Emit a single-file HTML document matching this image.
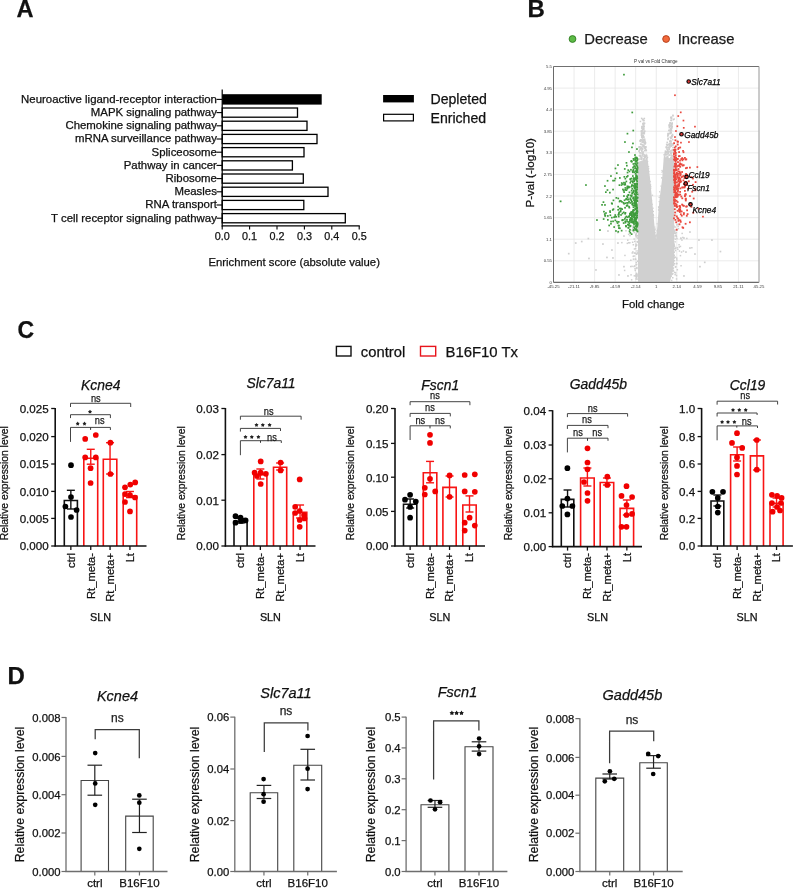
<!DOCTYPE html>
<html><head><meta charset="utf-8"><title>Figure</title>
<style>
html,body{margin:0;padding:0;background:#fff;}
body{width:794px;height:888px;overflow:hidden;}
svg{display:block;font-family:"Liberation Sans",sans-serif;filter:blur(0.3px);}
</style></head><body>
<svg width="794" height="888" viewBox="0 0 794 888">
<rect width="794" height="888" fill="#fff"/>
<text x="16.6" y="17" font-size="23.6" text-anchor="start" fill="#111" stroke="#111" stroke-width="0.25" font-weight="bold">A</text>
<text x="527.6" y="16.8" font-size="24" text-anchor="start" fill="#111" stroke="#111" stroke-width="0.25" font-weight="bold">B</text>
<text x="17.5" y="338" font-size="23" text-anchor="start" fill="#111" stroke="#111" stroke-width="0.25" font-weight="bold">C</text>
<text x="7.6" y="684.2" font-size="24" text-anchor="start" fill="#111" stroke="#111" stroke-width="0.25" font-weight="bold">D</text>
<rect x="222.2" y="94.2" width="99.5" height="10.4" fill="#000" stroke="none" stroke-width="1" />
<line x1="216.5" y1="99.4" x2="222.2" y2="99.4" stroke="#000" stroke-width="1.1" />
<text x="216.9" y="102.7" font-size="10.56" text-anchor="end" fill="#111" stroke="#111" stroke-width="0.25" textLength="195.81" lengthAdjust="spacingAndGlyphs">Neuroactive ligand-receptor interaction</text>
<rect x="222.2" y="108" width="75.3" height="9.2" fill="#fff" stroke="#000" stroke-width="1.3" />
<line x1="216.5" y1="112.6" x2="222.2" y2="112.6" stroke="#000" stroke-width="1.1" />
<text x="216.9" y="115.9" font-size="10.56" text-anchor="end" fill="#111" stroke="#111" stroke-width="0.25" textLength="126.10" lengthAdjust="spacingAndGlyphs">MAPK signaling pathway</text>
<rect x="222.2" y="121.2" width="84.8" height="9.2" fill="#fff" stroke="#000" stroke-width="1.3" />
<line x1="216.5" y1="125.8" x2="222.2" y2="125.8" stroke="#000" stroke-width="1.1" />
<text x="216.9" y="129.1" font-size="10.56" text-anchor="end" fill="#111" stroke="#111" stroke-width="0.25" textLength="151.46" lengthAdjust="spacingAndGlyphs">Chemokine signaling pathway</text>
<rect x="222.2" y="134.4" width="94.8" height="9.2" fill="#fff" stroke="#000" stroke-width="1.3" />
<line x1="216.5" y1="139" x2="222.2" y2="139" stroke="#000" stroke-width="1.1" />
<text x="216.9" y="142.3" font-size="10.56" text-anchor="end" fill="#111" stroke="#111" stroke-width="0.25" textLength="141.93" lengthAdjust="spacingAndGlyphs">mRNA surveillance pathway</text>
<rect x="222.2" y="147.6" width="81.8" height="9.2" fill="#fff" stroke="#000" stroke-width="1.3" />
<line x1="216.5" y1="152.2" x2="222.2" y2="152.2" stroke="#000" stroke-width="1.1" />
<text x="216.9" y="155.5" font-size="10.56" text-anchor="end" fill="#111" stroke="#111" stroke-width="0.25" textLength="65.27" lengthAdjust="spacingAndGlyphs">Spliceosome</text>
<rect x="222.2" y="160.8" width="70.2" height="9.2" fill="#fff" stroke="#000" stroke-width="1.3" />
<line x1="216.5" y1="165.4" x2="222.2" y2="165.4" stroke="#000" stroke-width="1.1" />
<text x="216.9" y="168.7" font-size="10.56" text-anchor="end" fill="#111" stroke="#111" stroke-width="0.25" textLength="93.15" lengthAdjust="spacingAndGlyphs">Pathway in cancer</text>
<rect x="222.2" y="174" width="81.1" height="9.2" fill="#fff" stroke="#000" stroke-width="1.3" />
<line x1="216.5" y1="178.6" x2="222.2" y2="178.6" stroke="#000" stroke-width="1.1" />
<text x="216.9" y="181.9" font-size="10.56" text-anchor="end" fill="#111" stroke="#111" stroke-width="0.25" textLength="51.32" lengthAdjust="spacingAndGlyphs">Ribosome</text>
<rect x="222.2" y="187.2" width="105.8" height="9.2" fill="#fff" stroke="#000" stroke-width="1.3" />
<line x1="216.5" y1="191.8" x2="222.2" y2="191.8" stroke="#000" stroke-width="1.1" />
<text x="216.9" y="195.1" font-size="10.56" text-anchor="end" fill="#111" stroke="#111" stroke-width="0.25" textLength="42.45" lengthAdjust="spacingAndGlyphs">Measles</text>
<rect x="222.2" y="200.4" width="81.6" height="9.2" fill="#fff" stroke="#000" stroke-width="1.3" />
<line x1="216.5" y1="205" x2="222.2" y2="205" stroke="#000" stroke-width="1.1" />
<text x="216.9" y="208.3" font-size="10.56" text-anchor="end" fill="#111" stroke="#111" stroke-width="0.25" textLength="71.60" lengthAdjust="spacingAndGlyphs">RNA transport</text>
<rect x="222.2" y="213.6" width="123.1" height="9.2" fill="#fff" stroke="#000" stroke-width="1.3" />
<line x1="216.5" y1="218.2" x2="222.2" y2="218.2" stroke="#000" stroke-width="1.1" />
<text x="216.9" y="221.5" font-size="10.56" text-anchor="end" fill="#111" stroke="#111" stroke-width="0.25" textLength="165.81" lengthAdjust="spacingAndGlyphs">T cell receptor signaling pathway</text>
<line x1="222.2" y1="89.5" x2="222.2" y2="226.5" stroke="#000" stroke-width="1.2" />
<line x1="221.7" y1="225.9" x2="359.8" y2="225.9" stroke="#000" stroke-width="1.2" />
<line x1="222.2" y1="225.9" x2="222.2" y2="229.5" stroke="#000" stroke-width="1.1" />
<text x="222.2" y="239.8" font-size="10.8" text-anchor="middle" fill="#111" stroke="#111" stroke-width="0.25">0.0</text>
<line x1="249.6" y1="225.9" x2="249.6" y2="229.5" stroke="#000" stroke-width="1.1" />
<text x="249.6" y="239.8" font-size="10.8" text-anchor="middle" fill="#111" stroke="#111" stroke-width="0.25">0.1</text>
<line x1="277" y1="225.9" x2="277" y2="229.5" stroke="#000" stroke-width="1.1" />
<text x="277" y="239.8" font-size="10.8" text-anchor="middle" fill="#111" stroke="#111" stroke-width="0.25">0.2</text>
<line x1="304.4" y1="225.9" x2="304.4" y2="229.5" stroke="#000" stroke-width="1.1" />
<text x="304.4" y="239.8" font-size="10.8" text-anchor="middle" fill="#111" stroke="#111" stroke-width="0.25">0.3</text>
<line x1="331.8" y1="225.9" x2="331.8" y2="229.5" stroke="#000" stroke-width="1.1" />
<text x="331.8" y="239.8" font-size="10.8" text-anchor="middle" fill="#111" stroke="#111" stroke-width="0.25">0.4</text>
<line x1="359.2" y1="225.9" x2="359.2" y2="229.5" stroke="#000" stroke-width="1.1" />
<text x="359.2" y="239.8" font-size="10.8" text-anchor="middle" fill="#111" stroke="#111" stroke-width="0.25">0.5</text>
<text x="208.5" y="266" font-size="11.3" text-anchor="start" fill="#111" stroke="#111" stroke-width="0.25">Enrichment score (absolute value)</text>
<rect x="383.1" y="95" width="30.8" height="7.4" fill="#000" stroke="none" stroke-width="1" />
<rect x="383.6" y="114.3" width="29.8" height="6.6" fill="#fff" stroke="#000" stroke-width="1.2" />
<text x="430.5" y="103.9" font-size="14.1" text-anchor="start" fill="#111" stroke="#111" stroke-width="0.25">Depleted</text>
<text x="430.5" y="123.1" font-size="14.1" text-anchor="start" fill="#111" stroke="#111" stroke-width="0.25">Enriched</text>
<circle cx="572.5" cy="39" r="3.4" fill="#5dbb46" stroke="#2f7d20" stroke-width="0.9"/>
<text x="584.3" y="43.8" font-size="14.8" text-anchor="start" fill="#1a1a1a" stroke="#1a1a1a" stroke-width="0.25">Decrease</text>
<circle cx="666.1" cy="39" r="3.4" fill="#f26a3c" stroke="#b03a15" stroke-width="0.9"/>
<text x="677.7" y="43.8" font-size="14.8" text-anchor="start" fill="#1a1a1a" stroke="#1a1a1a" stroke-width="0.25">Increase</text>
<rect x="553.5" y="66.5" width="205.5" height="215.9" fill="#fff" stroke="none" stroke-width="1" />
<line x1="553.5" y1="66.5" x2="553.5" y2="282.4" stroke="#e6e6e6" stroke-width="0.8" />
<line x1="553.5" y1="66.5" x2="759" y2="66.5" stroke="#e6e6e6" stroke-width="0.8" />
<line x1="574.05" y1="66.5" x2="574.05" y2="282.4" stroke="#e6e6e6" stroke-width="0.8" />
<line x1="553.5" y1="88.09" x2="759" y2="88.09" stroke="#e6e6e6" stroke-width="0.8" />
<line x1="594.6" y1="66.5" x2="594.6" y2="282.4" stroke="#e6e6e6" stroke-width="0.8" />
<line x1="553.5" y1="109.68" x2="759" y2="109.68" stroke="#e6e6e6" stroke-width="0.8" />
<line x1="615.15" y1="66.5" x2="615.15" y2="282.4" stroke="#e6e6e6" stroke-width="0.8" />
<line x1="553.5" y1="131.27" x2="759" y2="131.27" stroke="#e6e6e6" stroke-width="0.8" />
<line x1="635.7" y1="66.5" x2="635.7" y2="282.4" stroke="#e6e6e6" stroke-width="0.8" />
<line x1="553.5" y1="152.86" x2="759" y2="152.86" stroke="#e6e6e6" stroke-width="0.8" />
<line x1="656.25" y1="66.5" x2="656.25" y2="282.4" stroke="#e6e6e6" stroke-width="0.8" />
<line x1="553.5" y1="174.45" x2="759" y2="174.45" stroke="#e6e6e6" stroke-width="0.8" />
<line x1="676.8" y1="66.5" x2="676.8" y2="282.4" stroke="#e6e6e6" stroke-width="0.8" />
<line x1="553.5" y1="196.04" x2="759" y2="196.04" stroke="#e6e6e6" stroke-width="0.8" />
<line x1="697.35" y1="66.5" x2="697.35" y2="282.4" stroke="#e6e6e6" stroke-width="0.8" />
<line x1="553.5" y1="217.63" x2="759" y2="217.63" stroke="#e6e6e6" stroke-width="0.8" />
<line x1="717.9" y1="66.5" x2="717.9" y2="282.4" stroke="#e6e6e6" stroke-width="0.8" />
<line x1="553.5" y1="239.22" x2="759" y2="239.22" stroke="#e6e6e6" stroke-width="0.8" />
<line x1="738.45" y1="66.5" x2="738.45" y2="282.4" stroke="#e6e6e6" stroke-width="0.8" />
<line x1="553.5" y1="260.81" x2="759" y2="260.81" stroke="#e6e6e6" stroke-width="0.8" />
<line x1="759" y1="66.5" x2="759" y2="282.4" stroke="#e6e6e6" stroke-width="0.8" />
<line x1="553.5" y1="282.4" x2="759" y2="282.4" stroke="#e6e6e6" stroke-width="0.8" />
<text x="552" y="68.1" font-size="4.3" text-anchor="end" fill="#3a3a3a">5.5</text>
<text x="552" y="89.69" font-size="4.3" text-anchor="end" fill="#3a3a3a">4.95</text>
<text x="552" y="111.28" font-size="4.3" text-anchor="end" fill="#3a3a3a">4.4</text>
<text x="552" y="132.87" font-size="4.3" text-anchor="end" fill="#3a3a3a">3.85</text>
<text x="552" y="154.46" font-size="4.3" text-anchor="end" fill="#3a3a3a">3.3</text>
<text x="552" y="176.05" font-size="4.3" text-anchor="end" fill="#3a3a3a">2.75</text>
<text x="552" y="197.64" font-size="4.3" text-anchor="end" fill="#3a3a3a">2.2</text>
<text x="552" y="219.23" font-size="4.3" text-anchor="end" fill="#3a3a3a">1.65</text>
<text x="552" y="240.82" font-size="4.3" text-anchor="end" fill="#3a3a3a">1.1</text>
<text x="552" y="262.41" font-size="4.3" text-anchor="end" fill="#3a3a3a">0.55</text>
<text x="552" y="284" font-size="4.3" text-anchor="end" fill="#3a3a3a">0</text>
<text x="553.5" y="288" font-size="4.3" text-anchor="middle" fill="#3a3a3a">-45.25</text>
<text x="574.05" y="288" font-size="4.3" text-anchor="middle" fill="#3a3a3a">-21.11</text>
<text x="594.6" y="288" font-size="4.3" text-anchor="middle" fill="#3a3a3a">-9.85</text>
<text x="615.15" y="288" font-size="4.3" text-anchor="middle" fill="#3a3a3a">-4.59</text>
<text x="635.7" y="288" font-size="4.3" text-anchor="middle" fill="#3a3a3a">-2.14</text>
<text x="656.25" y="288" font-size="4.3" text-anchor="middle" fill="#3a3a3a">1</text>
<text x="676.8" y="288" font-size="4.3" text-anchor="middle" fill="#3a3a3a">2.14</text>
<text x="697.35" y="288" font-size="4.3" text-anchor="middle" fill="#3a3a3a">4.59</text>
<text x="717.9" y="288" font-size="4.3" text-anchor="middle" fill="#3a3a3a">9.85</text>
<text x="738.45" y="288" font-size="4.3" text-anchor="middle" fill="#3a3a3a">21.11</text>
<text x="759" y="288" font-size="4.3" text-anchor="middle" fill="#3a3a3a">45.25</text>
<text x="655.9" y="63.3" font-size="4.6" text-anchor="middle" fill="#333">P val vs Fold Change</text>
<text x="533.6" y="172.8" font-size="11.6" text-anchor="middle" fill="#111" stroke="#111" stroke-width="0.25" transform="rotate(-90 533.6 172.8)">P-val (-log10)</text>
<text x="622" y="308.2" font-size="11.4" text-anchor="start" fill="#111" stroke="#111" stroke-width="0.25">Fold change</text>
<path d="M637.5 281.8 L637.5 157 L640.5 150 L640.8 140 L642 128 L643 121 L644.5 128 L645.2 137 L646.8 157 L650.7 183.8 L654.6 215.4 L657 242.2 L659.4 215.4 L662.5 183.8 L664 157 L667.3 137 L670 125 L672 117.5 L673.6 128 L673.6 258 L672.5 272 L670 281.8 Z" fill="#d0d0d0" opacity="0.0"/>
<path d="M638 281.8 L638 162 L646.2 159 L646.8 152.4 L649.9 177.2 L652.3 202 L654.6 226.7 L656.1 239.5 L657.3 226.7 L659.2 202 L662.3 177.2 L664.1 152.4 L664.6 157 L674.2 159 L674.2 258 L672.5 272 L670 281.8 Z" fill="#d0d0d0"/>
<rect x="640.1" y="139.0" width="1.6" height="1.6" fill="#cfcfcf"/>
<rect x="638.5" y="149.9" width="1.6" height="1.6" fill="#cfcfcf"/>
<rect x="640.9" y="146.4" width="1.6" height="1.6" fill="#cfcfcf"/>
<rect x="642.5" y="125.6" width="1.6" height="1.6" fill="#cfcfcf"/>
<rect x="642.4" y="123.9" width="1.6" height="1.6" fill="#cfcfcf"/>
<rect x="641.2" y="126.5" width="1.6" height="1.6" fill="#cfcfcf"/>
<rect x="644.0" y="142.7" width="1.6" height="1.6" fill="#cfcfcf"/>
<rect x="641.3" y="129.9" width="1.6" height="1.6" fill="#cfcfcf"/>
<rect x="645.1" y="149.2" width="1.6" height="1.6" fill="#cfcfcf"/>
<rect x="641.0" y="147.7" width="1.6" height="1.6" fill="#cfcfcf"/>
<rect x="637.2" y="158.6" width="1.6" height="1.6" fill="#cfcfcf"/>
<rect x="639.7" y="155.6" width="1.6" height="1.6" fill="#cfcfcf"/>
<rect x="640.8" y="131.0" width="1.6" height="1.6" fill="#cfcfcf"/>
<rect x="643.8" y="138.4" width="1.6" height="1.6" fill="#cfcfcf"/>
<rect x="642.6" y="132.9" width="1.6" height="1.6" fill="#cfcfcf"/>
<rect x="640.8" y="149.5" width="1.6" height="1.6" fill="#cfcfcf"/>
<rect x="638.7" y="146.8" width="1.6" height="1.6" fill="#cfcfcf"/>
<rect x="641.6" y="125.7" width="1.6" height="1.6" fill="#cfcfcf"/>
<rect x="641.1" y="150.7" width="1.6" height="1.6" fill="#cfcfcf"/>
<rect x="642.5" y="138.7" width="1.6" height="1.6" fill="#cfcfcf"/>
<rect x="640.6" y="143.7" width="1.6" height="1.6" fill="#cfcfcf"/>
<rect x="643.2" y="153.9" width="1.6" height="1.6" fill="#cfcfcf"/>
<rect x="642.5" y="135.8" width="1.6" height="1.6" fill="#cfcfcf"/>
<rect x="644.4" y="146.1" width="1.6" height="1.6" fill="#cfcfcf"/>
<rect x="639.9" y="152.1" width="1.6" height="1.6" fill="#cfcfcf"/>
<rect x="637.9" y="158.7" width="1.6" height="1.6" fill="#cfcfcf"/>
<rect x="643.5" y="142.5" width="1.6" height="1.6" fill="#cfcfcf"/>
<rect x="642.3" y="131.4" width="1.6" height="1.6" fill="#cfcfcf"/>
<rect x="643.0" y="124.1" width="1.6" height="1.6" fill="#cfcfcf"/>
<rect x="642.2" y="153.1" width="1.6" height="1.6" fill="#cfcfcf"/>
<rect x="639.9" y="156.1" width="1.6" height="1.6" fill="#cfcfcf"/>
<rect x="642.4" y="151.2" width="1.6" height="1.6" fill="#cfcfcf"/>
<rect x="641.5" y="147.8" width="1.6" height="1.6" fill="#cfcfcf"/>
<rect x="645.4" y="155.1" width="1.6" height="1.6" fill="#cfcfcf"/>
<rect x="643.0" y="144.4" width="1.6" height="1.6" fill="#cfcfcf"/>
<rect x="643.1" y="125.8" width="1.6" height="1.6" fill="#cfcfcf"/>
<rect x="645.5" y="149.8" width="1.6" height="1.6" fill="#cfcfcf"/>
<rect x="639.7" y="154.6" width="1.6" height="1.6" fill="#cfcfcf"/>
<rect x="643.0" y="141.4" width="1.6" height="1.6" fill="#cfcfcf"/>
<rect x="642.5" y="122.4" width="1.6" height="1.6" fill="#cfcfcf"/>
<rect x="640.7" y="132.3" width="1.6" height="1.6" fill="#cfcfcf"/>
<rect x="643.3" y="125.7" width="1.6" height="1.6" fill="#cfcfcf"/>
<rect x="641.4" y="130.2" width="1.6" height="1.6" fill="#cfcfcf"/>
<rect x="644.2" y="141.5" width="1.6" height="1.6" fill="#cfcfcf"/>
<rect x="642.3" y="127.2" width="1.6" height="1.6" fill="#cfcfcf"/>
<rect x="644.5" y="146.8" width="1.6" height="1.6" fill="#cfcfcf"/>
<rect x="644.6" y="154.6" width="1.6" height="1.6" fill="#cfcfcf"/>
<rect x="641.7" y="137.2" width="1.6" height="1.6" fill="#cfcfcf"/>
<rect x="644.2" y="140.4" width="1.6" height="1.6" fill="#cfcfcf"/>
<rect x="638.2" y="158.2" width="1.6" height="1.6" fill="#cfcfcf"/>
<rect x="641.1" y="132.7" width="1.6" height="1.6" fill="#cfcfcf"/>
<rect x="642.1" y="135.3" width="1.6" height="1.6" fill="#cfcfcf"/>
<rect x="640.0" y="148.0" width="1.6" height="1.6" fill="#cfcfcf"/>
<rect x="642.6" y="119.7" width="1.6" height="1.6" fill="#cfcfcf"/>
<rect x="642.4" y="140.8" width="1.6" height="1.6" fill="#cfcfcf"/>
<rect x="643.2" y="158.0" width="1.6" height="1.6" fill="#cfcfcf"/>
<rect x="642.6" y="145.7" width="1.6" height="1.6" fill="#cfcfcf"/>
<rect x="638.2" y="150.6" width="1.6" height="1.6" fill="#cfcfcf"/>
<rect x="644.0" y="156.7" width="1.6" height="1.6" fill="#cfcfcf"/>
<rect x="644.1" y="156.0" width="1.6" height="1.6" fill="#cfcfcf"/>
<rect x="641.4" y="141.6" width="1.6" height="1.6" fill="#cfcfcf"/>
<rect x="642.9" y="128.7" width="1.6" height="1.6" fill="#cfcfcf"/>
<rect x="641.2" y="125.9" width="1.6" height="1.6" fill="#cfcfcf"/>
<rect x="640.7" y="134.2" width="1.6" height="1.6" fill="#cfcfcf"/>
<rect x="639.5" y="139.7" width="1.6" height="1.6" fill="#cfcfcf"/>
<rect x="642.2" y="118.5" width="1.6" height="1.6" fill="#cfcfcf"/>
<rect x="641.9" y="128.6" width="1.6" height="1.6" fill="#cfcfcf"/>
<rect x="643.5" y="122.7" width="1.6" height="1.6" fill="#cfcfcf"/>
<rect x="639.1" y="148.8" width="1.6" height="1.6" fill="#cfcfcf"/>
<rect x="641.4" y="136.1" width="1.6" height="1.6" fill="#cfcfcf"/>
<rect x="639.8" y="140.6" width="1.6" height="1.6" fill="#cfcfcf"/>
<rect x="645.8" y="155.4" width="1.6" height="1.6" fill="#cfcfcf"/>
<rect x="641.8" y="144.1" width="1.6" height="1.6" fill="#cfcfcf"/>
<rect x="641.1" y="127.6" width="1.6" height="1.6" fill="#cfcfcf"/>
<rect x="640.7" y="139.8" width="1.6" height="1.6" fill="#cfcfcf"/>
<rect x="638.6" y="154.8" width="1.6" height="1.6" fill="#cfcfcf"/>
<rect x="643.7" y="122.5" width="1.6" height="1.6" fill="#cfcfcf"/>
<rect x="639.4" y="146.2" width="1.6" height="1.6" fill="#cfcfcf"/>
<rect x="638.5" y="146.6" width="1.6" height="1.6" fill="#cfcfcf"/>
<rect x="645.1" y="146.2" width="1.6" height="1.6" fill="#cfcfcf"/>
<rect x="643.2" y="155.7" width="1.6" height="1.6" fill="#cfcfcf"/>
<rect x="641.5" y="136.5" width="1.6" height="1.6" fill="#cfcfcf"/>
<rect x="643.4" y="132.2" width="1.6" height="1.6" fill="#cfcfcf"/>
<rect x="643.8" y="146.3" width="1.6" height="1.6" fill="#cfcfcf"/>
<rect x="640.5" y="139.3" width="1.6" height="1.6" fill="#cfcfcf"/>
<rect x="645.7" y="154.4" width="1.6" height="1.6" fill="#cfcfcf"/>
<rect x="644.2" y="155.5" width="1.6" height="1.6" fill="#cfcfcf"/>
<rect x="643.6" y="154.6" width="1.6" height="1.6" fill="#cfcfcf"/>
<rect x="642.3" y="135.0" width="1.6" height="1.6" fill="#cfcfcf"/>
<rect x="639.3" y="140.2" width="1.6" height="1.6" fill="#cfcfcf"/>
<rect x="642.1" y="123.0" width="1.6" height="1.6" fill="#cfcfcf"/>
<rect x="643.1" y="136.4" width="1.6" height="1.6" fill="#cfcfcf"/>
<rect x="641.0" y="158.1" width="1.6" height="1.6" fill="#cfcfcf"/>
<rect x="645.9" y="157.6" width="1.6" height="1.6" fill="#cfcfcf"/>
<rect x="640.2" y="158.1" width="1.6" height="1.6" fill="#cfcfcf"/>
<rect x="640.9" y="134.7" width="1.6" height="1.6" fill="#cfcfcf"/>
<rect x="640.9" y="133.7" width="1.6" height="1.6" fill="#cfcfcf"/>
<rect x="644.7" y="149.1" width="1.6" height="1.6" fill="#cfcfcf"/>
<rect x="641.4" y="155.1" width="1.6" height="1.6" fill="#cfcfcf"/>
<rect x="644.0" y="149.9" width="1.6" height="1.6" fill="#cfcfcf"/>
<rect x="643.0" y="127.5" width="1.6" height="1.6" fill="#cfcfcf"/>
<rect x="644.0" y="156.9" width="1.6" height="1.6" fill="#cfcfcf"/>
<rect x="641.4" y="152.7" width="1.6" height="1.6" fill="#cfcfcf"/>
<rect x="643.5" y="132.8" width="1.6" height="1.6" fill="#cfcfcf"/>
<rect x="643.7" y="139.4" width="1.6" height="1.6" fill="#cfcfcf"/>
<rect x="640.5" y="158.5" width="1.6" height="1.6" fill="#cfcfcf"/>
<rect x="644.7" y="141.9" width="1.6" height="1.6" fill="#cfcfcf"/>
<rect x="639.0" y="152.0" width="1.6" height="1.6" fill="#cfcfcf"/>
<rect x="641.0" y="130.1" width="1.6" height="1.6" fill="#cfcfcf"/>
<rect x="644.2" y="156.8" width="1.6" height="1.6" fill="#cfcfcf"/>
<rect x="643.6" y="131.1" width="1.6" height="1.6" fill="#cfcfcf"/>
<rect x="642.9" y="158.7" width="1.6" height="1.6" fill="#cfcfcf"/>
<rect x="642.3" y="140.1" width="1.6" height="1.6" fill="#cfcfcf"/>
<rect x="640.5" y="130.3" width="1.6" height="1.6" fill="#cfcfcf"/>
<rect x="642.8" y="158.5" width="1.6" height="1.6" fill="#cfcfcf"/>
<rect x="644.8" y="146.1" width="1.6" height="1.6" fill="#cfcfcf"/>
<rect x="644.3" y="143.0" width="1.6" height="1.6" fill="#cfcfcf"/>
<rect x="639.1" y="154.8" width="1.6" height="1.6" fill="#cfcfcf"/>
<rect x="641.1" y="136.1" width="1.6" height="1.6" fill="#cfcfcf"/>
<rect x="642.6" y="135.6" width="1.6" height="1.6" fill="#cfcfcf"/>
<rect x="641.7" y="136.4" width="1.6" height="1.6" fill="#cfcfcf"/>
<rect x="643.9" y="130.3" width="1.6" height="1.6" fill="#cfcfcf"/>
<rect x="641.8" y="140.2" width="1.6" height="1.6" fill="#cfcfcf"/>
<rect x="644.7" y="147.9" width="1.6" height="1.6" fill="#cfcfcf"/>
<rect x="644.5" y="142.6" width="1.6" height="1.6" fill="#cfcfcf"/>
<rect x="642.1" y="145.3" width="1.6" height="1.6" fill="#cfcfcf"/>
<rect x="638.5" y="146.0" width="1.6" height="1.6" fill="#cfcfcf"/>
<rect x="639.9" y="143.3" width="1.6" height="1.6" fill="#cfcfcf"/>
<rect x="643.2" y="119.7" width="1.6" height="1.6" fill="#cfcfcf"/>
<rect x="642.2" y="132.5" width="1.6" height="1.6" fill="#cfcfcf"/>
<rect x="642.1" y="152.0" width="1.6" height="1.6" fill="#cfcfcf"/>
<rect x="642.2" y="139.1" width="1.6" height="1.6" fill="#cfcfcf"/>
<rect x="643.8" y="147.0" width="1.6" height="1.6" fill="#cfcfcf"/>
<rect x="642.6" y="128.9" width="1.6" height="1.6" fill="#cfcfcf"/>
<rect x="641.1" y="136.0" width="1.6" height="1.6" fill="#cfcfcf"/>
<rect x="641.7" y="153.3" width="1.6" height="1.6" fill="#cfcfcf"/>
<rect x="643.6" y="147.2" width="1.6" height="1.6" fill="#cfcfcf"/>
<rect x="641.0" y="157.0" width="1.6" height="1.6" fill="#cfcfcf"/>
<rect x="641.8" y="148.8" width="1.6" height="1.6" fill="#cfcfcf"/>
<rect x="643.2" y="145.6" width="1.6" height="1.6" fill="#cfcfcf"/>
<rect x="668.7" y="142.7" width="1.6" height="1.6" fill="#cfcfcf"/>
<rect x="665.9" y="143.6" width="1.6" height="1.6" fill="#cfcfcf"/>
<rect x="665.4" y="150.8" width="1.6" height="1.6" fill="#cfcfcf"/>
<rect x="670.3" y="157.7" width="1.6" height="1.6" fill="#cfcfcf"/>
<rect x="665.5" y="146.4" width="1.6" height="1.6" fill="#cfcfcf"/>
<rect x="671.4" y="154.9" width="1.6" height="1.6" fill="#cfcfcf"/>
<rect x="670.0" y="128.0" width="1.6" height="1.6" fill="#cfcfcf"/>
<rect x="670.8" y="124.7" width="1.6" height="1.6" fill="#cfcfcf"/>
<rect x="669.4" y="124.8" width="1.6" height="1.6" fill="#cfcfcf"/>
<rect x="665.0" y="153.3" width="1.6" height="1.6" fill="#cfcfcf"/>
<rect x="668.8" y="129.9" width="1.6" height="1.6" fill="#cfcfcf"/>
<rect x="671.3" y="149.6" width="1.6" height="1.6" fill="#cfcfcf"/>
<rect x="664.0" y="156.1" width="1.6" height="1.6" fill="#cfcfcf"/>
<rect x="667.3" y="133.2" width="1.6" height="1.6" fill="#cfcfcf"/>
<rect x="669.1" y="140.7" width="1.6" height="1.6" fill="#cfcfcf"/>
<rect x="664.8" y="158.9" width="1.6" height="1.6" fill="#cfcfcf"/>
<rect x="669.9" y="130.3" width="1.6" height="1.6" fill="#cfcfcf"/>
<rect x="669.9" y="144.9" width="1.6" height="1.6" fill="#cfcfcf"/>
<rect x="670.4" y="132.0" width="1.6" height="1.6" fill="#cfcfcf"/>
<rect x="672.4" y="151.5" width="1.6" height="1.6" fill="#cfcfcf"/>
<rect x="669.2" y="146.2" width="1.6" height="1.6" fill="#cfcfcf"/>
<rect x="670.6" y="119.6" width="1.6" height="1.6" fill="#cfcfcf"/>
<rect x="668.5" y="148.5" width="1.6" height="1.6" fill="#cfcfcf"/>
<rect x="668.5" y="124.1" width="1.6" height="1.6" fill="#cfcfcf"/>
<rect x="664.3" y="153.4" width="1.6" height="1.6" fill="#cfcfcf"/>
<rect x="670.7" y="126.9" width="1.6" height="1.6" fill="#cfcfcf"/>
<rect x="669.4" y="122.0" width="1.6" height="1.6" fill="#cfcfcf"/>
<rect x="671.3" y="135.5" width="1.6" height="1.6" fill="#cfcfcf"/>
<rect x="666.4" y="141.6" width="1.6" height="1.6" fill="#cfcfcf"/>
<rect x="670.4" y="154.3" width="1.6" height="1.6" fill="#cfcfcf"/>
<rect x="668.0" y="129.6" width="1.6" height="1.6" fill="#cfcfcf"/>
<rect x="667.2" y="146.8" width="1.6" height="1.6" fill="#cfcfcf"/>
<rect x="671.4" y="125.9" width="1.6" height="1.6" fill="#cfcfcf"/>
<rect x="669.1" y="150.5" width="1.6" height="1.6" fill="#cfcfcf"/>
<rect x="668.6" y="124.7" width="1.6" height="1.6" fill="#cfcfcf"/>
<rect x="666.3" y="148.8" width="1.6" height="1.6" fill="#cfcfcf"/>
<rect x="668.7" y="125.5" width="1.6" height="1.6" fill="#cfcfcf"/>
<rect x="668.8" y="124.3" width="1.6" height="1.6" fill="#cfcfcf"/>
<rect x="670.0" y="142.8" width="1.6" height="1.6" fill="#cfcfcf"/>
<rect x="665.7" y="146.2" width="1.6" height="1.6" fill="#cfcfcf"/>
<rect x="671.3" y="135.4" width="1.6" height="1.6" fill="#cfcfcf"/>
<rect x="670.6" y="145.3" width="1.6" height="1.6" fill="#cfcfcf"/>
<rect x="671.0" y="127.2" width="1.6" height="1.6" fill="#cfcfcf"/>
<rect x="670.9" y="122.9" width="1.6" height="1.6" fill="#cfcfcf"/>
<rect x="670.3" y="137.3" width="1.6" height="1.6" fill="#cfcfcf"/>
<rect x="670.1" y="152.6" width="1.6" height="1.6" fill="#cfcfcf"/>
<rect x="671.0" y="144.4" width="1.6" height="1.6" fill="#cfcfcf"/>
<rect x="671.9" y="138.8" width="1.6" height="1.6" fill="#cfcfcf"/>
<rect x="671.8" y="134.7" width="1.6" height="1.6" fill="#cfcfcf"/>
<rect x="668.0" y="151.8" width="1.6" height="1.6" fill="#cfcfcf"/>
<rect x="669.7" y="131.7" width="1.6" height="1.6" fill="#cfcfcf"/>
<rect x="671.8" y="157.5" width="1.6" height="1.6" fill="#cfcfcf"/>
<rect x="668.9" y="154.3" width="1.6" height="1.6" fill="#cfcfcf"/>
<rect x="666.6" y="144.2" width="1.6" height="1.6" fill="#cfcfcf"/>
<rect x="669.0" y="140.5" width="1.6" height="1.6" fill="#cfcfcf"/>
<rect x="664.6" y="150.4" width="1.6" height="1.6" fill="#cfcfcf"/>
<rect x="667.2" y="138.6" width="1.6" height="1.6" fill="#cfcfcf"/>
<rect x="667.4" y="151.0" width="1.6" height="1.6" fill="#cfcfcf"/>
<rect x="670.0" y="141.0" width="1.6" height="1.6" fill="#cfcfcf"/>
<rect x="671.1" y="123.3" width="1.6" height="1.6" fill="#cfcfcf"/>
<rect x="669.2" y="124.6" width="1.6" height="1.6" fill="#cfcfcf"/>
<rect x="671.1" y="134.9" width="1.6" height="1.6" fill="#cfcfcf"/>
<rect x="668.8" y="125.6" width="1.6" height="1.6" fill="#cfcfcf"/>
<rect x="666.7" y="155.7" width="1.6" height="1.6" fill="#cfcfcf"/>
<rect x="670.7" y="136.1" width="1.6" height="1.6" fill="#cfcfcf"/>
<rect x="669.5" y="136.5" width="1.6" height="1.6" fill="#cfcfcf"/>
<rect x="669.9" y="130.1" width="1.6" height="1.6" fill="#cfcfcf"/>
<rect x="667.0" y="135.2" width="1.6" height="1.6" fill="#cfcfcf"/>
<rect x="667.6" y="158.5" width="1.6" height="1.6" fill="#cfcfcf"/>
<rect x="667.1" y="134.4" width="1.6" height="1.6" fill="#cfcfcf"/>
<rect x="670.0" y="137.2" width="1.6" height="1.6" fill="#cfcfcf"/>
<rect x="670.6" y="116.4" width="1.6" height="1.6" fill="#cfcfcf"/>
<rect x="668.9" y="143.5" width="1.6" height="1.6" fill="#cfcfcf"/>
<rect x="669.5" y="132.3" width="1.6" height="1.6" fill="#cfcfcf"/>
<rect x="670.8" y="117.5" width="1.6" height="1.6" fill="#cfcfcf"/>
<rect x="670.2" y="125.9" width="1.6" height="1.6" fill="#cfcfcf"/>
<rect x="671.4" y="122.2" width="1.6" height="1.6" fill="#cfcfcf"/>
<rect x="670.7" y="137.0" width="1.6" height="1.6" fill="#cfcfcf"/>
<rect x="668.5" y="147.3" width="1.6" height="1.6" fill="#cfcfcf"/>
<rect x="667.1" y="152.3" width="1.6" height="1.6" fill="#cfcfcf"/>
<rect x="665.4" y="151.3" width="1.6" height="1.6" fill="#cfcfcf"/>
<rect x="670.1" y="140.4" width="1.6" height="1.6" fill="#cfcfcf"/>
<rect x="671.4" y="158.8" width="1.6" height="1.6" fill="#cfcfcf"/>
<rect x="667.3" y="151.5" width="1.6" height="1.6" fill="#cfcfcf"/>
<rect x="669.2" y="122.4" width="1.6" height="1.6" fill="#cfcfcf"/>
<rect x="667.0" y="156.3" width="1.6" height="1.6" fill="#cfcfcf"/>
<rect x="665.8" y="151.8" width="1.6" height="1.6" fill="#cfcfcf"/>
<rect x="669.6" y="129.0" width="1.6" height="1.6" fill="#cfcfcf"/>
<rect x="666.5" y="144.5" width="1.6" height="1.6" fill="#cfcfcf"/>
<rect x="665.5" y="153.9" width="1.6" height="1.6" fill="#cfcfcf"/>
<rect x="665.8" y="147.2" width="1.6" height="1.6" fill="#cfcfcf"/>
<rect x="667.0" y="150.3" width="1.6" height="1.6" fill="#cfcfcf"/>
<rect x="671.7" y="133.7" width="1.6" height="1.6" fill="#cfcfcf"/>
<rect x="670.3" y="128.7" width="1.6" height="1.6" fill="#cfcfcf"/>
<rect x="668.6" y="126.9" width="1.6" height="1.6" fill="#cfcfcf"/>
<rect x="667.8" y="146.4" width="1.6" height="1.6" fill="#cfcfcf"/>
<rect x="667.2" y="148.5" width="1.6" height="1.6" fill="#cfcfcf"/>
<rect x="672.2" y="144.0" width="1.6" height="1.6" fill="#cfcfcf"/>
<rect x="666.2" y="153.7" width="1.6" height="1.6" fill="#cfcfcf"/>
<rect x="668.6" y="144.5" width="1.6" height="1.6" fill="#cfcfcf"/>
<rect x="671.9" y="149.6" width="1.6" height="1.6" fill="#cfcfcf"/>
<rect x="670.5" y="151.9" width="1.6" height="1.6" fill="#cfcfcf"/>
<rect x="670.7" y="124.9" width="1.6" height="1.6" fill="#cfcfcf"/>
<rect x="670.8" y="151.7" width="1.6" height="1.6" fill="#cfcfcf"/>
<rect x="664.5" y="152.0" width="1.6" height="1.6" fill="#cfcfcf"/>
<rect x="669.6" y="144.2" width="1.6" height="1.6" fill="#cfcfcf"/>
<rect x="667.6" y="143.7" width="1.6" height="1.6" fill="#cfcfcf"/>
<rect x="667.4" y="152.8" width="1.6" height="1.6" fill="#cfcfcf"/>
<rect x="671.8" y="149.1" width="1.6" height="1.6" fill="#cfcfcf"/>
<rect x="670.7" y="129.5" width="1.6" height="1.6" fill="#cfcfcf"/>
<rect x="670.0" y="152.1" width="1.6" height="1.6" fill="#cfcfcf"/>
<rect x="672.2" y="146.7" width="1.6" height="1.6" fill="#cfcfcf"/>
<rect x="670.7" y="123.8" width="1.6" height="1.6" fill="#cfcfcf"/>
<rect x="667.0" y="150.0" width="1.6" height="1.6" fill="#cfcfcf"/>
<rect x="670.2" y="150.1" width="1.6" height="1.6" fill="#cfcfcf"/>
<rect x="669.0" y="145.0" width="1.6" height="1.6" fill="#cfcfcf"/>
<rect x="671.4" y="143.2" width="1.6" height="1.6" fill="#cfcfcf"/>
<rect x="670.9" y="156.4" width="1.6" height="1.6" fill="#cfcfcf"/>
<rect x="663.9" y="158.6" width="1.6" height="1.6" fill="#cfcfcf"/>
<rect x="670.3" y="119.5" width="1.6" height="1.6" fill="#cfcfcf"/>
<rect x="664.2" y="154.3" width="1.6" height="1.6" fill="#cfcfcf"/>
<rect x="670.4" y="142.6" width="1.6" height="1.6" fill="#cfcfcf"/>
<rect x="667.4" y="132.7" width="1.6" height="1.6" fill="#cfcfcf"/>
<rect x="669.1" y="132.8" width="1.6" height="1.6" fill="#cfcfcf"/>
<rect x="669.6" y="129.2" width="1.6" height="1.6" fill="#cfcfcf"/>
<rect x="671.5" y="158.0" width="1.6" height="1.6" fill="#cfcfcf"/>
<rect x="668.2" y="154.3" width="1.6" height="1.6" fill="#cfcfcf"/>
<rect x="666.3" y="156.2" width="1.6" height="1.6" fill="#cfcfcf"/>
<rect x="667.5" y="133.8" width="1.6" height="1.6" fill="#cfcfcf"/>
<rect x="672.1" y="143.9" width="1.6" height="1.6" fill="#cfcfcf"/>
<rect x="670.4" y="117.2" width="1.6" height="1.6" fill="#cfcfcf"/>
<rect x="670.2" y="142.7" width="1.6" height="1.6" fill="#cfcfcf"/>
<rect x="670.3" y="129.1" width="1.6" height="1.6" fill="#cfcfcf"/>
<rect x="667.3" y="137.5" width="1.6" height="1.6" fill="#cfcfcf"/>
<rect x="670.0" y="116.7" width="1.6" height="1.6" fill="#cfcfcf"/>
<rect x="671.6" y="154.9" width="1.6" height="1.6" fill="#cfcfcf"/>
<rect x="666.1" y="157.2" width="1.6" height="1.6" fill="#cfcfcf"/>
<rect x="670.1" y="156.6" width="1.6" height="1.6" fill="#cfcfcf"/>
<rect x="669.7" y="139.7" width="1.6" height="1.6" fill="#cfcfcf"/>
<rect x="667.1" y="159.2" width="1.6" height="1.6" fill="#cfcfcf"/>
<rect x="640.9" y="117.6" width="1.5" height="1.5" fill="#cfcfcf"/>
<rect x="672.2" y="114.5" width="1.5" height="1.5" fill="#cfcfcf"/>
<rect x="643.6" y="117.7" width="1.5" height="1.5" fill="#cfcfcf"/>
<rect x="672.6" y="118.9" width="1.5" height="1.5" fill="#cfcfcf"/>
<rect x="641.8" y="118.8" width="1.5" height="1.5" fill="#cfcfcf"/>
<rect x="672.2" y="115.2" width="1.5" height="1.5" fill="#cfcfcf"/>
<rect x="639.7" y="120.7" width="1.5" height="1.5" fill="#cfcfcf"/>
<rect x="673.4" y="118.3" width="1.5" height="1.5" fill="#cfcfcf"/>
<rect x="657.9" y="206.3" width="1.2" height="1.2" fill="#cfcfcf"/>
<rect x="652.7" y="214.0" width="1.2" height="1.2" fill="#cfcfcf"/>
<rect x="653.0" y="215.1" width="1.2" height="1.2" fill="#cfcfcf"/>
<rect x="648.1" y="176.3" width="1.2" height="1.2" fill="#cfcfcf"/>
<rect x="654.4" y="232.0" width="1.2" height="1.2" fill="#cfcfcf"/>
<rect x="661.0" y="177.3" width="1.2" height="1.2" fill="#cfcfcf"/>
<rect x="655.0" y="236.3" width="1.2" height="1.2" fill="#cfcfcf"/>
<rect x="651.0" y="199.9" width="1.2" height="1.2" fill="#cfcfcf"/>
<rect x="648.0" y="166.0" width="1.2" height="1.2" fill="#cfcfcf"/>
<rect x="651.9" y="194.6" width="1.2" height="1.2" fill="#cfcfcf"/>
<rect x="656.5" y="230.2" width="1.2" height="1.2" fill="#cfcfcf"/>
<rect x="648.1" y="168.1" width="1.2" height="1.2" fill="#cfcfcf"/>
<rect x="649.4" y="181.2" width="1.2" height="1.2" fill="#cfcfcf"/>
<rect x="658.6" y="201.0" width="1.2" height="1.2" fill="#cfcfcf"/>
<rect x="652.6" y="216.6" width="1.2" height="1.2" fill="#cfcfcf"/>
<rect x="650.0" y="184.2" width="1.2" height="1.2" fill="#cfcfcf"/>
<rect x="647.0" y="156.8" width="1.2" height="1.2" fill="#cfcfcf"/>
<rect x="659.5" y="195.2" width="1.2" height="1.2" fill="#cfcfcf"/>
<rect x="654.2" y="226.5" width="1.2" height="1.2" fill="#cfcfcf"/>
<rect x="650.3" y="186.2" width="1.2" height="1.2" fill="#cfcfcf"/>
<rect x="655.8" y="234.4" width="1.2" height="1.2" fill="#cfcfcf"/>
<rect x="663.3" y="154.2" width="1.2" height="1.2" fill="#cfcfcf"/>
<rect x="654.5" y="229.3" width="1.2" height="1.2" fill="#cfcfcf"/>
<rect x="660.4" y="185.5" width="1.2" height="1.2" fill="#cfcfcf"/>
<rect x="656.5" y="223.2" width="1.2" height="1.2" fill="#cfcfcf"/>
<rect x="647.1" y="160.9" width="1.2" height="1.2" fill="#cfcfcf"/>
<rect x="658.6" y="196.8" width="1.2" height="1.2" fill="#cfcfcf"/>
<rect x="658.6" y="207.7" width="1.2" height="1.2" fill="#cfcfcf"/>
<rect x="659.0" y="191.2" width="1.2" height="1.2" fill="#cfcfcf"/>
<rect x="661.4" y="171.6" width="1.2" height="1.2" fill="#cfcfcf"/>
<rect x="652.5" y="207.6" width="1.2" height="1.2" fill="#cfcfcf"/>
<rect x="658.1" y="206.8" width="1.2" height="1.2" fill="#cfcfcf"/>
<rect x="646.6" y="161.2" width="1.2" height="1.2" fill="#cfcfcf"/>
<rect x="649.7" y="185.2" width="1.2" height="1.2" fill="#cfcfcf"/>
<rect x="651.6" y="203.7" width="1.2" height="1.2" fill="#cfcfcf"/>
<rect x="655.3" y="234.8" width="1.2" height="1.2" fill="#cfcfcf"/>
<rect x="654.5" y="228.3" width="1.2" height="1.2" fill="#cfcfcf"/>
<rect x="655.4" y="235.0" width="1.2" height="1.2" fill="#cfcfcf"/>
<rect x="648.3" y="178.1" width="1.2" height="1.2" fill="#cfcfcf"/>
<rect x="650.1" y="187.9" width="1.2" height="1.2" fill="#cfcfcf"/>
<rect x="658.1" y="209.5" width="1.2" height="1.2" fill="#cfcfcf"/>
<rect x="649.5" y="180.8" width="1.2" height="1.2" fill="#cfcfcf"/>
<rect x="652.8" y="210.8" width="1.2" height="1.2" fill="#cfcfcf"/>
<rect x="650.1" y="195.3" width="1.2" height="1.2" fill="#cfcfcf"/>
<rect x="655.4" y="235.8" width="1.2" height="1.2" fill="#cfcfcf"/>
<rect x="662.1" y="170.7" width="1.2" height="1.2" fill="#cfcfcf"/>
<rect x="661.5" y="177.1" width="1.2" height="1.2" fill="#cfcfcf"/>
<rect x="648.3" y="170.8" width="1.2" height="1.2" fill="#cfcfcf"/>
<rect x="657.9" y="209.3" width="1.2" height="1.2" fill="#cfcfcf"/>
<rect x="661.4" y="169.9" width="1.2" height="1.2" fill="#cfcfcf"/>
<rect x="636.6" y="231.3" width="1.5" height="1.5" fill="#cfcfcf"/>
<rect x="679.7" y="245.7" width="1.5" height="1.5" fill="#cfcfcf"/>
<rect x="680.3" y="265.0" width="1.5" height="1.5" fill="#cfcfcf"/>
<rect x="628.0" y="242.0" width="1.5" height="1.5" fill="#cfcfcf"/>
<rect x="633.3" y="265.8" width="1.5" height="1.5" fill="#cfcfcf"/>
<rect x="635.5" y="244.8" width="1.5" height="1.5" fill="#cfcfcf"/>
<rect x="635.7" y="232.9" width="1.5" height="1.5" fill="#cfcfcf"/>
<rect x="673.3" y="243.3" width="1.5" height="1.5" fill="#cfcfcf"/>
<rect x="635.3" y="278.2" width="1.5" height="1.5" fill="#cfcfcf"/>
<rect x="672.7" y="270.1" width="1.5" height="1.5" fill="#cfcfcf"/>
<rect x="635.3" y="226.1" width="1.5" height="1.5" fill="#cfcfcf"/>
<rect x="635.3" y="275.7" width="1.5" height="1.5" fill="#cfcfcf"/>
<rect x="635.1" y="274.4" width="1.5" height="1.5" fill="#cfcfcf"/>
<rect x="671.1" y="269.5" width="1.5" height="1.5" fill="#cfcfcf"/>
<rect x="628.7" y="225.2" width="1.5" height="1.5" fill="#cfcfcf"/>
<rect x="680.2" y="237.9" width="1.5" height="1.5" fill="#cfcfcf"/>
<rect x="626.6" y="242.6" width="1.5" height="1.5" fill="#cfcfcf"/>
<rect x="632.7" y="258.4" width="1.5" height="1.5" fill="#cfcfcf"/>
<rect x="636.7" y="241.3" width="1.5" height="1.5" fill="#cfcfcf"/>
<rect x="674.7" y="266.3" width="1.5" height="1.5" fill="#cfcfcf"/>
<rect x="635.9" y="277.0" width="1.5" height="1.5" fill="#cfcfcf"/>
<rect x="682.7" y="250.3" width="1.5" height="1.5" fill="#cfcfcf"/>
<rect x="635.0" y="245.3" width="1.5" height="1.5" fill="#cfcfcf"/>
<rect x="673.5" y="251.4" width="1.5" height="1.5" fill="#cfcfcf"/>
<rect x="676.6" y="269.0" width="1.5" height="1.5" fill="#cfcfcf"/>
<rect x="672.6" y="267.3" width="1.5" height="1.5" fill="#cfcfcf"/>
<rect x="631.9" y="241.5" width="1.5" height="1.5" fill="#cfcfcf"/>
<rect x="632.3" y="227.8" width="1.5" height="1.5" fill="#cfcfcf"/>
<rect x="636.6" y="237.3" width="1.5" height="1.5" fill="#cfcfcf"/>
<rect x="624.2" y="254.7" width="1.5" height="1.5" fill="#cfcfcf"/>
<rect x="671.4" y="273.6" width="1.5" height="1.5" fill="#cfcfcf"/>
<rect x="634.5" y="228.0" width="1.5" height="1.5" fill="#cfcfcf"/>
<rect x="635.9" y="263.7" width="1.5" height="1.5" fill="#cfcfcf"/>
<rect x="676.4" y="247.0" width="1.5" height="1.5" fill="#cfcfcf"/>
<rect x="675.0" y="265.9" width="1.5" height="1.5" fill="#cfcfcf"/>
<rect x="674.0" y="230.2" width="1.5" height="1.5" fill="#cfcfcf"/>
<rect x="632.5" y="255.6" width="1.5" height="1.5" fill="#cfcfcf"/>
<rect x="635.8" y="234.6" width="1.5" height="1.5" fill="#cfcfcf"/>
<rect x="675.6" y="232.0" width="1.5" height="1.5" fill="#cfcfcf"/>
<rect x="621.1" y="241.9" width="1.5" height="1.5" fill="#cfcfcf"/>
<rect x="631.5" y="252.2" width="1.5" height="1.5" fill="#cfcfcf"/>
<rect x="672.7" y="260.5" width="1.5" height="1.5" fill="#cfcfcf"/>
<rect x="678.7" y="250.3" width="1.5" height="1.5" fill="#cfcfcf"/>
<rect x="635.6" y="275.4" width="1.5" height="1.5" fill="#cfcfcf"/>
<rect x="625.2" y="230.0" width="1.5" height="1.5" fill="#cfcfcf"/>
<rect x="674.3" y="256.5" width="1.5" height="1.5" fill="#cfcfcf"/>
<rect x="635.8" y="272.6" width="1.5" height="1.5" fill="#cfcfcf"/>
<rect x="671.7" y="267.6" width="1.5" height="1.5" fill="#cfcfcf"/>
<rect x="673.6" y="257.2" width="1.5" height="1.5" fill="#cfcfcf"/>
<rect x="636.0" y="244.3" width="1.5" height="1.5" fill="#cfcfcf"/>
<rect x="676.2" y="237.8" width="1.5" height="1.5" fill="#cfcfcf"/>
<rect x="635.5" y="234.8" width="1.5" height="1.5" fill="#cfcfcf"/>
<rect x="635.6" y="261.9" width="1.5" height="1.5" fill="#cfcfcf"/>
<rect x="675.4" y="234.8" width="1.5" height="1.5" fill="#cfcfcf"/>
<rect x="635.1" y="226.9" width="1.5" height="1.5" fill="#cfcfcf"/>
<rect x="673.2" y="254.6" width="1.5" height="1.5" fill="#cfcfcf"/>
<rect x="674.5" y="232.6" width="1.5" height="1.5" fill="#cfcfcf"/>
<rect x="627.0" y="239.4" width="1.5" height="1.5" fill="#cfcfcf"/>
<rect x="674.3" y="241.1" width="1.5" height="1.5" fill="#cfcfcf"/>
<rect x="691.1" y="247.0" width="1.5" height="1.5" fill="#cfcfcf"/>
<rect x="632.6" y="244.0" width="1.5" height="1.5" fill="#cfcfcf"/>
<rect x="629.3" y="234.9" width="1.5" height="1.5" fill="#cfcfcf"/>
<rect x="674.5" y="247.4" width="1.5" height="1.5" fill="#cfcfcf"/>
<rect x="636.2" y="273.6" width="1.5" height="1.5" fill="#cfcfcf"/>
<rect x="676.1" y="224.1" width="1.5" height="1.5" fill="#cfcfcf"/>
<rect x="633.6" y="275.1" width="1.5" height="1.5" fill="#cfcfcf"/>
<rect x="673.4" y="244.4" width="1.5" height="1.5" fill="#cfcfcf"/>
<rect x="681.2" y="239.4" width="1.5" height="1.5" fill="#cfcfcf"/>
<rect x="631.5" y="229.5" width="1.5" height="1.5" fill="#cfcfcf"/>
<rect x="636.3" y="278.4" width="1.5" height="1.5" fill="#cfcfcf"/>
<rect x="672.0" y="277.0" width="1.5" height="1.5" fill="#cfcfcf"/>
<rect x="674.4" y="226.3" width="1.5" height="1.5" fill="#cfcfcf"/>
<rect x="675.8" y="274.8" width="1.5" height="1.5" fill="#cfcfcf"/>
<rect x="673.7" y="232.4" width="1.5" height="1.5" fill="#cfcfcf"/>
<rect x="678.5" y="246.3" width="1.5" height="1.5" fill="#cfcfcf"/>
<rect x="635.1" y="233.7" width="1.5" height="1.5" fill="#cfcfcf"/>
<rect x="636.3" y="252.8" width="1.5" height="1.5" fill="#cfcfcf"/>
<rect x="680.1" y="237.3" width="1.5" height="1.5" fill="#cfcfcf"/>
<rect x="677.4" y="225.6" width="1.5" height="1.5" fill="#cfcfcf"/>
<rect x="673.3" y="225.4" width="1.5" height="1.5" fill="#cfcfcf"/>
<rect x="676.0" y="257.4" width="1.5" height="1.5" fill="#cfcfcf"/>
<rect x="634.0" y="240.7" width="1.5" height="1.5" fill="#cfcfcf"/>
<rect x="674.7" y="247.5" width="1.5" height="1.5" fill="#cfcfcf"/>
<rect x="633.7" y="248.2" width="1.5" height="1.5" fill="#cfcfcf"/>
<rect x="632.1" y="251.2" width="1.5" height="1.5" fill="#cfcfcf"/>
<rect x="636.1" y="267.7" width="1.5" height="1.5" fill="#cfcfcf"/>
<rect x="636.3" y="250.2" width="1.5" height="1.5" fill="#cfcfcf"/>
<rect x="634.9" y="247.8" width="1.5" height="1.5" fill="#cfcfcf"/>
<rect x="633.5" y="252.3" width="1.5" height="1.5" fill="#cfcfcf"/>
<rect x="677.7" y="227.9" width="1.5" height="1.5" fill="#cfcfcf"/>
<rect x="634.5" y="252.4" width="1.5" height="1.5" fill="#cfcfcf"/>
<rect x="673.3" y="244.8" width="1.5" height="1.5" fill="#cfcfcf"/>
<rect x="674.8" y="272.1" width="1.5" height="1.5" fill="#cfcfcf"/>
<rect x="623.9" y="269.7" width="1.5" height="1.5" fill="#cfcfcf"/>
<rect x="680.8" y="251.3" width="1.5" height="1.5" fill="#cfcfcf"/>
<rect x="681.4" y="232.7" width="1.5" height="1.5" fill="#cfcfcf"/>
<rect x="632.2" y="227.0" width="1.5" height="1.5" fill="#cfcfcf"/>
<rect x="673.9" y="232.3" width="1.5" height="1.5" fill="#cfcfcf"/>
<rect x="634.5" y="269.7" width="1.5" height="1.5" fill="#cfcfcf"/>
<rect x="635.8" y="275.7" width="1.5" height="1.5" fill="#cfcfcf"/>
<rect x="636.6" y="252.1" width="1.5" height="1.5" fill="#cfcfcf"/>
<rect x="627.9" y="233.6" width="1.5" height="1.5" fill="#cfcfcf"/>
<rect x="672.7" y="262.0" width="1.5" height="1.5" fill="#cfcfcf"/>
<rect x="634.3" y="268.0" width="1.5" height="1.5" fill="#cfcfcf"/>
<rect x="630.1" y="259.5" width="1.5" height="1.5" fill="#cfcfcf"/>
<rect x="679.7" y="254.9" width="1.5" height="1.5" fill="#cfcfcf"/>
<rect x="676.0" y="229.2" width="1.5" height="1.5" fill="#cfcfcf"/>
<rect x="673.8" y="245.7" width="1.5" height="1.5" fill="#cfcfcf"/>
<rect x="670.9" y="279.7" width="1.5" height="1.5" fill="#cfcfcf"/>
<rect x="636.1" y="266.8" width="1.5" height="1.5" fill="#cfcfcf"/>
<rect x="631.3" y="265.6" width="1.5" height="1.5" fill="#cfcfcf"/>
<rect x="686.1" y="237.7" width="1.5" height="1.5" fill="#cfcfcf"/>
<rect x="674.0" y="256.6" width="1.5" height="1.5" fill="#cfcfcf"/>
<rect x="636.2" y="223.4" width="1.5" height="1.5" fill="#cfcfcf"/>
<rect x="634.4" y="258.4" width="1.5" height="1.5" fill="#cfcfcf"/>
<rect x="635.9" y="274.3" width="1.5" height="1.5" fill="#cfcfcf"/>
<rect x="636.7" y="260.5" width="1.5" height="1.5" fill="#cfcfcf"/>
<rect x="635.3" y="243.5" width="1.5" height="1.5" fill="#cfcfcf"/>
<rect x="675.7" y="236.0" width="1.5" height="1.5" fill="#cfcfcf"/>
<rect x="674.9" y="234.9" width="1.5" height="1.5" fill="#cfcfcf"/>
<rect x="673.7" y="230.9" width="1.5" height="1.5" fill="#cfcfcf"/>
<rect x="633.5" y="231.8" width="1.5" height="1.5" fill="#cfcfcf"/>
<rect x="672.1" y="272.9" width="1.5" height="1.5" fill="#cfcfcf"/>
<rect x="633.4" y="238.3" width="1.5" height="1.5" fill="#cfcfcf"/>
<rect x="633.4" y="255.3" width="1.5" height="1.5" fill="#cfcfcf"/>
<rect x="677.1" y="248.5" width="1.5" height="1.5" fill="#cfcfcf"/>
<rect x="673.0" y="237.4" width="1.5" height="1.5" fill="#cfcfcf"/>
<rect x="635.9" y="253.5" width="1.5" height="1.5" fill="#cfcfcf"/>
<rect x="672.9" y="226.6" width="1.5" height="1.5" fill="#cfcfcf"/>
<rect x="673.3" y="254.7" width="1.5" height="1.5" fill="#cfcfcf"/>
<rect x="675.1" y="234.6" width="1.5" height="1.5" fill="#cfcfcf"/>
<rect x="673.1" y="259.8" width="1.5" height="1.5" fill="#cfcfcf"/>
<rect x="636.6" y="240.9" width="1.5" height="1.5" fill="#cfcfcf"/>
<rect x="674.4" y="273.9" width="1.5" height="1.5" fill="#cfcfcf"/>
<rect x="677.2" y="223.6" width="1.5" height="1.5" fill="#cfcfcf"/>
<rect x="674.8" y="249.8" width="1.5" height="1.5" fill="#cfcfcf"/>
<rect x="635.9" y="236.1" width="1.5" height="1.5" fill="#cfcfcf"/>
<rect x="632.3" y="225.5" width="1.5" height="1.5" fill="#cfcfcf"/>
<rect x="676.0" y="262.9" width="1.5" height="1.5" fill="#cfcfcf"/>
<rect x="674.7" y="238.4" width="1.5" height="1.5" fill="#cfcfcf"/>
<rect x="672.2" y="268.2" width="1.5" height="1.5" fill="#cfcfcf"/>
<rect x="673.2" y="259.8" width="1.5" height="1.5" fill="#cfcfcf"/>
<rect x="635.8" y="273.4" width="1.5" height="1.5" fill="#cfcfcf"/>
<rect x="682.1" y="236.7" width="1.5" height="1.5" fill="#cfcfcf"/>
<rect x="630.0" y="265.8" width="1.5" height="1.5" fill="#cfcfcf"/>
<rect x="629.1" y="242.0" width="1.5" height="1.5" fill="#cfcfcf"/>
<rect x="676.1" y="259.2" width="1.5" height="1.5" fill="#cfcfcf"/>
<rect x="630.9" y="279.1" width="1.5" height="1.5" fill="#cfcfcf"/>
<rect x="673.8" y="263.0" width="1.5" height="1.5" fill="#cfcfcf"/>
<rect x="672.9" y="264.6" width="1.5" height="1.5" fill="#cfcfcf"/>
<rect x="673.1" y="235.3" width="1.5" height="1.5" fill="#cfcfcf"/>
<rect x="636.7" y="275.2" width="1.5" height="1.5" fill="#cfcfcf"/>
<rect x="674.2" y="229.3" width="1.5" height="1.5" fill="#cfcfcf"/>
<rect x="636.6" y="231.3" width="1.5" height="1.5" fill="#cfcfcf"/>
<rect x="675.8" y="262.7" width="1.5" height="1.5" fill="#cfcfcf"/>
<rect x="633.9" y="265.2" width="1.5" height="1.5" fill="#cfcfcf"/>
<rect x="678.3" y="244.0" width="1.5" height="1.5" fill="#cfcfcf"/>
<rect x="630.3" y="274.1" width="1.5" height="1.5" fill="#cfcfcf"/>
<rect x="670.5" y="275.4" width="1.5" height="1.5" fill="#cfcfcf"/>
<rect x="636.6" y="235.0" width="1.5" height="1.5" fill="#cfcfcf"/>
<rect x="673.9" y="271.6" width="1.5" height="1.5" fill="#cfcfcf"/>
<rect x="672.0" y="270.3" width="1.5" height="1.5" fill="#cfcfcf"/>
<rect x="632.2" y="228.9" width="1.5" height="1.5" fill="#cfcfcf"/>
<rect x="635.0" y="234.9" width="1.5" height="1.5" fill="#cfcfcf"/>
<rect x="635.7" y="224.4" width="1.5" height="1.5" fill="#cfcfcf"/>
<rect x="635.5" y="264.0" width="1.5" height="1.5" fill="#cfcfcf"/>
<rect x="675.8" y="278.2" width="1.5" height="1.5" fill="#cfcfcf"/>
<rect x="635.0" y="258.5" width="1.5" height="1.5" fill="#cfcfcf"/>
<rect x="674.2" y="248.1" width="1.5" height="1.5" fill="#cfcfcf"/>
<rect x="672.7" y="263.4" width="1.5" height="1.5" fill="#cfcfcf"/>
<rect x="567.9" y="252.8" width="1.7" height="1.7" fill="#cfcfcf"/>
<rect x="574.9" y="242.2" width="1.7" height="1.7" fill="#cfcfcf"/>
<rect x="580.9" y="240.7" width="1.7" height="1.7" fill="#cfcfcf"/>
<rect x="587.5" y="237.7" width="1.7" height="1.7" fill="#cfcfcf"/>
<rect x="588.1" y="257.6" width="1.7" height="1.7" fill="#cfcfcf"/>
<rect x="602.1" y="243.2" width="1.7" height="1.7" fill="#cfcfcf"/>
<rect x="606.1" y="256.6" width="1.7" height="1.7" fill="#cfcfcf"/>
<rect x="719.6" y="250.7" width="1.7" height="1.7" fill="#cfcfcf"/>
<rect x="703.9" y="261.5" width="1.7" height="1.7" fill="#cfcfcf"/>
<rect x="699.1" y="265.8" width="1.7" height="1.7" fill="#cfcfcf"/>
<rect x="616.9" y="231.7" width="1.7" height="1.7" fill="#cfcfcf"/>
<rect x="623.1" y="265.8" width="1.7" height="1.7" fill="#cfcfcf"/>
<rect x="611.1" y="249.2" width="1.7" height="1.7" fill="#cfcfcf"/>
<rect x="595.1" y="269.1" width="1.7" height="1.7" fill="#cfcfcf"/>
<rect x="689.1" y="247.2" width="1.7" height="1.7" fill="#cfcfcf"/>
<rect x="711.1" y="239.2" width="1.7" height="1.7" fill="#cfcfcf"/>
<rect x="623.1" y="235.2" width="1.7" height="1.7" fill="#cfcfcf"/>
<rect x="617.1" y="242.2" width="1.7" height="1.7" fill="#cfcfcf"/>
<rect x="683.1" y="237.2" width="1.7" height="1.7" fill="#cfcfcf"/>
<rect x="685.1" y="251.2" width="1.7" height="1.7" fill="#cfcfcf"/>
<rect x="694.1" y="253.2" width="1.7" height="1.7" fill="#cfcfcf"/>
<rect x="618.1" y="274.1" width="1.7" height="1.7" fill="#cfcfcf"/>
<rect x="607.1" y="230.2" width="1.7" height="1.7" fill="#cfcfcf"/>
<rect x="698.1" y="239.2" width="1.7" height="1.7" fill="#cfcfcf"/>
<rect x="627.1" y="275.1" width="1.7" height="1.7" fill="#cfcfcf"/>
<rect x="683.1" y="275.1" width="1.7" height="1.7" fill="#cfcfcf"/>
<rect x="612.1" y="257.1" width="1.7" height="1.7" fill="#cfcfcf"/>
<rect x="689.1" y="231.2" width="1.7" height="1.7" fill="#cfcfcf"/>
<rect x="635.3" y="222.7" width="1.7" height="1.7" fill="#3f9c3c"/>
<rect x="634.2" y="220.9" width="1.7" height="1.7" fill="#3f9c3c"/>
<rect x="635.8" y="156.8" width="1.7" height="1.7" fill="#3f9c3c"/>
<rect x="634.4" y="159.0" width="1.7" height="1.7" fill="#3f9c3c"/>
<rect x="617.3" y="205.8" width="1.7" height="1.7" fill="#3f9c3c"/>
<rect x="630.8" y="185.8" width="1.7" height="1.7" fill="#3f9c3c"/>
<rect x="617.4" y="197.6" width="1.7" height="1.7" fill="#3f9c3c"/>
<rect x="609.0" y="191.8" width="1.7" height="1.7" fill="#3f9c3c"/>
<rect x="634.1" y="193.4" width="1.7" height="1.7" fill="#3f9c3c"/>
<rect x="628.2" y="215.8" width="1.7" height="1.7" fill="#3f9c3c"/>
<rect x="629.5" y="178.6" width="1.7" height="1.7" fill="#3f9c3c"/>
<rect x="626.9" y="175.1" width="1.7" height="1.7" fill="#3f9c3c"/>
<rect x="617.9" y="215.7" width="1.7" height="1.7" fill="#3f9c3c"/>
<rect x="631.2" y="212.5" width="1.7" height="1.7" fill="#3f9c3c"/>
<rect x="630.8" y="200.8" width="1.7" height="1.7" fill="#3f9c3c"/>
<rect x="635.4" y="224.0" width="1.7" height="1.7" fill="#3f9c3c"/>
<rect x="636.1" y="223.9" width="1.7" height="1.7" fill="#3f9c3c"/>
<rect x="633.8" y="187.6" width="1.7" height="1.7" fill="#3f9c3c"/>
<rect x="628.1" y="224.6" width="1.7" height="1.7" fill="#3f9c3c"/>
<rect x="612.6" y="199.5" width="1.7" height="1.7" fill="#3f9c3c"/>
<rect x="630.8" y="189.8" width="1.7" height="1.7" fill="#3f9c3c"/>
<rect x="619.6" y="207.9" width="1.7" height="1.7" fill="#3f9c3c"/>
<rect x="624.0" y="218.1" width="1.7" height="1.7" fill="#3f9c3c"/>
<rect x="632.2" y="197.6" width="1.7" height="1.7" fill="#3f9c3c"/>
<rect x="622.0" y="183.2" width="1.7" height="1.7" fill="#3f9c3c"/>
<rect x="620.2" y="214.1" width="1.7" height="1.7" fill="#3f9c3c"/>
<rect x="631.8" y="184.5" width="1.7" height="1.7" fill="#3f9c3c"/>
<rect x="626.1" y="218.9" width="1.7" height="1.7" fill="#3f9c3c"/>
<rect x="632.0" y="180.3" width="1.7" height="1.7" fill="#3f9c3c"/>
<rect x="633.2" y="223.7" width="1.7" height="1.7" fill="#3f9c3c"/>
<rect x="633.4" y="186.4" width="1.7" height="1.7" fill="#3f9c3c"/>
<rect x="614.2" y="215.9" width="1.7" height="1.7" fill="#3f9c3c"/>
<rect x="635.1" y="183.1" width="1.7" height="1.7" fill="#3f9c3c"/>
<rect x="632.8" y="190.8" width="1.7" height="1.7" fill="#3f9c3c"/>
<rect x="634.3" y="207.4" width="1.7" height="1.7" fill="#3f9c3c"/>
<rect x="634.3" y="196.3" width="1.7" height="1.7" fill="#3f9c3c"/>
<rect x="620.8" y="229.8" width="1.7" height="1.7" fill="#3f9c3c"/>
<rect x="614.5" y="177.7" width="1.7" height="1.7" fill="#3f9c3c"/>
<rect x="633.2" y="177.6" width="1.7" height="1.7" fill="#3f9c3c"/>
<rect x="617.4" y="230.9" width="1.7" height="1.7" fill="#3f9c3c"/>
<rect x="629.6" y="217.2" width="1.7" height="1.7" fill="#3f9c3c"/>
<rect x="627.8" y="186.8" width="1.7" height="1.7" fill="#3f9c3c"/>
<rect x="634.9" y="178.2" width="1.7" height="1.7" fill="#3f9c3c"/>
<rect x="636.1" y="200.1" width="1.7" height="1.7" fill="#3f9c3c"/>
<rect x="618.7" y="200.7" width="1.7" height="1.7" fill="#3f9c3c"/>
<rect x="628.1" y="215.5" width="1.7" height="1.7" fill="#3f9c3c"/>
<rect x="629.0" y="212.7" width="1.7" height="1.7" fill="#3f9c3c"/>
<rect x="629.5" y="181.9" width="1.7" height="1.7" fill="#3f9c3c"/>
<rect x="621.1" y="201.0" width="1.7" height="1.7" fill="#3f9c3c"/>
<rect x="629.7" y="224.9" width="1.7" height="1.7" fill="#3f9c3c"/>
<rect x="619.9" y="210.0" width="1.7" height="1.7" fill="#3f9c3c"/>
<rect x="633.4" y="202.0" width="1.7" height="1.7" fill="#3f9c3c"/>
<rect x="611.0" y="216.8" width="1.7" height="1.7" fill="#3f9c3c"/>
<rect x="622.0" y="219.0" width="1.7" height="1.7" fill="#3f9c3c"/>
<rect x="622.8" y="222.2" width="1.7" height="1.7" fill="#3f9c3c"/>
<rect x="629.2" y="213.2" width="1.7" height="1.7" fill="#3f9c3c"/>
<rect x="626.3" y="195.4" width="1.7" height="1.7" fill="#3f9c3c"/>
<rect x="632.9" y="177.2" width="1.7" height="1.7" fill="#3f9c3c"/>
<rect x="621.5" y="219.3" width="1.7" height="1.7" fill="#3f9c3c"/>
<rect x="633.0" y="212.6" width="1.7" height="1.7" fill="#3f9c3c"/>
<rect x="629.4" y="202.1" width="1.7" height="1.7" fill="#3f9c3c"/>
<rect x="630.1" y="212.2" width="1.7" height="1.7" fill="#3f9c3c"/>
<rect x="604.5" y="214.7" width="1.7" height="1.7" fill="#3f9c3c"/>
<rect x="627.6" y="185.7" width="1.7" height="1.7" fill="#3f9c3c"/>
<rect x="630.5" y="219.1" width="1.7" height="1.7" fill="#3f9c3c"/>
<rect x="632.6" y="168.5" width="1.7" height="1.7" fill="#3f9c3c"/>
<rect x="624.4" y="183.7" width="1.7" height="1.7" fill="#3f9c3c"/>
<rect x="627.7" y="226.9" width="1.7" height="1.7" fill="#3f9c3c"/>
<rect x="630.7" y="177.6" width="1.7" height="1.7" fill="#3f9c3c"/>
<rect x="621.3" y="208.3" width="1.7" height="1.7" fill="#3f9c3c"/>
<rect x="624.2" y="206.9" width="1.7" height="1.7" fill="#3f9c3c"/>
<rect x="627.6" y="221.2" width="1.7" height="1.7" fill="#3f9c3c"/>
<rect x="602.6" y="201.3" width="1.7" height="1.7" fill="#3f9c3c"/>
<rect x="626.4" y="187.9" width="1.7" height="1.7" fill="#3f9c3c"/>
<rect x="620.3" y="200.3" width="1.7" height="1.7" fill="#3f9c3c"/>
<rect x="606.7" y="179.9" width="1.7" height="1.7" fill="#3f9c3c"/>
<rect x="635.8" y="198.1" width="1.7" height="1.7" fill="#3f9c3c"/>
<rect x="631.5" y="192.7" width="1.7" height="1.7" fill="#3f9c3c"/>
<rect x="634.4" y="162.6" width="1.7" height="1.7" fill="#3f9c3c"/>
<rect x="622.6" y="201.9" width="1.7" height="1.7" fill="#3f9c3c"/>
<rect x="633.1" y="197.9" width="1.7" height="1.7" fill="#3f9c3c"/>
<rect x="624.3" y="189.0" width="1.7" height="1.7" fill="#3f9c3c"/>
<rect x="627.5" y="226.9" width="1.7" height="1.7" fill="#3f9c3c"/>
<rect x="622.1" y="188.6" width="1.7" height="1.7" fill="#3f9c3c"/>
<rect x="633.8" y="200.3" width="1.7" height="1.7" fill="#3f9c3c"/>
<rect x="625.5" y="180.6" width="1.7" height="1.7" fill="#3f9c3c"/>
<rect x="624.4" y="220.4" width="1.7" height="1.7" fill="#3f9c3c"/>
<rect x="626.5" y="204.6" width="1.7" height="1.7" fill="#3f9c3c"/>
<rect x="606.6" y="189.2" width="1.7" height="1.7" fill="#3f9c3c"/>
<rect x="625.5" y="197.9" width="1.7" height="1.7" fill="#3f9c3c"/>
<rect x="616.1" y="220.8" width="1.7" height="1.7" fill="#3f9c3c"/>
<rect x="632.3" y="204.6" width="1.7" height="1.7" fill="#3f9c3c"/>
<rect x="634.8" y="208.7" width="1.7" height="1.7" fill="#3f9c3c"/>
<rect x="631.2" y="221.4" width="1.7" height="1.7" fill="#3f9c3c"/>
<rect x="632.7" y="222.1" width="1.7" height="1.7" fill="#3f9c3c"/>
<rect x="633.2" y="199.3" width="1.7" height="1.7" fill="#3f9c3c"/>
<rect x="634.1" y="202.2" width="1.7" height="1.7" fill="#3f9c3c"/>
<rect x="632.6" y="158.0" width="1.7" height="1.7" fill="#3f9c3c"/>
<rect x="633.7" y="193.2" width="1.7" height="1.7" fill="#3f9c3c"/>
<rect x="629.9" y="194.6" width="1.7" height="1.7" fill="#3f9c3c"/>
<rect x="624.6" y="202.4" width="1.7" height="1.7" fill="#3f9c3c"/>
<rect x="631.0" y="214.0" width="1.7" height="1.7" fill="#3f9c3c"/>
<rect x="613.3" y="226.2" width="1.7" height="1.7" fill="#3f9c3c"/>
<rect x="626.7" y="171.7" width="1.7" height="1.7" fill="#3f9c3c"/>
<rect x="618.1" y="224.8" width="1.7" height="1.7" fill="#3f9c3c"/>
<rect x="623.1" y="181.8" width="1.7" height="1.7" fill="#3f9c3c"/>
<rect x="636.3" y="212.8" width="1.7" height="1.7" fill="#3f9c3c"/>
<rect x="625.6" y="162.0" width="1.7" height="1.7" fill="#3f9c3c"/>
<rect x="633.0" y="213.8" width="1.7" height="1.7" fill="#3f9c3c"/>
<rect x="635.4" y="177.6" width="1.7" height="1.7" fill="#3f9c3c"/>
<rect x="622.8" y="189.8" width="1.7" height="1.7" fill="#3f9c3c"/>
<rect x="634.7" y="197.5" width="1.7" height="1.7" fill="#3f9c3c"/>
<rect x="617.6" y="224.7" width="1.7" height="1.7" fill="#3f9c3c"/>
<rect x="618.6" y="184.3" width="1.7" height="1.7" fill="#3f9c3c"/>
<rect x="618.2" y="211.6" width="1.7" height="1.7" fill="#3f9c3c"/>
<rect x="609.5" y="214.4" width="1.7" height="1.7" fill="#3f9c3c"/>
<rect x="614.5" y="219.5" width="1.7" height="1.7" fill="#3f9c3c"/>
<rect x="626.4" y="186.9" width="1.7" height="1.7" fill="#3f9c3c"/>
<rect x="620.2" y="207.8" width="1.7" height="1.7" fill="#3f9c3c"/>
<rect x="611.3" y="202.9" width="1.7" height="1.7" fill="#3f9c3c"/>
<rect x="632.8" y="209.0" width="1.7" height="1.7" fill="#3f9c3c"/>
<rect x="635.1" y="189.8" width="1.7" height="1.7" fill="#3f9c3c"/>
<rect x="635.7" y="205.9" width="1.7" height="1.7" fill="#3f9c3c"/>
<rect x="634.6" y="204.5" width="1.7" height="1.7" fill="#3f9c3c"/>
<rect x="628.2" y="205.8" width="1.7" height="1.7" fill="#3f9c3c"/>
<rect x="612.6" y="208.3" width="1.7" height="1.7" fill="#3f9c3c"/>
<rect x="630.6" y="160.1" width="1.7" height="1.7" fill="#3f9c3c"/>
<rect x="626.5" y="204.5" width="1.7" height="1.7" fill="#3f9c3c"/>
<rect x="614.4" y="214.2" width="1.7" height="1.7" fill="#3f9c3c"/>
<rect x="630.5" y="199.3" width="1.7" height="1.7" fill="#3f9c3c"/>
<rect x="635.5" y="228.5" width="1.7" height="1.7" fill="#3f9c3c"/>
<rect x="624.3" y="212.9" width="1.7" height="1.7" fill="#3f9c3c"/>
<rect x="632.2" y="166.6" width="1.7" height="1.7" fill="#3f9c3c"/>
<rect x="604.3" y="215.0" width="1.7" height="1.7" fill="#3f9c3c"/>
<rect x="628.5" y="206.8" width="1.7" height="1.7" fill="#3f9c3c"/>
<rect x="636.0" y="224.4" width="1.7" height="1.7" fill="#3f9c3c"/>
<rect x="624.7" y="216.6" width="1.7" height="1.7" fill="#3f9c3c"/>
<rect x="615.5" y="197.0" width="1.7" height="1.7" fill="#3f9c3c"/>
<rect x="629.4" y="198.7" width="1.7" height="1.7" fill="#3f9c3c"/>
<rect x="618.8" y="207.6" width="1.7" height="1.7" fill="#3f9c3c"/>
<rect x="631.4" y="188.0" width="1.7" height="1.7" fill="#3f9c3c"/>
<rect x="627.1" y="202.0" width="1.7" height="1.7" fill="#3f9c3c"/>
<rect x="632.3" y="221.1" width="1.7" height="1.7" fill="#3f9c3c"/>
<rect x="630.2" y="221.2" width="1.7" height="1.7" fill="#3f9c3c"/>
<rect x="632.6" y="206.4" width="1.7" height="1.7" fill="#3f9c3c"/>
<rect x="617.6" y="213.8" width="1.7" height="1.7" fill="#3f9c3c"/>
<rect x="632.5" y="196.5" width="1.7" height="1.7" fill="#3f9c3c"/>
<rect x="627.6" y="194.4" width="1.7" height="1.7" fill="#3f9c3c"/>
<rect x="618.0" y="212.8" width="1.7" height="1.7" fill="#3f9c3c"/>
<rect x="630.1" y="168.9" width="1.7" height="1.7" fill="#3f9c3c"/>
<rect x="627.0" y="223.8" width="1.7" height="1.7" fill="#3f9c3c"/>
<rect x="634.6" y="170.6" width="1.7" height="1.7" fill="#3f9c3c"/>
<rect x="635.8" y="160.0" width="1.7" height="1.7" fill="#3f9c3c"/>
<rect x="625.2" y="225.7" width="1.7" height="1.7" fill="#3f9c3c"/>
<rect x="617.8" y="213.9" width="1.7" height="1.7" fill="#3f9c3c"/>
<rect x="625.1" y="225.0" width="1.7" height="1.7" fill="#3f9c3c"/>
<rect x="624.6" y="212.0" width="1.7" height="1.7" fill="#3f9c3c"/>
<rect x="625.6" y="215.6" width="1.7" height="1.7" fill="#3f9c3c"/>
<rect x="633.6" y="214.9" width="1.7" height="1.7" fill="#3f9c3c"/>
<rect x="629.1" y="214.3" width="1.7" height="1.7" fill="#3f9c3c"/>
<rect x="635.2" y="218.5" width="1.7" height="1.7" fill="#3f9c3c"/>
<rect x="636.1" y="185.5" width="1.7" height="1.7" fill="#3f9c3c"/>
<rect x="607.0" y="219.0" width="1.7" height="1.7" fill="#3f9c3c"/>
<rect x="630.9" y="213.8" width="1.7" height="1.7" fill="#3f9c3c"/>
<rect x="617.9" y="221.0" width="1.7" height="1.7" fill="#3f9c3c"/>
<rect x="632.9" y="209.4" width="1.7" height="1.7" fill="#3f9c3c"/>
<rect x="630.9" y="194.6" width="1.7" height="1.7" fill="#3f9c3c"/>
<rect x="630.6" y="195.7" width="1.7" height="1.7" fill="#3f9c3c"/>
<rect x="603.9" y="213.2" width="1.7" height="1.7" fill="#3f9c3c"/>
<rect x="631.9" y="171.4" width="1.7" height="1.7" fill="#3f9c3c"/>
<rect x="635.8" y="168.8" width="1.7" height="1.7" fill="#3f9c3c"/>
<rect x="626.2" y="220.5" width="1.7" height="1.7" fill="#3f9c3c"/>
<rect x="629.4" y="225.5" width="1.7" height="1.7" fill="#3f9c3c"/>
<rect x="634.6" y="162.9" width="1.7" height="1.7" fill="#3f9c3c"/>
<rect x="603.1" y="210.8" width="1.7" height="1.7" fill="#3f9c3c"/>
<rect x="628.7" y="230.5" width="1.7" height="1.7" fill="#3f9c3c"/>
<rect x="635.2" y="201.5" width="1.7" height="1.7" fill="#3f9c3c"/>
<rect x="633.6" y="213.3" width="1.7" height="1.7" fill="#3f9c3c"/>
<rect x="636.3" y="182.8" width="1.7" height="1.7" fill="#3f9c3c"/>
<rect x="633.0" y="159.2" width="1.7" height="1.7" fill="#3f9c3c"/>
<rect x="612.2" y="179.8" width="1.7" height="1.7" fill="#3f9c3c"/>
<rect x="623.5" y="176.0" width="1.7" height="1.7" fill="#3f9c3c"/>
<rect x="636.3" y="180.6" width="1.7" height="1.7" fill="#3f9c3c"/>
<rect x="633.1" y="216.6" width="1.7" height="1.7" fill="#3f9c3c"/>
<rect x="634.0" y="217.2" width="1.7" height="1.7" fill="#3f9c3c"/>
<rect x="628.6" y="170.6" width="1.7" height="1.7" fill="#3f9c3c"/>
<rect x="613.2" y="216.4" width="1.7" height="1.7" fill="#3f9c3c"/>
<rect x="635.4" y="217.1" width="1.7" height="1.7" fill="#3f9c3c"/>
<rect x="621.6" y="212.6" width="1.7" height="1.7" fill="#3f9c3c"/>
<rect x="604.1" y="204.1" width="1.7" height="1.7" fill="#3f9c3c"/>
<rect x="605.0" y="191.3" width="1.7" height="1.7" fill="#3f9c3c"/>
<rect x="636.3" y="216.5" width="1.7" height="1.7" fill="#3f9c3c"/>
<rect x="632.5" y="163.1" width="1.7" height="1.7" fill="#3f9c3c"/>
<rect x="635.5" y="220.8" width="1.7" height="1.7" fill="#3f9c3c"/>
<rect x="623.1" y="195.2" width="1.7" height="1.7" fill="#3f9c3c"/>
<rect x="620.7" y="184.2" width="1.7" height="1.7" fill="#3f9c3c"/>
<rect x="635.7" y="205.5" width="1.7" height="1.7" fill="#3f9c3c"/>
<rect x="627.1" y="198.8" width="1.7" height="1.7" fill="#3f9c3c"/>
<rect x="623.2" y="202.9" width="1.7" height="1.7" fill="#3f9c3c"/>
<rect x="624.3" y="182.2" width="1.7" height="1.7" fill="#3f9c3c"/>
<rect x="625.2" y="198.6" width="1.7" height="1.7" fill="#3f9c3c"/>
<rect x="630.0" y="212.6" width="1.7" height="1.7" fill="#3f9c3c"/>
<rect x="619.2" y="199.9" width="1.7" height="1.7" fill="#3f9c3c"/>
<rect x="618.0" y="227.2" width="1.7" height="1.7" fill="#3f9c3c"/>
<rect x="632.3" y="209.6" width="1.7" height="1.7" fill="#3f9c3c"/>
<rect x="615.9" y="172.3" width="1.7" height="1.7" fill="#3f9c3c"/>
<rect x="615.4" y="215.9" width="1.7" height="1.7" fill="#3f9c3c"/>
<rect x="626.7" y="196.6" width="1.7" height="1.7" fill="#3f9c3c"/>
<rect x="615.1" y="230.1" width="1.7" height="1.7" fill="#3f9c3c"/>
<rect x="632.0" y="211.3" width="1.7" height="1.7" fill="#3f9c3c"/>
<rect x="610.9" y="202.4" width="1.7" height="1.7" fill="#3f9c3c"/>
<rect x="623.7" y="199.4" width="1.7" height="1.7" fill="#3f9c3c"/>
<rect x="609.3" y="211.3" width="1.7" height="1.7" fill="#3f9c3c"/>
<rect x="632.5" y="220.3" width="1.7" height="1.7" fill="#3f9c3c"/>
<rect x="635.5" y="157.2" width="1.7" height="1.7" fill="#3f9c3c"/>
<rect x="626.2" y="202.0" width="1.7" height="1.7" fill="#3f9c3c"/>
<rect x="610.2" y="220.7" width="1.7" height="1.7" fill="#3f9c3c"/>
<rect x="627.4" y="169.3" width="1.7" height="1.7" fill="#3f9c3c"/>
<rect x="612.2" y="220.5" width="1.7" height="1.7" fill="#3f9c3c"/>
<rect x="632.6" y="209.9" width="1.7" height="1.7" fill="#3f9c3c"/>
<rect x="616.7" y="222.2" width="1.7" height="1.7" fill="#3f9c3c"/>
<rect x="607.0" y="215.1" width="1.7" height="1.7" fill="#3f9c3c"/>
<rect x="635.5" y="197.5" width="1.7" height="1.7" fill="#3f9c3c"/>
<rect x="617.3" y="209.0" width="1.7" height="1.7" fill="#3f9c3c"/>
<rect x="624.5" y="187.1" width="1.7" height="1.7" fill="#3f9c3c"/>
<rect x="633.3" y="226.4" width="1.7" height="1.7" fill="#3f9c3c"/>
<rect x="622.9" y="211.5" width="1.7" height="1.7" fill="#3f9c3c"/>
<rect x="633.7" y="204.4" width="1.7" height="1.7" fill="#3f9c3c"/>
<rect x="623.3" y="191.3" width="1.7" height="1.7" fill="#3f9c3c"/>
<rect x="629.1" y="219.7" width="1.7" height="1.7" fill="#3f9c3c"/>
<rect x="626.0" y="176.0" width="1.7" height="1.7" fill="#3f9c3c"/>
<rect x="633.3" y="218.9" width="1.7" height="1.7" fill="#3f9c3c"/>
<rect x="609.2" y="210.2" width="1.7" height="1.7" fill="#3f9c3c"/>
<rect x="627.6" y="223.7" width="1.7" height="1.7" fill="#3f9c3c"/>
<rect x="625.8" y="205.0" width="1.7" height="1.7" fill="#3f9c3c"/>
<rect x="634.7" y="186.2" width="1.7" height="1.7" fill="#3f9c3c"/>
<rect x="626.5" y="185.5" width="1.7" height="1.7" fill="#3f9c3c"/>
<rect x="627.4" y="198.5" width="1.7" height="1.7" fill="#3f9c3c"/>
<rect x="628.2" y="200.9" width="1.7" height="1.7" fill="#3f9c3c"/>
<rect x="636.1" y="182.6" width="1.7" height="1.7" fill="#3f9c3c"/>
<rect x="630.8" y="233.3" width="1.7" height="1.7" fill="#3f9c3c"/>
<rect x="629.6" y="178.1" width="1.7" height="1.7" fill="#3f9c3c"/>
<rect x="634.4" y="219.5" width="1.7" height="1.7" fill="#3f9c3c"/>
<rect x="631.4" y="211.1" width="1.7" height="1.7" fill="#3f9c3c"/>
<rect x="636.2" y="207.2" width="1.7" height="1.7" fill="#3f9c3c"/>
<rect x="614.6" y="167.6" width="1.7" height="1.7" fill="#3f9c3c"/>
<rect x="628.5" y="222.8" width="1.7" height="1.7" fill="#3f9c3c"/>
<rect x="632.8" y="209.6" width="1.7" height="1.7" fill="#3f9c3c"/>
<rect x="629.8" y="219.2" width="1.7" height="1.7" fill="#3f9c3c"/>
<rect x="619.0" y="227.4" width="1.7" height="1.7" fill="#3f9c3c"/>
<rect x="636.1" y="191.3" width="1.7" height="1.7" fill="#3f9c3c"/>
<rect x="634.7" y="187.2" width="1.7" height="1.7" fill="#3f9c3c"/>
<rect x="636.1" y="175.5" width="1.7" height="1.7" fill="#3f9c3c"/>
<rect x="611.9" y="209.1" width="1.7" height="1.7" fill="#3f9c3c"/>
<rect x="601.2" y="204.0" width="1.7" height="1.7" fill="#3f9c3c"/>
<rect x="635.7" y="225.0" width="1.7" height="1.7" fill="#3f9c3c"/>
<rect x="630.4" y="211.1" width="1.7" height="1.7" fill="#3f9c3c"/>
<rect x="613.7" y="179.7" width="1.7" height="1.7" fill="#3f9c3c"/>
<rect x="628.6" y="191.5" width="1.7" height="1.7" fill="#3f9c3c"/>
<rect x="630.5" y="214.4" width="1.7" height="1.7" fill="#3f9c3c"/>
<rect x="634.4" y="203.5" width="1.7" height="1.7" fill="#3f9c3c"/>
<rect x="636.1" y="188.8" width="1.7" height="1.7" fill="#3f9c3c"/>
<rect x="632.3" y="191.4" width="1.7" height="1.7" fill="#3f9c3c"/>
<rect x="608.3" y="224.6" width="1.7" height="1.7" fill="#3f9c3c"/>
<rect x="635.9" y="221.6" width="1.7" height="1.7" fill="#3f9c3c"/>
<rect x="621.6" y="219.5" width="1.7" height="1.7" fill="#3f9c3c"/>
<rect x="635.6" y="171.5" width="1.7" height="1.7" fill="#3f9c3c"/>
<rect x="602.8" y="218.2" width="1.7" height="1.7" fill="#3f9c3c"/>
<rect x="632.2" y="214.8" width="1.7" height="1.7" fill="#3f9c3c"/>
<rect x="619.4" y="210.8" width="1.7" height="1.7" fill="#3f9c3c"/>
<rect x="633.8" y="178.1" width="1.7" height="1.7" fill="#3f9c3c"/>
<rect x="635.2" y="191.5" width="1.7" height="1.7" fill="#3f9c3c"/>
<rect x="634.2" y="205.3" width="1.7" height="1.7" fill="#3f9c3c"/>
<rect x="635.0" y="190.1" width="1.7" height="1.7" fill="#3f9c3c"/>
<rect x="636.3" y="214.8" width="1.7" height="1.7" fill="#3f9c3c"/>
<rect x="633.8" y="216.5" width="1.7" height="1.7" fill="#3f9c3c"/>
<rect x="623.9" y="168.1" width="1.7" height="1.7" fill="#3f9c3c"/>
<rect x="612.2" y="188.7" width="1.7" height="1.7" fill="#3f9c3c"/>
<rect x="610.1" y="222.9" width="1.7" height="1.7" fill="#3f9c3c"/>
<rect x="632.0" y="181.7" width="1.7" height="1.7" fill="#3f9c3c"/>
<rect x="619.0" y="177.1" width="1.7" height="1.7" fill="#3f9c3c"/>
<rect x="624.6" y="221.8" width="1.7" height="1.7" fill="#3f9c3c"/>
<rect x="631.5" y="203.7" width="1.7" height="1.7" fill="#3f9c3c"/>
<rect x="628.7" y="221.0" width="1.7" height="1.7" fill="#3f9c3c"/>
<rect x="634.6" y="212.5" width="1.7" height="1.7" fill="#3f9c3c"/>
<rect x="635.9" y="188.8" width="1.7" height="1.7" fill="#3f9c3c"/>
<rect x="626.8" y="216.4" width="1.7" height="1.7" fill="#3f9c3c"/>
<rect x="620.9" y="182.2" width="1.7" height="1.7" fill="#3f9c3c"/>
<rect x="631.4" y="192.2" width="1.7" height="1.7" fill="#3f9c3c"/>
<rect x="634.0" y="183.2" width="1.7" height="1.7" fill="#3f9c3c"/>
<rect x="631.6" y="221.7" width="1.7" height="1.7" fill="#3f9c3c"/>
<rect x="631.0" y="184.3" width="1.7" height="1.7" fill="#3f9c3c"/>
<rect x="630.2" y="180.3" width="1.7" height="1.7" fill="#3f9c3c"/>
<rect x="626.0" y="164.8" width="1.7" height="1.7" fill="#3f9c3c"/>
<rect x="630.4" y="160.5" width="1.7" height="1.7" fill="#3f9c3c"/>
<rect x="636.1" y="206.9" width="1.7" height="1.7" fill="#3f9c3c"/>
<rect x="635.8" y="192.4" width="1.7" height="1.7" fill="#3f9c3c"/>
<rect x="636.1" y="175.7" width="1.7" height="1.7" fill="#3f9c3c"/>
<rect x="623.6" y="183.8" width="1.7" height="1.7" fill="#3f9c3c"/>
<rect x="629.5" y="232.0" width="1.7" height="1.7" fill="#3f9c3c"/>
<rect x="635.8" y="163.6" width="1.7" height="1.7" fill="#3f9c3c"/>
<rect x="636.6" y="224.3" width="1.7" height="1.7" fill="#3f9c3c"/>
<rect x="635.8" y="211.4" width="1.7" height="1.7" fill="#3f9c3c"/>
<rect x="636.7" y="230.5" width="1.7" height="1.7" fill="#3f9c3c"/>
<rect x="635.6" y="217.5" width="1.7" height="1.7" fill="#3f9c3c"/>
<rect x="636.7" y="166.8" width="1.7" height="1.7" fill="#3f9c3c"/>
<rect x="634.7" y="219.4" width="1.7" height="1.7" fill="#3f9c3c"/>
<rect x="635.2" y="170.3" width="1.7" height="1.7" fill="#3f9c3c"/>
<rect x="636.1" y="225.5" width="1.7" height="1.7" fill="#3f9c3c"/>
<rect x="636.3" y="199.6" width="1.7" height="1.7" fill="#3f9c3c"/>
<rect x="632.6" y="169.8" width="1.7" height="1.7" fill="#3f9c3c"/>
<rect x="636.1" y="210.2" width="1.7" height="1.7" fill="#3f9c3c"/>
<rect x="636.5" y="162.2" width="1.7" height="1.7" fill="#3f9c3c"/>
<rect x="634.8" y="202.4" width="1.7" height="1.7" fill="#3f9c3c"/>
<rect x="636.1" y="177.0" width="1.7" height="1.7" fill="#3f9c3c"/>
<rect x="633.3" y="202.7" width="1.7" height="1.7" fill="#3f9c3c"/>
<rect x="634.3" y="217.8" width="1.7" height="1.7" fill="#3f9c3c"/>
<rect x="636.6" y="171.5" width="1.7" height="1.7" fill="#3f9c3c"/>
<rect x="635.3" y="211.8" width="1.7" height="1.7" fill="#3f9c3c"/>
<rect x="636.6" y="211.0" width="1.7" height="1.7" fill="#3f9c3c"/>
<rect x="635.6" y="217.8" width="1.7" height="1.7" fill="#3f9c3c"/>
<rect x="631.2" y="220.1" width="1.7" height="1.7" fill="#3f9c3c"/>
<rect x="636.7" y="193.6" width="1.7" height="1.7" fill="#3f9c3c"/>
<rect x="634.9" y="225.3" width="1.7" height="1.7" fill="#3f9c3c"/>
<rect x="635.9" y="222.4" width="1.7" height="1.7" fill="#3f9c3c"/>
<rect x="631.8" y="170.3" width="1.7" height="1.7" fill="#3f9c3c"/>
<rect x="636.3" y="184.0" width="1.7" height="1.7" fill="#3f9c3c"/>
<rect x="634.2" y="184.4" width="1.7" height="1.7" fill="#3f9c3c"/>
<rect x="634.7" y="156.5" width="1.7" height="1.7" fill="#3f9c3c"/>
<rect x="634.7" y="190.0" width="1.7" height="1.7" fill="#3f9c3c"/>
<rect x="633.2" y="165.3" width="1.7" height="1.7" fill="#3f9c3c"/>
<rect x="631.1" y="218.2" width="1.7" height="1.7" fill="#3f9c3c"/>
<rect x="633.3" y="180.5" width="1.7" height="1.7" fill="#3f9c3c"/>
<rect x="632.9" y="185.1" width="1.7" height="1.7" fill="#3f9c3c"/>
<rect x="631.0" y="160.8" width="1.7" height="1.7" fill="#3f9c3c"/>
<rect x="634.8" y="228.7" width="1.7" height="1.7" fill="#3f9c3c"/>
<rect x="634.6" y="195.2" width="1.7" height="1.7" fill="#3f9c3c"/>
<rect x="636.7" y="197.0" width="1.7" height="1.7" fill="#3f9c3c"/>
<rect x="636.0" y="229.7" width="1.7" height="1.7" fill="#3f9c3c"/>
<rect x="636.4" y="170.0" width="1.7" height="1.7" fill="#3f9c3c"/>
<rect x="632.0" y="175.2" width="1.7" height="1.7" fill="#3f9c3c"/>
<rect x="636.5" y="158.4" width="1.7" height="1.7" fill="#3f9c3c"/>
<rect x="636.1" y="209.3" width="1.7" height="1.7" fill="#3f9c3c"/>
<rect x="634.2" y="157.5" width="1.7" height="1.7" fill="#3f9c3c"/>
<rect x="634.7" y="200.0" width="1.7" height="1.7" fill="#3f9c3c"/>
<rect x="636.4" y="209.6" width="1.7" height="1.7" fill="#3f9c3c"/>
<rect x="633.2" y="222.2" width="1.7" height="1.7" fill="#3f9c3c"/>
<rect x="636.4" y="159.6" width="1.7" height="1.7" fill="#3f9c3c"/>
<rect x="634.8" y="193.7" width="1.7" height="1.7" fill="#3f9c3c"/>
<rect x="636.4" y="177.4" width="1.7" height="1.7" fill="#3f9c3c"/>
<rect x="636.3" y="187.0" width="1.7" height="1.7" fill="#3f9c3c"/>
<rect x="631.2" y="201.1" width="1.7" height="1.7" fill="#3f9c3c"/>
<rect x="634.4" y="167.3" width="1.7" height="1.7" fill="#3f9c3c"/>
<rect x="636.2" y="212.9" width="1.7" height="1.7" fill="#3f9c3c"/>
<rect x="629.0" y="218.9" width="1.7" height="1.7" fill="#3f9c3c"/>
<rect x="635.2" y="185.7" width="1.7" height="1.7" fill="#3f9c3c"/>
<rect x="634.7" y="220.0" width="1.7" height="1.7" fill="#3f9c3c"/>
<rect x="628.8" y="186.2" width="1.7" height="1.7" fill="#3f9c3c"/>
<rect x="635.6" y="215.2" width="1.7" height="1.7" fill="#3f9c3c"/>
<rect x="635.6" y="174.4" width="1.7" height="1.7" fill="#3f9c3c"/>
<rect x="625.6" y="189.3" width="1.7" height="1.7" fill="#3f9c3c"/>
<rect x="629.9" y="217.3" width="1.7" height="1.7" fill="#3f9c3c"/>
<rect x="631.5" y="218.1" width="1.7" height="1.7" fill="#3f9c3c"/>
<rect x="634.7" y="160.2" width="1.7" height="1.7" fill="#3f9c3c"/>
<rect x="629.1" y="228.9" width="1.7" height="1.7" fill="#3f9c3c"/>
<rect x="635.2" y="175.1" width="1.7" height="1.7" fill="#3f9c3c"/>
<rect x="635.5" y="204.2" width="1.7" height="1.7" fill="#3f9c3c"/>
<rect x="636.5" y="196.5" width="1.7" height="1.7" fill="#3f9c3c"/>
<rect x="634.8" y="189.1" width="1.7" height="1.7" fill="#3f9c3c"/>
<rect x="636.3" y="157.7" width="1.7" height="1.7" fill="#3f9c3c"/>
<rect x="632.6" y="229.8" width="1.7" height="1.7" fill="#3f9c3c"/>
<rect x="633.9" y="227.4" width="1.7" height="1.7" fill="#3f9c3c"/>
<rect x="630.7" y="217.7" width="1.7" height="1.7" fill="#3f9c3c"/>
<rect x="636.7" y="223.4" width="1.7" height="1.7" fill="#3f9c3c"/>
<rect x="635.9" y="204.9" width="1.7" height="1.7" fill="#3f9c3c"/>
<rect x="635.9" y="207.7" width="1.7" height="1.7" fill="#3f9c3c"/>
<rect x="629.5" y="197.4" width="1.7" height="1.7" fill="#3f9c3c"/>
<rect x="635.9" y="203.4" width="1.7" height="1.7" fill="#3f9c3c"/>
<rect x="635.2" y="195.7" width="1.7" height="1.7" fill="#3f9c3c"/>
<rect x="635.8" y="228.4" width="1.7" height="1.7" fill="#3f9c3c"/>
<rect x="633.8" y="179.4" width="1.7" height="1.7" fill="#3f9c3c"/>
<rect x="634.2" y="165.3" width="1.7" height="1.7" fill="#3f9c3c"/>
<rect x="634.7" y="228.8" width="1.7" height="1.7" fill="#3f9c3c"/>
<rect x="635.0" y="176.5" width="1.7" height="1.7" fill="#3f9c3c"/>
<rect x="636.3" y="196.7" width="1.7" height="1.7" fill="#3f9c3c"/>
<rect x="636.4" y="165.6" width="1.7" height="1.7" fill="#3f9c3c"/>
<rect x="635.3" y="178.5" width="1.7" height="1.7" fill="#3f9c3c"/>
<rect x="636.0" y="178.1" width="1.7" height="1.7" fill="#3f9c3c"/>
<rect x="634.5" y="162.8" width="1.7" height="1.7" fill="#3f9c3c"/>
<rect x="634.1" y="220.0" width="1.7" height="1.7" fill="#3f9c3c"/>
<rect x="633.8" y="199.5" width="1.7" height="1.7" fill="#3f9c3c"/>
<rect x="633.3" y="171.4" width="1.7" height="1.7" fill="#3f9c3c"/>
<rect x="634.5" y="191.2" width="1.7" height="1.7" fill="#3f9c3c"/>
<rect x="635.0" y="202.7" width="1.7" height="1.7" fill="#3f9c3c"/>
<rect x="636.0" y="179.7" width="1.7" height="1.7" fill="#3f9c3c"/>
<rect x="634.7" y="173.0" width="1.7" height="1.7" fill="#3f9c3c"/>
<rect x="634.3" y="185.3" width="1.7" height="1.7" fill="#3f9c3c"/>
<rect x="635.5" y="157.1" width="1.7" height="1.7" fill="#3f9c3c"/>
<rect x="636.0" y="221.7" width="1.7" height="1.7" fill="#3f9c3c"/>
<rect x="634.9" y="198.5" width="1.7" height="1.7" fill="#3f9c3c"/>
<rect x="624.5" y="177.8" width="1.7" height="1.7" fill="#3f9c3c"/>
<rect x="632.6" y="178.6" width="1.7" height="1.7" fill="#3f9c3c"/>
<rect x="636.6" y="168.2" width="1.7" height="1.7" fill="#3f9c3c"/>
<rect x="635.1" y="222.4" width="1.7" height="1.7" fill="#3f9c3c"/>
<rect x="635.4" y="160.9" width="1.7" height="1.7" fill="#3f9c3c"/>
<rect x="633.0" y="189.6" width="1.7" height="1.7" fill="#3f9c3c"/>
<rect x="636.0" y="164.5" width="1.7" height="1.7" fill="#3f9c3c"/>
<rect x="633.0" y="229.1" width="1.7" height="1.7" fill="#3f9c3c"/>
<rect x="635.6" y="167.9" width="1.7" height="1.7" fill="#3f9c3c"/>
<rect x="633.6" y="182.9" width="1.7" height="1.7" fill="#3f9c3c"/>
<rect x="631.4" y="203.0" width="1.7" height="1.7" fill="#3f9c3c"/>
<rect x="634.7" y="218.6" width="1.7" height="1.7" fill="#3f9c3c"/>
<rect x="632.9" y="212.3" width="1.7" height="1.7" fill="#3f9c3c"/>
<rect x="634.9" y="213.9" width="1.7" height="1.7" fill="#3f9c3c"/>
<rect x="633.3" y="215.8" width="1.7" height="1.7" fill="#3f9c3c"/>
<rect x="636.4" y="225.7" width="1.7" height="1.7" fill="#3f9c3c"/>
<rect x="636.7" y="222.3" width="1.7" height="1.7" fill="#3f9c3c"/>
<rect x="634.3" y="214.3" width="1.7" height="1.7" fill="#3f9c3c"/>
<rect x="627.5" y="194.0" width="1.7" height="1.7" fill="#3f9c3c"/>
<rect x="635.2" y="199.6" width="1.7" height="1.7" fill="#3f9c3c"/>
<rect x="631.0" y="215.7" width="1.7" height="1.7" fill="#3f9c3c"/>
<rect x="635.4" y="202.3" width="1.7" height="1.7" fill="#3f9c3c"/>
<rect x="635.0" y="190.5" width="1.7" height="1.7" fill="#3f9c3c"/>
<rect x="635.8" y="211.1" width="1.7" height="1.7" fill="#3f9c3c"/>
<rect x="634.5" y="185.8" width="1.7" height="1.7" fill="#3f9c3c"/>
<rect x="635.7" y="185.4" width="1.7" height="1.7" fill="#3f9c3c"/>
<rect x="631.4" y="216.0" width="1.7" height="1.7" fill="#3f9c3c"/>
<rect x="635.1" y="194.1" width="1.7" height="1.7" fill="#3f9c3c"/>
<rect x="635.7" y="170.2" width="1.7" height="1.7" fill="#3f9c3c"/>
<rect x="634.4" y="167.2" width="1.7" height="1.7" fill="#3f9c3c"/>
<rect x="636.5" y="200.4" width="1.7" height="1.7" fill="#3f9c3c"/>
<rect x="635.7" y="226.1" width="1.7" height="1.7" fill="#3f9c3c"/>
<rect x="623.1" y="73.8" width="1.7" height="1.7" fill="#3f9c3c"/>
<rect x="631.4" y="111.6" width="1.7" height="1.7" fill="#3f9c3c"/>
<rect x="626.6" y="132.8" width="1.7" height="1.7" fill="#3f9c3c"/>
<rect x="632.4" y="129.7" width="1.7" height="1.7" fill="#3f9c3c"/>
<rect x="624.1" y="141.2" width="1.7" height="1.7" fill="#3f9c3c"/>
<rect x="632.1" y="142.6" width="1.7" height="1.7" fill="#3f9c3c"/>
<rect x="631.1" y="146.5" width="1.7" height="1.7" fill="#3f9c3c"/>
<rect x="636.1" y="148.2" width="1.7" height="1.7" fill="#3f9c3c"/>
<rect x="585.1" y="184.2" width="1.7" height="1.7" fill="#3f9c3c"/>
<rect x="559.8" y="200.5" width="1.7" height="1.7" fill="#3f9c3c"/>
<rect x="596.1" y="219.2" width="1.7" height="1.7" fill="#3f9c3c"/>
<rect x="599.1" y="229.2" width="1.7" height="1.7" fill="#3f9c3c"/>
<rect x="604.1" y="185.2" width="1.7" height="1.7" fill="#3f9c3c"/>
<rect x="610.1" y="175.2" width="1.7" height="1.7" fill="#3f9c3c"/>
<rect x="617.1" y="164.2" width="1.7" height="1.7" fill="#3f9c3c"/>
<rect x="634.1" y="154.2" width="1.7" height="1.7" fill="#3f9c3c"/>
<rect x="628.1" y="151.2" width="1.7" height="1.7" fill="#3f9c3c"/>
<rect x="605.1" y="212.2" width="1.7" height="1.7" fill="#3f9c3c"/>
<rect x="685.2" y="205.7" width="1.8" height="1.8" fill="#e9493f"/>
<rect x="674.5" y="219.0" width="1.8" height="1.8" fill="#e9493f"/>
<rect x="687.9" y="180.4" width="1.8" height="1.8" fill="#e9493f"/>
<rect x="673.2" y="142.3" width="1.8" height="1.8" fill="#e9493f"/>
<rect x="677.5" y="187.4" width="1.8" height="1.8" fill="#e9493f"/>
<rect x="682.9" y="213.5" width="1.8" height="1.8" fill="#e9493f"/>
<rect x="677.7" y="185.0" width="1.8" height="1.8" fill="#e9493f"/>
<rect x="676.3" y="194.2" width="1.8" height="1.8" fill="#e9493f"/>
<rect x="678.3" y="176.5" width="1.8" height="1.8" fill="#e9493f"/>
<rect x="690.4" y="176.2" width="1.8" height="1.8" fill="#e9493f"/>
<rect x="678.0" y="193.7" width="1.8" height="1.8" fill="#e9493f"/>
<rect x="675.2" y="156.9" width="1.8" height="1.8" fill="#e9493f"/>
<rect x="678.0" y="179.0" width="1.8" height="1.8" fill="#e9493f"/>
<rect x="687.0" y="187.9" width="1.8" height="1.8" fill="#e9493f"/>
<rect x="677.5" y="220.0" width="1.8" height="1.8" fill="#e9493f"/>
<rect x="679.1" y="181.1" width="1.8" height="1.8" fill="#e9493f"/>
<rect x="675.8" y="228.8" width="1.8" height="1.8" fill="#e9493f"/>
<rect x="684.0" y="185.6" width="1.8" height="1.8" fill="#e9493f"/>
<rect x="675.0" y="163.7" width="1.8" height="1.8" fill="#e9493f"/>
<rect x="684.7" y="222.9" width="1.8" height="1.8" fill="#e9493f"/>
<rect x="673.8" y="184.7" width="1.8" height="1.8" fill="#e9493f"/>
<rect x="680.8" y="210.6" width="1.8" height="1.8" fill="#e9493f"/>
<rect x="676.7" y="209.9" width="1.8" height="1.8" fill="#e9493f"/>
<rect x="674.7" y="162.5" width="1.8" height="1.8" fill="#e9493f"/>
<rect x="677.5" y="184.7" width="1.8" height="1.8" fill="#e9493f"/>
<rect x="674.0" y="165.2" width="1.8" height="1.8" fill="#e9493f"/>
<rect x="679.2" y="191.0" width="1.8" height="1.8" fill="#e9493f"/>
<rect x="673.3" y="191.3" width="1.8" height="1.8" fill="#e9493f"/>
<rect x="682.5" y="179.5" width="1.8" height="1.8" fill="#e9493f"/>
<rect x="679.7" y="173.5" width="1.8" height="1.8" fill="#e9493f"/>
<rect x="674.5" y="139.4" width="1.8" height="1.8" fill="#e9493f"/>
<rect x="678.9" y="205.6" width="1.8" height="1.8" fill="#e9493f"/>
<rect x="674.5" y="193.2" width="1.8" height="1.8" fill="#e9493f"/>
<rect x="678.1" y="184.0" width="1.8" height="1.8" fill="#e9493f"/>
<rect x="678.8" y="170.8" width="1.8" height="1.8" fill="#e9493f"/>
<rect x="676.5" y="187.9" width="1.8" height="1.8" fill="#e9493f"/>
<rect x="673.8" y="159.3" width="1.8" height="1.8" fill="#e9493f"/>
<rect x="673.8" y="199.1" width="1.8" height="1.8" fill="#e9493f"/>
<rect x="673.9" y="157.0" width="1.8" height="1.8" fill="#e9493f"/>
<rect x="684.2" y="185.2" width="1.8" height="1.8" fill="#e9493f"/>
<rect x="684.0" y="190.0" width="1.8" height="1.8" fill="#e9493f"/>
<rect x="673.1" y="152.4" width="1.8" height="1.8" fill="#e9493f"/>
<rect x="675.6" y="199.9" width="1.8" height="1.8" fill="#e9493f"/>
<rect x="675.9" y="196.1" width="1.8" height="1.8" fill="#e9493f"/>
<rect x="674.6" y="163.6" width="1.8" height="1.8" fill="#e9493f"/>
<rect x="684.0" y="157.0" width="1.8" height="1.8" fill="#e9493f"/>
<rect x="675.9" y="188.3" width="1.8" height="1.8" fill="#e9493f"/>
<rect x="676.0" y="181.6" width="1.8" height="1.8" fill="#e9493f"/>
<rect x="682.6" y="151.3" width="1.8" height="1.8" fill="#e9493f"/>
<rect x="694.3" y="188.3" width="1.8" height="1.8" fill="#e9493f"/>
<rect x="679.0" y="181.0" width="1.8" height="1.8" fill="#e9493f"/>
<rect x="673.2" y="169.7" width="1.8" height="1.8" fill="#e9493f"/>
<rect x="685.9" y="214.9" width="1.8" height="1.8" fill="#e9493f"/>
<rect x="686.2" y="174.0" width="1.8" height="1.8" fill="#e9493f"/>
<rect x="675.4" y="203.4" width="1.8" height="1.8" fill="#e9493f"/>
<rect x="694.6" y="189.4" width="1.8" height="1.8" fill="#e9493f"/>
<rect x="692.1" y="183.9" width="1.8" height="1.8" fill="#e9493f"/>
<rect x="675.7" y="169.3" width="1.8" height="1.8" fill="#e9493f"/>
<rect x="674.7" y="196.3" width="1.8" height="1.8" fill="#e9493f"/>
<rect x="684.9" y="173.6" width="1.8" height="1.8" fill="#e9493f"/>
<rect x="683.0" y="183.3" width="1.8" height="1.8" fill="#e9493f"/>
<rect x="674.0" y="169.3" width="1.8" height="1.8" fill="#e9493f"/>
<rect x="674.2" y="176.6" width="1.8" height="1.8" fill="#e9493f"/>
<rect x="675.3" y="221.4" width="1.8" height="1.8" fill="#e9493f"/>
<rect x="673.8" y="187.2" width="1.8" height="1.8" fill="#e9493f"/>
<rect x="676.2" y="185.8" width="1.8" height="1.8" fill="#e9493f"/>
<rect x="673.4" y="179.1" width="1.8" height="1.8" fill="#e9493f"/>
<rect x="681.5" y="159.4" width="1.8" height="1.8" fill="#e9493f"/>
<rect x="674.7" y="176.2" width="1.8" height="1.8" fill="#e9493f"/>
<rect x="674.7" y="165.4" width="1.8" height="1.8" fill="#e9493f"/>
<rect x="673.2" y="168.8" width="1.8" height="1.8" fill="#e9493f"/>
<rect x="675.8" y="192.9" width="1.8" height="1.8" fill="#e9493f"/>
<rect x="679.2" y="162.5" width="1.8" height="1.8" fill="#e9493f"/>
<rect x="674.5" y="156.2" width="1.8" height="1.8" fill="#e9493f"/>
<rect x="673.9" y="205.0" width="1.8" height="1.8" fill="#e9493f"/>
<rect x="684.2" y="181.2" width="1.8" height="1.8" fill="#e9493f"/>
<rect x="674.2" y="202.5" width="1.8" height="1.8" fill="#e9493f"/>
<rect x="680.6" y="176.3" width="1.8" height="1.8" fill="#e9493f"/>
<rect x="692.0" y="177.6" width="1.8" height="1.8" fill="#e9493f"/>
<rect x="689.0" y="166.7" width="1.8" height="1.8" fill="#e9493f"/>
<rect x="674.7" y="184.3" width="1.8" height="1.8" fill="#e9493f"/>
<rect x="673.9" y="181.7" width="1.8" height="1.8" fill="#e9493f"/>
<rect x="675.0" y="195.6" width="1.8" height="1.8" fill="#e9493f"/>
<rect x="678.9" y="211.1" width="1.8" height="1.8" fill="#e9493f"/>
<rect x="674.7" y="177.1" width="1.8" height="1.8" fill="#e9493f"/>
<rect x="674.6" y="189.7" width="1.8" height="1.8" fill="#e9493f"/>
<rect x="673.9" y="208.3" width="1.8" height="1.8" fill="#e9493f"/>
<rect x="678.0" y="184.7" width="1.8" height="1.8" fill="#e9493f"/>
<rect x="681.2" y="171.1" width="1.8" height="1.8" fill="#e9493f"/>
<rect x="679.4" y="178.1" width="1.8" height="1.8" fill="#e9493f"/>
<rect x="675.5" y="187.5" width="1.8" height="1.8" fill="#e9493f"/>
<rect x="673.5" y="178.4" width="1.8" height="1.8" fill="#e9493f"/>
<rect x="682.8" y="164.3" width="1.8" height="1.8" fill="#e9493f"/>
<rect x="679.3" y="174.4" width="1.8" height="1.8" fill="#e9493f"/>
<rect x="676.9" y="158.0" width="1.8" height="1.8" fill="#e9493f"/>
<rect x="677.1" y="176.8" width="1.8" height="1.8" fill="#e9493f"/>
<rect x="673.4" y="172.9" width="1.8" height="1.8" fill="#e9493f"/>
<rect x="674.5" y="173.8" width="1.8" height="1.8" fill="#e9493f"/>
<rect x="679.1" y="159.7" width="1.8" height="1.8" fill="#e9493f"/>
<rect x="675.9" y="171.9" width="1.8" height="1.8" fill="#e9493f"/>
<rect x="683.0" y="212.2" width="1.8" height="1.8" fill="#e9493f"/>
<rect x="686.2" y="209.4" width="1.8" height="1.8" fill="#e9493f"/>
<rect x="674.6" y="160.3" width="1.8" height="1.8" fill="#e9493f"/>
<rect x="677.8" y="147.0" width="1.8" height="1.8" fill="#e9493f"/>
<rect x="675.9" y="192.9" width="1.8" height="1.8" fill="#e9493f"/>
<rect x="679.6" y="179.6" width="1.8" height="1.8" fill="#e9493f"/>
<rect x="674.9" y="195.1" width="1.8" height="1.8" fill="#e9493f"/>
<rect x="675.9" y="206.0" width="1.8" height="1.8" fill="#e9493f"/>
<rect x="674.3" y="190.9" width="1.8" height="1.8" fill="#e9493f"/>
<rect x="684.7" y="158.6" width="1.8" height="1.8" fill="#e9493f"/>
<rect x="681.4" y="197.4" width="1.8" height="1.8" fill="#e9493f"/>
<rect x="673.2" y="149.0" width="1.8" height="1.8" fill="#e9493f"/>
<rect x="674.1" y="163.0" width="1.8" height="1.8" fill="#e9493f"/>
<rect x="675.7" y="173.2" width="1.8" height="1.8" fill="#e9493f"/>
<rect x="674.6" y="148.8" width="1.8" height="1.8" fill="#e9493f"/>
<rect x="674.3" y="191.4" width="1.8" height="1.8" fill="#e9493f"/>
<rect x="678.7" y="205.3" width="1.8" height="1.8" fill="#e9493f"/>
<rect x="675.0" y="196.2" width="1.8" height="1.8" fill="#e9493f"/>
<rect x="680.1" y="180.8" width="1.8" height="1.8" fill="#e9493f"/>
<rect x="673.0" y="176.0" width="1.8" height="1.8" fill="#e9493f"/>
<rect x="683.0" y="204.9" width="1.8" height="1.8" fill="#e9493f"/>
<rect x="673.2" y="172.2" width="1.8" height="1.8" fill="#e9493f"/>
<rect x="679.3" y="206.6" width="1.8" height="1.8" fill="#e9493f"/>
<rect x="674.2" y="150.2" width="1.8" height="1.8" fill="#e9493f"/>
<rect x="680.5" y="158.2" width="1.8" height="1.8" fill="#e9493f"/>
<rect x="686.1" y="166.9" width="1.8" height="1.8" fill="#e9493f"/>
<rect x="673.6" y="198.4" width="1.8" height="1.8" fill="#e9493f"/>
<rect x="676.4" y="194.8" width="1.8" height="1.8" fill="#e9493f"/>
<rect x="684.8" y="198.3" width="1.8" height="1.8" fill="#e9493f"/>
<rect x="673.5" y="171.8" width="1.8" height="1.8" fill="#e9493f"/>
<rect x="676.7" y="217.1" width="1.8" height="1.8" fill="#e9493f"/>
<rect x="680.9" y="214.8" width="1.8" height="1.8" fill="#e9493f"/>
<rect x="684.9" y="197.7" width="1.8" height="1.8" fill="#e9493f"/>
<rect x="677.0" y="190.8" width="1.8" height="1.8" fill="#e9493f"/>
<rect x="678.2" y="151.2" width="1.8" height="1.8" fill="#e9493f"/>
<rect x="677.4" y="180.5" width="1.8" height="1.8" fill="#e9493f"/>
<rect x="673.9" y="214.5" width="1.8" height="1.8" fill="#e9493f"/>
<rect x="673.3" y="199.3" width="1.8" height="1.8" fill="#e9493f"/>
<rect x="684.0" y="195.3" width="1.8" height="1.8" fill="#e9493f"/>
<rect x="677.4" y="170.5" width="1.8" height="1.8" fill="#e9493f"/>
<rect x="679.8" y="221.0" width="1.8" height="1.8" fill="#e9493f"/>
<rect x="674.9" y="186.3" width="1.8" height="1.8" fill="#e9493f"/>
<rect x="674.9" y="152.0" width="1.8" height="1.8" fill="#e9493f"/>
<rect x="674.4" y="179.6" width="1.8" height="1.8" fill="#e9493f"/>
<rect x="673.8" y="173.7" width="1.8" height="1.8" fill="#e9493f"/>
<rect x="680.4" y="195.6" width="1.8" height="1.8" fill="#e9493f"/>
<rect x="674.5" y="168.9" width="1.8" height="1.8" fill="#e9493f"/>
<rect x="676.8" y="184.9" width="1.8" height="1.8" fill="#e9493f"/>
<rect x="675.9" y="215.5" width="1.8" height="1.8" fill="#e9493f"/>
<rect x="685.3" y="173.0" width="1.8" height="1.8" fill="#e9493f"/>
<rect x="677.1" y="161.2" width="1.8" height="1.8" fill="#e9493f"/>
<rect x="682.8" y="175.1" width="1.8" height="1.8" fill="#e9493f"/>
<rect x="682.3" y="186.5" width="1.8" height="1.8" fill="#e9493f"/>
<rect x="678.6" y="163.6" width="1.8" height="1.8" fill="#e9493f"/>
<rect x="677.1" y="189.2" width="1.8" height="1.8" fill="#e9493f"/>
<rect x="684.9" y="199.6" width="1.8" height="1.8" fill="#e9493f"/>
<rect x="674.6" y="158.5" width="1.8" height="1.8" fill="#e9493f"/>
<rect x="674.4" y="176.7" width="1.8" height="1.8" fill="#e9493f"/>
<rect x="674.4" y="152.1" width="1.8" height="1.8" fill="#e9493f"/>
<rect x="679.3" y="165.9" width="1.8" height="1.8" fill="#e9493f"/>
<rect x="673.7" y="181.5" width="1.8" height="1.8" fill="#e9493f"/>
<rect x="676.7" y="174.6" width="1.8" height="1.8" fill="#e9493f"/>
<rect x="674.1" y="176.8" width="1.8" height="1.8" fill="#e9493f"/>
<rect x="673.0" y="153.7" width="1.8" height="1.8" fill="#e9493f"/>
<rect x="682.3" y="227.0" width="1.8" height="1.8" fill="#e9493f"/>
<rect x="678.8" y="155.2" width="1.8" height="1.8" fill="#e9493f"/>
<rect x="678.6" y="223.4" width="1.8" height="1.8" fill="#e9493f"/>
<rect x="676.2" y="158.0" width="1.8" height="1.8" fill="#e9493f"/>
<rect x="674.3" y="180.8" width="1.8" height="1.8" fill="#e9493f"/>
<rect x="673.1" y="186.3" width="1.8" height="1.8" fill="#e9493f"/>
<rect x="679.9" y="213.4" width="1.8" height="1.8" fill="#e9493f"/>
<rect x="691.3" y="190.8" width="1.8" height="1.8" fill="#e9493f"/>
<rect x="674.9" y="192.3" width="1.8" height="1.8" fill="#e9493f"/>
<rect x="673.8" y="169.5" width="1.8" height="1.8" fill="#e9493f"/>
<rect x="679.3" y="146.6" width="1.8" height="1.8" fill="#e9493f"/>
<rect x="675.4" y="205.3" width="1.8" height="1.8" fill="#e9493f"/>
<rect x="678.3" y="165.0" width="1.8" height="1.8" fill="#e9493f"/>
<rect x="690.5" y="205.9" width="1.8" height="1.8" fill="#e9493f"/>
<rect x="680.8" y="163.5" width="1.8" height="1.8" fill="#e9493f"/>
<rect x="682.1" y="204.6" width="1.8" height="1.8" fill="#e9493f"/>
<rect x="674.2" y="174.7" width="1.8" height="1.8" fill="#e9493f"/>
<rect x="675.6" y="204.1" width="1.8" height="1.8" fill="#e9493f"/>
<rect x="677.8" y="177.2" width="1.8" height="1.8" fill="#e9493f"/>
<rect x="683.6" y="177.2" width="1.8" height="1.8" fill="#e9493f"/>
<rect x="673.2" y="169.0" width="1.8" height="1.8" fill="#e9493f"/>
<rect x="679.5" y="187.5" width="1.8" height="1.8" fill="#e9493f"/>
<rect x="681.2" y="203.7" width="1.8" height="1.8" fill="#e9493f"/>
<rect x="692.4" y="211.8" width="1.8" height="1.8" fill="#e9493f"/>
<rect x="677.4" y="183.8" width="1.8" height="1.8" fill="#e9493f"/>
<rect x="674.8" y="162.6" width="1.8" height="1.8" fill="#e9493f"/>
<rect x="673.6" y="188.3" width="1.8" height="1.8" fill="#e9493f"/>
<rect x="674.2" y="194.4" width="1.8" height="1.8" fill="#e9493f"/>
<rect x="694.7" y="181.2" width="1.8" height="1.8" fill="#e9493f"/>
<rect x="673.2" y="155.8" width="1.8" height="1.8" fill="#e9493f"/>
<rect x="674.3" y="181.0" width="1.8" height="1.8" fill="#e9493f"/>
<rect x="673.0" y="196.6" width="1.8" height="1.8" fill="#e9493f"/>
<rect x="686.0" y="205.5" width="1.8" height="1.8" fill="#e9493f"/>
<rect x="676.7" y="201.1" width="1.8" height="1.8" fill="#e9493f"/>
<rect x="679.1" y="172.0" width="1.8" height="1.8" fill="#e9493f"/>
<rect x="676.5" y="184.8" width="1.8" height="1.8" fill="#e9493f"/>
<rect x="676.4" y="175.4" width="1.8" height="1.8" fill="#e9493f"/>
<rect x="684.7" y="193.1" width="1.8" height="1.8" fill="#e9493f"/>
<rect x="674.2" y="211.6" width="1.8" height="1.8" fill="#e9493f"/>
<rect x="676.3" y="172.8" width="1.8" height="1.8" fill="#e9493f"/>
<rect x="675.8" y="187.3" width="1.8" height="1.8" fill="#e9493f"/>
<rect x="673.5" y="165.7" width="1.8" height="1.8" fill="#e9493f"/>
<rect x="676.6" y="174.5" width="1.8" height="1.8" fill="#e9493f"/>
<rect x="689.0" y="221.4" width="1.8" height="1.8" fill="#e9493f"/>
<rect x="697.5" y="207.7" width="1.8" height="1.8" fill="#e9493f"/>
<rect x="679.5" y="219.6" width="1.8" height="1.8" fill="#e9493f"/>
<rect x="673.4" y="203.0" width="1.8" height="1.8" fill="#e9493f"/>
<rect x="679.3" y="193.7" width="1.8" height="1.8" fill="#e9493f"/>
<rect x="677.8" y="172.9" width="1.8" height="1.8" fill="#e9493f"/>
<rect x="677.4" y="218.0" width="1.8" height="1.8" fill="#e9493f"/>
<rect x="675.4" y="191.9" width="1.8" height="1.8" fill="#e9493f"/>
<rect x="685.7" y="175.7" width="1.8" height="1.8" fill="#e9493f"/>
<rect x="673.9" y="146.7" width="1.8" height="1.8" fill="#e9493f"/>
<rect x="677.0" y="193.8" width="1.8" height="1.8" fill="#e9493f"/>
<rect x="678.0" y="155.3" width="1.8" height="1.8" fill="#e9493f"/>
<rect x="678.2" y="177.4" width="1.8" height="1.8" fill="#e9493f"/>
<rect x="677.6" y="179.8" width="1.8" height="1.8" fill="#e9493f"/>
<rect x="676.3" y="187.4" width="1.8" height="1.8" fill="#e9493f"/>
<rect x="674.0" y="158.5" width="1.8" height="1.8" fill="#e9493f"/>
<rect x="678.3" y="210.1" width="1.8" height="1.8" fill="#e9493f"/>
<rect x="682.5" y="158.3" width="1.8" height="1.8" fill="#e9493f"/>
<rect x="673.5" y="170.0" width="1.8" height="1.8" fill="#e9493f"/>
<rect x="674.9" y="185.6" width="1.8" height="1.8" fill="#e9493f"/>
<rect x="678.1" y="183.6" width="1.8" height="1.8" fill="#e9493f"/>
<rect x="677.6" y="168.1" width="1.8" height="1.8" fill="#e9493f"/>
<rect x="676.4" y="158.4" width="1.8" height="1.8" fill="#e9493f"/>
<rect x="673.6" y="188.6" width="1.8" height="1.8" fill="#e9493f"/>
<rect x="673.5" y="179.4" width="1.8" height="1.8" fill="#e9493f"/>
<rect x="685.3" y="181.0" width="1.8" height="1.8" fill="#e9493f"/>
<rect x="681.2" y="186.6" width="1.8" height="1.8" fill="#e9493f"/>
<rect x="673.8" y="198.9" width="1.8" height="1.8" fill="#e9493f"/>
<rect x="681.6" y="226.4" width="1.8" height="1.8" fill="#e9493f"/>
<rect x="681.3" y="157.2" width="1.8" height="1.8" fill="#e9493f"/>
<rect x="674.1" y="178.5" width="1.8" height="1.8" fill="#e9493f"/>
<rect x="678.5" y="219.2" width="1.8" height="1.8" fill="#e9493f"/>
<rect x="674.0" y="200.2" width="1.8" height="1.8" fill="#e9493f"/>
<rect x="673.4" y="200.3" width="1.8" height="1.8" fill="#e9493f"/>
<rect x="675.5" y="168.8" width="1.8" height="1.8" fill="#e9493f"/>
<rect x="676.8" y="143.6" width="1.8" height="1.8" fill="#e9493f"/>
<rect x="674.9" y="167.1" width="1.8" height="1.8" fill="#e9493f"/>
<rect x="676.7" y="195.6" width="1.8" height="1.8" fill="#e9493f"/>
<rect x="679.5" y="210.0" width="1.8" height="1.8" fill="#e9493f"/>
<rect x="678.5" y="208.3" width="1.8" height="1.8" fill="#e9493f"/>
<rect x="686.7" y="213.2" width="1.8" height="1.8" fill="#e9493f"/>
<rect x="680.0" y="163.5" width="1.8" height="1.8" fill="#e9493f"/>
<rect x="681.4" y="175.6" width="1.8" height="1.8" fill="#e9493f"/>
<rect x="684.7" y="193.9" width="1.8" height="1.8" fill="#e9493f"/>
<rect x="675.3" y="159.4" width="1.8" height="1.8" fill="#e9493f"/>
<rect x="692.8" y="197.6" width="1.8" height="1.8" fill="#e9493f"/>
<rect x="673.3" y="196.5" width="1.8" height="1.8" fill="#e9493f"/>
<rect x="673.7" y="189.5" width="1.8" height="1.8" fill="#e9493f"/>
<rect x="683.6" y="186.6" width="1.8" height="1.8" fill="#e9493f"/>
<rect x="685.4" y="158.4" width="1.8" height="1.8" fill="#e9493f"/>
<rect x="675.0" y="193.6" width="1.8" height="1.8" fill="#e9493f"/>
<rect x="676.1" y="165.6" width="1.8" height="1.8" fill="#e9493f"/>
<rect x="678.8" y="205.2" width="1.8" height="1.8" fill="#e9493f"/>
<rect x="673.1" y="158.5" width="1.8" height="1.8" fill="#e9493f"/>
<rect x="680.7" y="158.1" width="1.8" height="1.8" fill="#e9493f"/>
<rect x="677.2" y="164.9" width="1.8" height="1.8" fill="#e9493f"/>
<rect x="679.6" y="172.4" width="1.8" height="1.8" fill="#e9493f"/>
<rect x="673.9" y="177.9" width="1.8" height="1.8" fill="#e9493f"/>
<rect x="678.2" y="208.6" width="1.8" height="1.8" fill="#e9493f"/>
<rect x="684.1" y="194.5" width="1.8" height="1.8" fill="#e9493f"/>
<rect x="673.1" y="217.4" width="1.8" height="1.8" fill="#e9493f"/>
<rect x="674.0" y="175.6" width="1.8" height="1.8" fill="#e9493f"/>
<rect x="686.2" y="184.2" width="1.8" height="1.8" fill="#e9493f"/>
<rect x="673.2" y="202.1" width="1.8" height="1.8" fill="#e9493f"/>
<rect x="681.8" y="164.7" width="1.8" height="1.8" fill="#e9493f"/>
<rect x="676.3" y="193.9" width="1.8" height="1.8" fill="#e9493f"/>
<rect x="674.1" y="182.9" width="1.8" height="1.8" fill="#e9493f"/>
<rect x="676.3" y="205.8" width="1.8" height="1.8" fill="#e9493f"/>
<rect x="679.3" y="208.4" width="1.8" height="1.8" fill="#e9493f"/>
<rect x="674.8" y="154.2" width="1.8" height="1.8" fill="#e9493f"/>
<rect x="685.0" y="167.3" width="1.8" height="1.8" fill="#e9493f"/>
<rect x="673.3" y="188.7" width="1.8" height="1.8" fill="#e9493f"/>
<rect x="675.3" y="163.6" width="1.8" height="1.8" fill="#e9493f"/>
<rect x="678.4" y="182.5" width="1.8" height="1.8" fill="#e9493f"/>
<rect x="675.6" y="178.3" width="1.8" height="1.8" fill="#e9493f"/>
<rect x="676.6" y="140.5" width="1.8" height="1.8" fill="#e9493f"/>
<rect x="673.1" y="175.1" width="1.8" height="1.8" fill="#e9493f"/>
<rect x="673.7" y="149.9" width="1.8" height="1.8" fill="#e9493f"/>
<rect x="674.1" y="94.4" width="1.7" height="1.7" fill="#e9493f"/>
<rect x="694.1" y="125.8" width="1.7" height="1.7" fill="#e9493f"/>
<rect x="702.1" y="215.8" width="1.7" height="1.7" fill="#e9493f"/>
<rect x="679.9" y="111.5" width="1.7" height="1.7" fill="#e9493f"/>
<rect x="677.4" y="115.2" width="1.7" height="1.7" fill="#e9493f"/>
<rect x="682.6" y="119.7" width="1.7" height="1.7" fill="#e9493f"/>
<rect x="676.5" y="125.4" width="1.7" height="1.7" fill="#e9493f"/>
<rect x="682.9" y="127.0" width="1.7" height="1.7" fill="#e9493f"/>
<rect x="696.5" y="166.2" width="1.7" height="1.7" fill="#e9493f"/>
<rect x="689.1" y="195.2" width="1.7" height="1.7" fill="#e9493f"/>
<rect x="675.1" y="130.2" width="1.7" height="1.7" fill="#e9493f"/>
<rect x="677.1" y="141.0" width="1.7" height="1.7" fill="#e9493f"/>
<rect x="680.1" y="141.8" width="1.7" height="1.7" fill="#e9493f"/>
<rect x="674.9" y="145.5" width="1.7" height="1.7" fill="#e9493f"/>
<rect x="677.4" y="148.2" width="1.7" height="1.7" fill="#e9493f"/>
<rect x="682.2" y="150.0" width="1.7" height="1.7" fill="#e9493f"/>
<rect x="688.1" y="141.2" width="1.7" height="1.7" fill="#e9493f"/>
<rect x="674.1" y="136.2" width="1.7" height="1.7" fill="#e9493f"/>
<line x1="553.5" y1="66.5" x2="759" y2="66.5" stroke="#707070" stroke-width="1" />
<line x1="553.5" y1="66.5" x2="553.5" y2="282.4" stroke="#6a6a6a" stroke-width="1" />
<line x1="553.5" y1="282.4" x2="759" y2="282.4" stroke="#6a6a6a" stroke-width="1.1" />
<line x1="759" y1="66.5" x2="759" y2="282.4" stroke="#a8a8a8" stroke-width="1.1" />
<circle cx="688.7" cy="81.5" r="1.75" fill="#e53935" stroke="#000" stroke-width="1.15"/>
<text x="691.3" y="85.4" font-size="8.3" text-anchor="start" fill="#000" stroke="#000" stroke-width="0.25" font-style="italic">Slc7a11</text>
<circle cx="681.5" cy="134.2" r="1.75" fill="#e53935" stroke="#000" stroke-width="1.15"/>
<text x="684.3" y="138.3" font-size="8.3" text-anchor="start" fill="#000" stroke="#000" stroke-width="0.25" font-style="italic">Gadd45b</text>
<circle cx="686.6" cy="176.8" r="1.75" fill="#e53935" stroke="#000" stroke-width="1.15"/>
<text x="688.5" y="177.7" font-size="8.3" text-anchor="start" fill="#000" stroke="#000" stroke-width="0.25" font-style="italic">Ccl19</text>
<circle cx="685.7" cy="183.5" r="1.75" fill="#e53935" stroke="#000" stroke-width="1.15"/>
<text x="687.2" y="191.3" font-size="8.3" text-anchor="start" fill="#000" stroke="#000" stroke-width="0.25" font-style="italic">Fscn1</text>
<circle cx="690.5" cy="204.3" r="1.75" fill="#e53935" stroke="#000" stroke-width="1.15"/>
<text x="692.5" y="212.5" font-size="8.3" text-anchor="start" fill="#000" stroke="#000" stroke-width="0.25" font-style="italic">Kcne4</text>
<rect x="336.4" y="346.4" width="14.6" height="9.6" fill="#fff" stroke="#111" stroke-width="1.4" />
<text x="360.8" y="356.6" font-size="14.8" text-anchor="start" fill="#111" stroke="#111" stroke-width="0.25">control</text>
<rect x="420.5" y="346.4" width="15.2" height="9.6" fill="#fff" stroke="#e8141c" stroke-width="1.4" />
<text x="445.5" y="356.6" font-size="14.9" text-anchor="start" fill="#111" stroke="#111" stroke-width="0.25">B16F10 Tx</text>
<path d="M64.3 546 L64.3 500.5 L77.4 500.5 L77.4 546" fill="#fff" stroke="#111" stroke-width="1.6"/>
<path d="M83.8 546 L83.8 458.2 L97.7 458.2 L97.7 546" fill="#fff" stroke="#f81414" stroke-width="1.6"/>
<path d="M103.3 546 L103.3 459.3 L116.8 459.3 L116.8 546" fill="#fff" stroke="#f81414" stroke-width="1.6"/>
<path d="M123.2 546 L123.2 496 L136.7 496 L136.7 546" fill="#fff" stroke="#f81414" stroke-width="1.6"/>
<line x1="70.85" y1="490.3" x2="70.85" y2="509" stroke="#111" stroke-width="1.4" />
<line x1="66.85" y1="490.3" x2="74.85" y2="490.3" stroke="#111" stroke-width="1.4" />
<line x1="66.85" y1="509" x2="74.85" y2="509" stroke="#111" stroke-width="1.4" />
<line x1="90.75" y1="449.3" x2="90.75" y2="464.2" stroke="#f81414" stroke-width="1.4" />
<line x1="86.75" y1="449.3" x2="94.75" y2="449.3" stroke="#f81414" stroke-width="1.4" />
<line x1="86.75" y1="464.2" x2="94.75" y2="464.2" stroke="#f81414" stroke-width="1.4" />
<line x1="110.05" y1="442.7" x2="110.05" y2="474" stroke="#f81414" stroke-width="1.4" />
<line x1="106.05" y1="442.7" x2="114.05" y2="442.7" stroke="#f81414" stroke-width="1.4" />
<line x1="106.05" y1="474" x2="114.05" y2="474" stroke="#f81414" stroke-width="1.4" />
<line x1="129.95" y1="491.5" x2="129.95" y2="497.6" stroke="#f81414" stroke-width="1.4" />
<line x1="125.95" y1="491.5" x2="133.95" y2="491.5" stroke="#f81414" stroke-width="1.4" />
<line x1="125.95" y1="497.6" x2="133.95" y2="497.6" stroke="#f81414" stroke-width="1.4" />
<circle cx="71" cy="465.2" r="2.85" fill="#000"/>
<circle cx="71" cy="497" r="2.85" fill="#000"/>
<circle cx="65.4" cy="506.5" r="2.85" fill="#000"/>
<circle cx="76.6" cy="510" r="2.85" fill="#000"/>
<circle cx="71" cy="517" r="2.85" fill="#000"/>
<circle cx="85.2" cy="438.9" r="2.85" fill="#f00000"/>
<circle cx="95.8" cy="435" r="2.85" fill="#f00000"/>
<circle cx="85.2" cy="457.4" r="2.85" fill="#f00000"/>
<circle cx="95.8" cy="457.4" r="2.85" fill="#f00000"/>
<circle cx="90.6" cy="468.2" r="2.85" fill="#f00000"/>
<circle cx="90.6" cy="483" r="2.85" fill="#f00000"/>
<circle cx="110.4" cy="442.7" r="2.85" fill="#f00000"/>
<circle cx="110.4" cy="474" r="2.85" fill="#f00000"/>
<circle cx="125" cy="487.3" r="2.85" fill="#f00000"/>
<circle cx="130.3" cy="484.6" r="2.85" fill="#f00000"/>
<circle cx="135.2" cy="482.4" r="2.85" fill="#f00000"/>
<circle cx="125" cy="494" r="2.85" fill="#f00000"/>
<circle cx="130" cy="495.2" r="2.85" fill="#f00000"/>
<circle cx="135" cy="497.5" r="2.85" fill="#f00000"/>
<circle cx="125" cy="502" r="2.85" fill="#f00000"/>
<circle cx="130" cy="511.4" r="2.85" fill="#f00000"/>
<line x1="55.2" y1="408" x2="55.2" y2="546.6" stroke="#111" stroke-width="1.6" />
<line x1="54.5" y1="546" x2="146.5" y2="546" stroke="#111" stroke-width="1.6" />
<line x1="51.2" y1="546" x2="55.2" y2="546" stroke="#111" stroke-width="1.3" />
<text x="48.7" y="550.3" font-size="11.6" text-anchor="end" fill="#111" stroke="#111" stroke-width="0.25">0.000</text>
<line x1="51.2" y1="518.4" x2="55.2" y2="518.4" stroke="#111" stroke-width="1.3" />
<text x="48.7" y="522.7" font-size="11.6" text-anchor="end" fill="#111" stroke="#111" stroke-width="0.25">0.005</text>
<line x1="51.2" y1="491.4" x2="55.2" y2="491.4" stroke="#111" stroke-width="1.3" />
<text x="48.7" y="495.7" font-size="11.6" text-anchor="end" fill="#111" stroke="#111" stroke-width="0.25">0.010</text>
<line x1="51.2" y1="464" x2="55.2" y2="464" stroke="#111" stroke-width="1.3" />
<text x="48.7" y="468.3" font-size="11.6" text-anchor="end" fill="#111" stroke="#111" stroke-width="0.25">0.015</text>
<line x1="51.2" y1="436.6" x2="55.2" y2="436.6" stroke="#111" stroke-width="1.3" />
<text x="48.7" y="440.9" font-size="11.6" text-anchor="end" fill="#111" stroke="#111" stroke-width="0.25">0.020</text>
<line x1="51.2" y1="408.5" x2="55.2" y2="408.5" stroke="#111" stroke-width="1.3" />
<text x="48.7" y="412.8" font-size="11.6" text-anchor="end" fill="#111" stroke="#111" stroke-width="0.25">0.025</text>
<line x1="70.85" y1="546" x2="70.85" y2="550" stroke="#111" stroke-width="1.3" />
<text x="74.75" y="553" font-size="11.2" text-anchor="end" fill="#111" stroke="#111" stroke-width="0.25" transform="rotate(-90 74.75 553)">ctrl</text>
<line x1="90.75" y1="546" x2="90.75" y2="550" stroke="#111" stroke-width="1.3" />
<text x="94.65" y="553" font-size="11.2" text-anchor="end" fill="#111" stroke="#111" stroke-width="0.25" transform="rotate(-90 94.65 553)">Rt_meta-</text>
<line x1="110.05" y1="546" x2="110.05" y2="550" stroke="#111" stroke-width="1.3" />
<text x="113.95" y="553" font-size="11.2" text-anchor="end" fill="#111" stroke="#111" stroke-width="0.25" transform="rotate(-90 113.95 553)">Rt_meta+</text>
<line x1="129.95" y1="546" x2="129.95" y2="550" stroke="#111" stroke-width="1.3" />
<text x="133.85" y="553" font-size="11.2" text-anchor="end" fill="#111" stroke="#111" stroke-width="0.25" transform="rotate(-90 133.85 553)">Lt</text>
<text x="100.5" y="621" font-size="10.8" text-anchor="middle" fill="#111" stroke="#111" stroke-width="0.25">SLN</text>
<text x="100.8" y="389.7" font-size="13.9" text-anchor="middle" fill="#111" stroke="#111" stroke-width="0.25" font-style="italic">Kcne4</text>
<text x="8.3" y="483.2" font-size="11.4" text-anchor="middle" textLength="114" lengthAdjust="spacingAndGlyphs" fill="#111" stroke="#111" stroke-width="0.25" transform="rotate(-90 8.3 483.2)">Relative expression level</text>
<path d="M70.5 407 L70.5 403.3 L130.7 403.3 L130.7 407" fill="none" stroke="#3a3a3a" stroke-width="0.95"/>
<text x="95.8" y="401.7" font-size="11" text-anchor="middle" fill="#1a1a1a" stroke="#1a1a1a" stroke-width="0.25" textLength="9.8" lengthAdjust="spacingAndGlyphs">ns</text>
<path d="M70.5 418.1 L70.5 414.7 L110.4 414.7 L110.4 418.1" fill="none" stroke="#3a3a3a" stroke-width="0.95"/>
<polygon points="90.00,409.70 90.72,410.81 92.00,411.15 91.16,412.18 91.23,413.50 90.00,413.02 88.77,413.50 88.84,412.18 88.00,411.15 89.28,410.81" fill="#222"/>
<path d="M70.5 441.9 L70.5 427.4 L110.4 427.4 L110.4 430" fill="none" stroke="#3a3a3a" stroke-width="0.95"/>
<line x1="90.6" y1="427.4" x2="90.6" y2="429.9" stroke="#333" stroke-width="1" />
<polygon points="77.70,421.60 78.42,422.71 79.70,423.05 78.86,424.08 78.93,425.40 77.70,424.92 76.47,425.40 76.54,424.08 75.70,423.05 76.98,422.71" fill="#222"/>
<polygon points="84.50,421.60 85.22,422.71 86.50,423.05 85.66,424.08 85.73,425.40 84.50,424.92 83.27,425.40 83.34,424.08 82.50,423.05 83.78,422.71" fill="#222"/>
<text x="99.7" y="424.2" font-size="11" text-anchor="middle" fill="#1a1a1a" stroke="#1a1a1a" stroke-width="0.25" textLength="9.8" lengthAdjust="spacingAndGlyphs">ns</text>
<path d="M234 546 L234 521.3 L247.1 521.3 L247.1 546" fill="#fff" stroke="#111" stroke-width="1.6"/>
<path d="M253.8 546 L253.8 474.6 L266.9 474.6 L266.9 546" fill="#fff" stroke="#f81414" stroke-width="1.6"/>
<path d="M273.5 546 L273.5 467.2 L286.7 467.2 L286.7 546" fill="#fff" stroke="#f81414" stroke-width="1.6"/>
<path d="M293.3 546 L293.3 512.2 L306.8 512.2 L306.8 546" fill="#fff" stroke="#f81414" stroke-width="1.6"/>
<line x1="240.55" y1="518.5" x2="240.55" y2="523" stroke="#111" stroke-width="1.4" />
<line x1="236.55" y1="518.5" x2="244.55" y2="518.5" stroke="#111" stroke-width="1.4" />
<line x1="236.55" y1="523" x2="244.55" y2="523" stroke="#111" stroke-width="1.4" />
<line x1="260.35" y1="469" x2="260.35" y2="479" stroke="#f81414" stroke-width="1.4" />
<line x1="256.35" y1="469" x2="264.35" y2="469" stroke="#f81414" stroke-width="1.4" />
<line x1="256.35" y1="479" x2="264.35" y2="479" stroke="#f81414" stroke-width="1.4" />
<line x1="280.1" y1="463" x2="280.1" y2="470" stroke="#f81414" stroke-width="1.4" />
<line x1="276.1" y1="463" x2="284.1" y2="463" stroke="#f81414" stroke-width="1.4" />
<line x1="276.1" y1="470" x2="284.1" y2="470" stroke="#f81414" stroke-width="1.4" />
<line x1="300.05" y1="505" x2="300.05" y2="518" stroke="#f81414" stroke-width="1.4" />
<line x1="296.05" y1="505" x2="304.05" y2="505" stroke="#f81414" stroke-width="1.4" />
<line x1="296.05" y1="518" x2="304.05" y2="518" stroke="#f81414" stroke-width="1.4" />
<circle cx="235.5" cy="516.2" r="2.85" fill="#000"/>
<circle cx="240.5" cy="517.7" r="2.85" fill="#000"/>
<circle cx="245.6" cy="520.4" r="2.85" fill="#000"/>
<circle cx="235.5" cy="522.7" r="2.85" fill="#000"/>
<circle cx="241" cy="521" r="2.85" fill="#000"/>
<circle cx="260.7" cy="461.4" r="2.85" fill="#f00000"/>
<circle cx="254.6" cy="472.7" r="2.85" fill="#f00000"/>
<circle cx="260.7" cy="472.7" r="2.85" fill="#f00000"/>
<circle cx="265.9" cy="473.8" r="2.85" fill="#f00000"/>
<circle cx="260.7" cy="484" r="2.85" fill="#f00000"/>
<circle cx="257" cy="476" r="2.85" fill="#f00000"/>
<circle cx="280.6" cy="462.5" r="2.85" fill="#f00000"/>
<circle cx="280.6" cy="470.4" r="2.85" fill="#f00000"/>
<circle cx="299.7" cy="479.4" r="2.85" fill="#f00000"/>
<circle cx="295.2" cy="506.9" r="2.85" fill="#f00000"/>
<circle cx="299.7" cy="511" r="2.85" fill="#f00000"/>
<circle cx="295.2" cy="513" r="2.85" fill="#f00000"/>
<circle cx="304" cy="515" r="2.85" fill="#f00000"/>
<circle cx="299.7" cy="520" r="2.85" fill="#f00000"/>
<circle cx="304.5" cy="518.5" r="2.85" fill="#f00000"/>
<circle cx="299.7" cy="526.8" r="2.85" fill="#f00000"/>
<line x1="225.4" y1="408" x2="225.4" y2="546.6" stroke="#111" stroke-width="1.6" />
<line x1="224.7" y1="546" x2="315.5" y2="546" stroke="#111" stroke-width="1.6" />
<line x1="221.4" y1="546" x2="225.4" y2="546" stroke="#111" stroke-width="1.3" />
<text x="218.9" y="550.3" font-size="11.6" text-anchor="end" fill="#111" stroke="#111" stroke-width="0.25">0.00</text>
<line x1="221.4" y1="500.2" x2="225.4" y2="500.2" stroke="#111" stroke-width="1.3" />
<text x="218.9" y="504.5" font-size="11.6" text-anchor="end" fill="#111" stroke="#111" stroke-width="0.25">0.01</text>
<line x1="221.4" y1="454.6" x2="225.4" y2="454.6" stroke="#111" stroke-width="1.3" />
<text x="218.9" y="458.9" font-size="11.6" text-anchor="end" fill="#111" stroke="#111" stroke-width="0.25">0.02</text>
<line x1="221.4" y1="408.5" x2="225.4" y2="408.5" stroke="#111" stroke-width="1.3" />
<text x="218.9" y="412.8" font-size="11.6" text-anchor="end" fill="#111" stroke="#111" stroke-width="0.25">0.03</text>
<line x1="240.55" y1="546" x2="240.55" y2="550" stroke="#111" stroke-width="1.3" />
<text x="244.45" y="553" font-size="11.2" text-anchor="end" fill="#111" stroke="#111" stroke-width="0.25" transform="rotate(-90 244.45 553)">ctrl</text>
<line x1="260.35" y1="546" x2="260.35" y2="550" stroke="#111" stroke-width="1.3" />
<text x="264.25" y="553" font-size="11.2" text-anchor="end" fill="#111" stroke="#111" stroke-width="0.25" transform="rotate(-90 264.25 553)">Rt_meta-</text>
<line x1="280.1" y1="546" x2="280.1" y2="550" stroke="#111" stroke-width="1.3" />
<text x="284" y="553" font-size="11.2" text-anchor="end" fill="#111" stroke="#111" stroke-width="0.25" transform="rotate(-90 284 553)">Rt_meta+</text>
<line x1="300.05" y1="546" x2="300.05" y2="550" stroke="#111" stroke-width="1.3" />
<text x="303.95" y="553" font-size="11.2" text-anchor="end" fill="#111" stroke="#111" stroke-width="0.25" transform="rotate(-90 303.95 553)">Lt</text>
<text x="270.4" y="621" font-size="10.8" text-anchor="middle" fill="#111" stroke="#111" stroke-width="0.25">SLN</text>
<text x="271" y="387.5" font-size="13.9" text-anchor="middle" fill="#111" stroke="#111" stroke-width="0.25" font-style="italic">Slc7a11</text>
<text x="184.7" y="483.2" font-size="11.4" text-anchor="middle" textLength="114" lengthAdjust="spacingAndGlyphs" fill="#111" stroke="#111" stroke-width="0.25" transform="rotate(-90 184.7 483.2)">Relative expression level</text>
<path d="M240.4 419.7 L240.4 416.2 L301.1 416.2 L301.1 419.7" fill="none" stroke="#3a3a3a" stroke-width="0.95"/>
<text x="268.7" y="415" font-size="11" text-anchor="middle" fill="#1a1a1a" stroke="#1a1a1a" stroke-width="0.25" textLength="9.8" lengthAdjust="spacingAndGlyphs">ns</text>
<path d="M240.4 431.6 L240.4 428.4 L280.5 428.4 L280.5 431" fill="none" stroke="#3a3a3a" stroke-width="0.95"/>
<polygon points="256.50,422.90 257.22,424.01 258.50,424.35 257.66,425.38 257.73,426.70 256.50,426.22 255.27,426.70 255.34,425.38 254.50,424.35 255.78,424.01" fill="#222"/>
<polygon points="262.80,422.90 263.52,424.01 264.80,424.35 263.96,425.38 264.03,426.70 262.80,426.22 261.57,426.70 261.64,425.38 260.80,424.35 262.08,424.01" fill="#222"/>
<polygon points="269.60,422.90 270.32,424.01 271.60,424.35 270.76,425.38 270.83,426.70 269.60,426.22 268.37,426.70 268.44,425.38 267.60,424.35 268.88,424.01" fill="#222"/>
<path d="M240.4 455.2 L240.4 440.7 L281.3 440.7 L281.3 443" fill="none" stroke="#3a3a3a" stroke-width="0.95"/>
<line x1="260.5" y1="440.7" x2="260.5" y2="442.8" stroke="#333" stroke-width="1" />
<polygon points="245.50,434.90 246.22,436.01 247.50,436.35 246.66,437.38 246.73,438.70 245.50,438.22 244.27,438.70 244.34,437.38 243.50,436.35 244.78,436.01" fill="#222"/>
<polygon points="251.80,434.90 252.52,436.01 253.80,436.35 252.96,437.38 253.03,438.70 251.80,438.22 250.57,438.70 250.64,437.38 249.80,436.35 251.08,436.01" fill="#222"/>
<polygon points="258.40,434.90 259.12,436.01 260.40,436.35 259.56,437.38 259.63,438.70 258.40,438.22 257.17,438.70 257.24,437.38 256.40,436.35 257.68,436.01" fill="#222"/>
<text x="272" y="440.5" font-size="11" text-anchor="middle" fill="#1a1a1a" stroke="#1a1a1a" stroke-width="0.25" textLength="9.8" lengthAdjust="spacingAndGlyphs">ns</text>
<path d="M403.5 546 L403.5 504.3 L416.8 504.3 L416.8 546" fill="#fff" stroke="#111" stroke-width="1.6"/>
<path d="M423.3 546 L423.3 472.8 L436.8 472.8 L436.8 546" fill="#fff" stroke="#f81414" stroke-width="1.6"/>
<path d="M442.9 546 L442.9 487.4 L456.2 487.4 L456.2 546" fill="#fff" stroke="#f81414" stroke-width="1.6"/>
<path d="M462.8 546 L462.8 505 L476.2 505 L476.2 546" fill="#fff" stroke="#f81414" stroke-width="1.6"/>
<line x1="410.15" y1="499" x2="410.15" y2="508" stroke="#111" stroke-width="1.4" />
<line x1="406.15" y1="499" x2="414.15" y2="499" stroke="#111" stroke-width="1.4" />
<line x1="406.15" y1="508" x2="414.15" y2="508" stroke="#111" stroke-width="1.4" />
<line x1="430.05" y1="461.4" x2="430.05" y2="482.8" stroke="#f81414" stroke-width="1.4" />
<line x1="426.05" y1="461.4" x2="434.05" y2="461.4" stroke="#f81414" stroke-width="1.4" />
<line x1="426.05" y1="482.8" x2="434.05" y2="482.8" stroke="#f81414" stroke-width="1.4" />
<line x1="449.55" y1="476" x2="449.55" y2="497" stroke="#f81414" stroke-width="1.4" />
<line x1="445.55" y1="476" x2="453.55" y2="476" stroke="#f81414" stroke-width="1.4" />
<line x1="445.55" y1="497" x2="453.55" y2="497" stroke="#f81414" stroke-width="1.4" />
<line x1="469.5" y1="495.9" x2="469.5" y2="512" stroke="#f81414" stroke-width="1.4" />
<line x1="465.5" y1="495.9" x2="473.5" y2="495.9" stroke="#f81414" stroke-width="1.4" />
<line x1="465.5" y1="512" x2="473.5" y2="512" stroke="#f81414" stroke-width="1.4" />
<circle cx="410.1" cy="494.8" r="2.85" fill="#000"/>
<circle cx="405" cy="499.7" r="2.85" fill="#000"/>
<circle cx="415.8" cy="501.5" r="2.85" fill="#000"/>
<circle cx="410.1" cy="507" r="2.85" fill="#000"/>
<circle cx="410.1" cy="517.7" r="2.85" fill="#000"/>
<circle cx="430" cy="434.8" r="2.85" fill="#f00000"/>
<circle cx="430" cy="442.9" r="2.85" fill="#f00000"/>
<circle cx="430" cy="478.8" r="2.85" fill="#f00000"/>
<circle cx="424.8" cy="487.8" r="2.85" fill="#f00000"/>
<circle cx="424.8" cy="494.5" r="2.85" fill="#f00000"/>
<circle cx="435.2" cy="491.4" r="2.85" fill="#f00000"/>
<circle cx="449.6" cy="475.4" r="2.85" fill="#f00000"/>
<circle cx="449.6" cy="496.8" r="2.85" fill="#f00000"/>
<circle cx="464.7" cy="475" r="2.85" fill="#f00000"/>
<circle cx="474.8" cy="474.3" r="2.85" fill="#f00000"/>
<circle cx="464.7" cy="491.4" r="2.85" fill="#f00000"/>
<circle cx="474.8" cy="491.8" r="2.85" fill="#f00000"/>
<circle cx="469.6" cy="517.7" r="2.85" fill="#f00000"/>
<circle cx="464.7" cy="522.7" r="2.85" fill="#f00000"/>
<circle cx="474.8" cy="525.6" r="2.85" fill="#f00000"/>
<circle cx="464.7" cy="530.6" r="2.85" fill="#f00000"/>
<line x1="395" y1="408" x2="395" y2="546.6" stroke="#111" stroke-width="1.6" />
<line x1="394.3" y1="546" x2="485" y2="546" stroke="#111" stroke-width="1.6" />
<line x1="391" y1="546" x2="395" y2="546" stroke="#111" stroke-width="1.3" />
<text x="388.5" y="550.3" font-size="11.6" text-anchor="end" fill="#111" stroke="#111" stroke-width="0.25">0.00</text>
<line x1="391" y1="511.4" x2="395" y2="511.4" stroke="#111" stroke-width="1.3" />
<text x="388.5" y="515.7" font-size="11.6" text-anchor="end" fill="#111" stroke="#111" stroke-width="0.25">0.05</text>
<line x1="391" y1="477.2" x2="395" y2="477.2" stroke="#111" stroke-width="1.3" />
<text x="388.5" y="481.5" font-size="11.6" text-anchor="end" fill="#111" stroke="#111" stroke-width="0.25">0.10</text>
<line x1="391" y1="443.4" x2="395" y2="443.4" stroke="#111" stroke-width="1.3" />
<text x="388.5" y="447.7" font-size="11.6" text-anchor="end" fill="#111" stroke="#111" stroke-width="0.25">0.15</text>
<line x1="391" y1="408.5" x2="395" y2="408.5" stroke="#111" stroke-width="1.3" />
<text x="388.5" y="412.8" font-size="11.6" text-anchor="end" fill="#111" stroke="#111" stroke-width="0.25">0.20</text>
<line x1="410.15" y1="546" x2="410.15" y2="550" stroke="#111" stroke-width="1.3" />
<text x="414.05" y="553" font-size="11.2" text-anchor="end" fill="#111" stroke="#111" stroke-width="0.25" transform="rotate(-90 414.05 553)">ctrl</text>
<line x1="430.05" y1="546" x2="430.05" y2="550" stroke="#111" stroke-width="1.3" />
<text x="433.95" y="553" font-size="11.2" text-anchor="end" fill="#111" stroke="#111" stroke-width="0.25" transform="rotate(-90 433.95 553)">Rt_meta-</text>
<line x1="449.55" y1="546" x2="449.55" y2="550" stroke="#111" stroke-width="1.3" />
<text x="453.45" y="553" font-size="11.2" text-anchor="end" fill="#111" stroke="#111" stroke-width="0.25" transform="rotate(-90 453.45 553)">Rt_meta+</text>
<line x1="469.5" y1="546" x2="469.5" y2="550" stroke="#111" stroke-width="1.3" />
<text x="473.4" y="553" font-size="11.2" text-anchor="end" fill="#111" stroke="#111" stroke-width="0.25" transform="rotate(-90 473.4 553)">Lt</text>
<text x="439.85" y="621" font-size="10.8" text-anchor="middle" fill="#111" stroke="#111" stroke-width="0.25">SLN</text>
<text x="440.2" y="389.7" font-size="13.9" text-anchor="middle" fill="#111" stroke="#111" stroke-width="0.25" font-style="italic">Fscn1</text>
<text x="353.9" y="483.2" font-size="11.4" text-anchor="middle" textLength="114" lengthAdjust="spacingAndGlyphs" fill="#111" stroke="#111" stroke-width="0.25" transform="rotate(-90 353.9 483.2)">Relative expression level</text>
<path d="M410.1 405.2 L410.1 401.7 L469.9 401.7 L469.9 405.2" fill="none" stroke="#3a3a3a" stroke-width="0.95"/>
<text x="435" y="399.4" font-size="11" text-anchor="middle" fill="#1a1a1a" stroke="#1a1a1a" stroke-width="0.25" textLength="9.8" lengthAdjust="spacingAndGlyphs">ns</text>
<path d="M410.1 416.9 L410.1 413.4 L450.3 413.4 L450.3 416.4" fill="none" stroke="#3a3a3a" stroke-width="0.95"/>
<text x="430" y="411.4" font-size="11" text-anchor="middle" fill="#1a1a1a" stroke="#1a1a1a" stroke-width="0.25" textLength="9.8" lengthAdjust="spacingAndGlyphs">ns</text>
<path d="M410.1 440 L410.1 425.8 L450.3 425.8 L450.3 428.4" fill="none" stroke="#3a3a3a" stroke-width="0.95"/>
<line x1="430" y1="425.8" x2="430" y2="428.4" stroke="#333" stroke-width="1" />
<text x="420.3" y="424" font-size="11" text-anchor="middle" fill="#1a1a1a" stroke="#1a1a1a" stroke-width="0.25" textLength="9.8" lengthAdjust="spacingAndGlyphs">ns</text>
<text x="440" y="424" font-size="11" text-anchor="middle" fill="#1a1a1a" stroke="#1a1a1a" stroke-width="0.25" textLength="9.8" lengthAdjust="spacingAndGlyphs">ns</text>
<path d="M561.3 546.6 L561.3 499.4 L573.8 499.4 L573.8 546.6" fill="#fff" stroke="#111" stroke-width="1.6"/>
<path d="M580.6 546.6 L580.6 478 L594.2 478 L594.2 546.6" fill="#fff" stroke="#f81414" stroke-width="1.6"/>
<path d="M600.2 546.6 L600.2 482.5 L613.7 482.5 L613.7 546.6" fill="#fff" stroke="#f81414" stroke-width="1.6"/>
<path d="M620.1 546.6 L620.1 508.4 L633.6 508.4 L633.6 546.6" fill="#fff" stroke="#f81414" stroke-width="1.6"/>
<line x1="567.55" y1="490" x2="567.55" y2="507" stroke="#111" stroke-width="1.4" />
<line x1="563.55" y1="490" x2="571.55" y2="490" stroke="#111" stroke-width="1.4" />
<line x1="563.55" y1="507" x2="571.55" y2="507" stroke="#111" stroke-width="1.4" />
<line x1="587.4" y1="468" x2="587.4" y2="486" stroke="#f81414" stroke-width="1.4" />
<line x1="583.4" y1="468" x2="591.4" y2="468" stroke="#f81414" stroke-width="1.4" />
<line x1="583.4" y1="486" x2="591.4" y2="486" stroke="#f81414" stroke-width="1.4" />
<line x1="606.95" y1="478" x2="606.95" y2="485" stroke="#f81414" stroke-width="1.4" />
<line x1="602.95" y1="478" x2="610.95" y2="478" stroke="#f81414" stroke-width="1.4" />
<line x1="602.95" y1="485" x2="610.95" y2="485" stroke="#f81414" stroke-width="1.4" />
<line x1="626.85" y1="500" x2="626.85" y2="515" stroke="#f81414" stroke-width="1.4" />
<line x1="622.85" y1="500" x2="630.85" y2="500" stroke="#f81414" stroke-width="1.4" />
<line x1="622.85" y1="515" x2="630.85" y2="515" stroke="#f81414" stroke-width="1.4" />
<circle cx="567.4" cy="468.2" r="2.85" fill="#000"/>
<circle cx="567.4" cy="498.6" r="2.85" fill="#000"/>
<circle cx="562.3" cy="506" r="2.85" fill="#000"/>
<circle cx="572.4" cy="506" r="2.85" fill="#000"/>
<circle cx="567.4" cy="514.4" r="2.85" fill="#000"/>
<circle cx="587.5" cy="448.3" r="2.85" fill="#f00000"/>
<circle cx="587.5" cy="462.5" r="2.85" fill="#f00000"/>
<circle cx="587.5" cy="469.3" r="2.85" fill="#f00000"/>
<circle cx="584" cy="482" r="2.85" fill="#f00000"/>
<circle cx="587.5" cy="493" r="2.85" fill="#f00000"/>
<circle cx="587.5" cy="500.8" r="2.85" fill="#f00000"/>
<circle cx="607.3" cy="476.7" r="2.85" fill="#f00000"/>
<circle cx="607.3" cy="485" r="2.85" fill="#f00000"/>
<circle cx="626.5" cy="486.2" r="2.85" fill="#f00000"/>
<circle cx="621.5" cy="495.9" r="2.85" fill="#f00000"/>
<circle cx="632.1" cy="497" r="2.85" fill="#f00000"/>
<circle cx="626.5" cy="505" r="2.85" fill="#f00000"/>
<circle cx="632.1" cy="513.9" r="2.85" fill="#f00000"/>
<circle cx="626.5" cy="515" r="2.85" fill="#f00000"/>
<circle cx="621.5" cy="526.8" r="2.85" fill="#f00000"/>
<circle cx="626.5" cy="526.8" r="2.85" fill="#f00000"/>
<line x1="552.6" y1="410.2" x2="552.6" y2="547.2" stroke="#111" stroke-width="1.6" />
<line x1="551.9" y1="546.6" x2="642" y2="546.6" stroke="#111" stroke-width="1.6" />
<line x1="548.6" y1="546.6" x2="552.6" y2="546.6" stroke="#111" stroke-width="1.3" />
<text x="546.1" y="550.9" font-size="11.6" text-anchor="end" fill="#111" stroke="#111" stroke-width="0.25">0.00</text>
<line x1="548.6" y1="512.8" x2="552.6" y2="512.8" stroke="#111" stroke-width="1.3" />
<text x="546.1" y="517.1" font-size="11.6" text-anchor="end" fill="#111" stroke="#111" stroke-width="0.25">0.01</text>
<line x1="548.6" y1="478.8" x2="552.6" y2="478.8" stroke="#111" stroke-width="1.3" />
<text x="546.1" y="483.1" font-size="11.6" text-anchor="end" fill="#111" stroke="#111" stroke-width="0.25">0.02</text>
<line x1="548.6" y1="445" x2="552.6" y2="445" stroke="#111" stroke-width="1.3" />
<text x="546.1" y="449.3" font-size="11.6" text-anchor="end" fill="#111" stroke="#111" stroke-width="0.25">0.03</text>
<line x1="548.6" y1="410.7" x2="552.6" y2="410.7" stroke="#111" stroke-width="1.3" />
<text x="546.1" y="415" font-size="11.6" text-anchor="end" fill="#111" stroke="#111" stroke-width="0.25">0.04</text>
<line x1="567.55" y1="546.6" x2="567.55" y2="550.6" stroke="#111" stroke-width="1.3" />
<text x="571.45" y="553" font-size="11.2" text-anchor="end" fill="#111" stroke="#111" stroke-width="0.25" transform="rotate(-90 571.45 553)">ctrl</text>
<line x1="587.4" y1="546.6" x2="587.4" y2="550.6" stroke="#111" stroke-width="1.3" />
<text x="591.3" y="553" font-size="11.2" text-anchor="end" fill="#111" stroke="#111" stroke-width="0.25" transform="rotate(-90 591.3 553)">Rt_meta-</text>
<line x1="606.95" y1="546.6" x2="606.95" y2="550.6" stroke="#111" stroke-width="1.3" />
<text x="610.85" y="553" font-size="11.2" text-anchor="end" fill="#111" stroke="#111" stroke-width="0.25" transform="rotate(-90 610.85 553)">Rt_meta+</text>
<line x1="626.85" y1="546.6" x2="626.85" y2="550.6" stroke="#111" stroke-width="1.3" />
<text x="630.75" y="553" font-size="11.2" text-anchor="end" fill="#111" stroke="#111" stroke-width="0.25" transform="rotate(-90 630.75 553)">Lt</text>
<text x="597.45" y="621" font-size="10.8" text-anchor="middle" fill="#111" stroke="#111" stroke-width="0.25">SLN</text>
<text x="598.3" y="388.8" font-size="13.9" text-anchor="middle" fill="#111" stroke="#111" stroke-width="0.25" font-style="italic">Gadd45b</text>
<text x="512.2" y="483.2" font-size="11.4" text-anchor="middle" textLength="114" lengthAdjust="spacingAndGlyphs" fill="#111" stroke="#111" stroke-width="0.25" transform="rotate(-90 512.2 483.2)">Relative expression level</text>
<path d="M567.4 417.1 L567.4 413.6 L627.6 413.6 L627.6 416.6" fill="none" stroke="#3a3a3a" stroke-width="0.95"/>
<text x="592.7" y="411.8" font-size="11" text-anchor="middle" fill="#1a1a1a" stroke="#1a1a1a" stroke-width="0.25" textLength="9.8" lengthAdjust="spacingAndGlyphs">ns</text>
<path d="M567.4 428.9 L567.4 425.4 L608 425.4 L608 428.2" fill="none" stroke="#3a3a3a" stroke-width="0.95"/>
<text x="587" y="423" font-size="11" text-anchor="middle" fill="#1a1a1a" stroke="#1a1a1a" stroke-width="0.25" textLength="9.8" lengthAdjust="spacingAndGlyphs">ns</text>
<path d="M567.4 452.4 L567.4 438.2 L608 438.2 L608 440.8" fill="none" stroke="#3a3a3a" stroke-width="0.95"/>
<line x1="587.5" y1="438.2" x2="587.5" y2="440.8" stroke="#333" stroke-width="1" />
<text x="578" y="436" font-size="11" text-anchor="middle" fill="#1a1a1a" stroke="#1a1a1a" stroke-width="0.25" textLength="9.8" lengthAdjust="spacingAndGlyphs">ns</text>
<text x="597.2" y="436" font-size="11" text-anchor="middle" fill="#1a1a1a" stroke="#1a1a1a" stroke-width="0.25" textLength="9.8" lengthAdjust="spacingAndGlyphs">ns</text>
<path d="M711 546 L711 501 L723.8 501 L723.8 546" fill="#fff" stroke="#111" stroke-width="1.6"/>
<path d="M730.6 546 L730.6 454.8 L743.6 454.8 L743.6 546" fill="#fff" stroke="#f81414" stroke-width="1.6"/>
<path d="M750.4 546 L750.4 455.9 L763.5 455.9 L763.5 546" fill="#fff" stroke="#f81414" stroke-width="1.6"/>
<path d="M770 546 L770 503.4 L783.1 503.4 L783.1 546" fill="#fff" stroke="#f81414" stroke-width="1.6"/>
<line x1="717.4" y1="495" x2="717.4" y2="506" stroke="#111" stroke-width="1.4" />
<line x1="713.4" y1="495" x2="721.4" y2="495" stroke="#111" stroke-width="1.4" />
<line x1="713.4" y1="506" x2="721.4" y2="506" stroke="#111" stroke-width="1.4" />
<line x1="737.1" y1="447" x2="737.1" y2="461" stroke="#f81414" stroke-width="1.4" />
<line x1="733.1" y1="447" x2="741.1" y2="447" stroke="#f81414" stroke-width="1.4" />
<line x1="733.1" y1="461" x2="741.1" y2="461" stroke="#f81414" stroke-width="1.4" />
<line x1="756.95" y1="440" x2="756.95" y2="470" stroke="#f81414" stroke-width="1.4" />
<line x1="752.95" y1="440" x2="760.95" y2="440" stroke="#f81414" stroke-width="1.4" />
<line x1="752.95" y1="470" x2="760.95" y2="470" stroke="#f81414" stroke-width="1.4" />
<line x1="776.55" y1="498" x2="776.55" y2="507" stroke="#f81414" stroke-width="1.4" />
<line x1="772.55" y1="498" x2="780.55" y2="498" stroke="#f81414" stroke-width="1.4" />
<line x1="772.55" y1="507" x2="780.55" y2="507" stroke="#f81414" stroke-width="1.4" />
<circle cx="712.4" cy="491.8" r="2.85" fill="#000"/>
<circle cx="723" cy="491.8" r="2.85" fill="#000"/>
<circle cx="717.8" cy="497.9" r="2.85" fill="#000"/>
<circle cx="717.8" cy="506.5" r="2.85" fill="#000"/>
<circle cx="717.8" cy="512.6" r="2.85" fill="#000"/>
<circle cx="737" cy="433.2" r="2.85" fill="#f00000"/>
<circle cx="732" cy="442.9" r="2.85" fill="#f00000"/>
<circle cx="742.2" cy="447.9" r="2.85" fill="#f00000"/>
<circle cx="737" cy="457.4" r="2.85" fill="#f00000"/>
<circle cx="737" cy="465.9" r="2.85" fill="#f00000"/>
<circle cx="737" cy="474.5" r="2.85" fill="#f00000"/>
<circle cx="756.8" cy="440" r="2.85" fill="#f00000"/>
<circle cx="756.8" cy="469.7" r="2.85" fill="#f00000"/>
<circle cx="771.9" cy="494.8" r="2.85" fill="#f00000"/>
<circle cx="777.1" cy="495.9" r="2.85" fill="#f00000"/>
<circle cx="781.6" cy="497.9" r="2.85" fill="#f00000"/>
<circle cx="771.9" cy="503.1" r="2.85" fill="#f00000"/>
<circle cx="781" cy="503" r="2.85" fill="#f00000"/>
<circle cx="772.6" cy="511.7" r="2.85" fill="#f00000"/>
<circle cx="780" cy="510.5" r="2.85" fill="#f00000"/>
<circle cx="777" cy="507" r="2.85" fill="#f00000"/>
<line x1="701.6" y1="408" x2="701.6" y2="546.6" stroke="#111" stroke-width="1.6" />
<line x1="700.9" y1="546" x2="792.9" y2="546" stroke="#111" stroke-width="1.6" />
<line x1="697.6" y1="546" x2="701.6" y2="546" stroke="#111" stroke-width="1.3" />
<text x="695.1" y="550.3" font-size="11.6" text-anchor="end" fill="#111" stroke="#111" stroke-width="0.25">0.0</text>
<line x1="697.6" y1="518.4" x2="701.6" y2="518.4" stroke="#111" stroke-width="1.3" />
<text x="695.1" y="522.7" font-size="11.6" text-anchor="end" fill="#111" stroke="#111" stroke-width="0.25">0.2</text>
<line x1="697.6" y1="491.4" x2="701.6" y2="491.4" stroke="#111" stroke-width="1.3" />
<text x="695.1" y="495.7" font-size="11.6" text-anchor="end" fill="#111" stroke="#111" stroke-width="0.25">0.4</text>
<line x1="697.6" y1="464" x2="701.6" y2="464" stroke="#111" stroke-width="1.3" />
<text x="695.1" y="468.3" font-size="11.6" text-anchor="end" fill="#111" stroke="#111" stroke-width="0.25">0.6</text>
<line x1="697.6" y1="436.6" x2="701.6" y2="436.6" stroke="#111" stroke-width="1.3" />
<text x="695.1" y="440.9" font-size="11.6" text-anchor="end" fill="#111" stroke="#111" stroke-width="0.25">0.8</text>
<line x1="697.6" y1="408.5" x2="701.6" y2="408.5" stroke="#111" stroke-width="1.3" />
<text x="695.1" y="412.8" font-size="11.6" text-anchor="end" fill="#111" stroke="#111" stroke-width="0.25">1.0</text>
<line x1="717.4" y1="546" x2="717.4" y2="550" stroke="#111" stroke-width="1.3" />
<text x="721.3" y="553" font-size="11.2" text-anchor="end" fill="#111" stroke="#111" stroke-width="0.25" transform="rotate(-90 721.3 553)">ctrl</text>
<line x1="737.1" y1="546" x2="737.1" y2="550" stroke="#111" stroke-width="1.3" />
<text x="741" y="553" font-size="11.2" text-anchor="end" fill="#111" stroke="#111" stroke-width="0.25" transform="rotate(-90 741 553)">Rt_meta-</text>
<line x1="756.95" y1="546" x2="756.95" y2="550" stroke="#111" stroke-width="1.3" />
<text x="760.85" y="553" font-size="11.2" text-anchor="end" fill="#111" stroke="#111" stroke-width="0.25" transform="rotate(-90 760.85 553)">Rt_meta+</text>
<line x1="776.55" y1="546" x2="776.55" y2="550" stroke="#111" stroke-width="1.3" />
<text x="780.45" y="553" font-size="11.2" text-anchor="end" fill="#111" stroke="#111" stroke-width="0.25" transform="rotate(-90 780.45 553)">Lt</text>
<text x="747.05" y="621" font-size="10.8" text-anchor="middle" fill="#111" stroke="#111" stroke-width="0.25">SLN</text>
<text x="747.6" y="389.7" font-size="13.9" text-anchor="middle" fill="#111" stroke="#111" stroke-width="0.25" font-style="italic">Ccl19</text>
<text x="668.4" y="483.2" font-size="11.4" text-anchor="middle" textLength="114" lengthAdjust="spacingAndGlyphs" fill="#111" stroke="#111" stroke-width="0.25" transform="rotate(-90 668.4 483.2)">Relative expression level</text>
<path d="M717.1 404.7 L717.1 401.2 L777.6 401.2 L777.6 404.5" fill="none" stroke="#3a3a3a" stroke-width="0.95"/>
<text x="745.2" y="399.4" font-size="11" text-anchor="middle" fill="#1a1a1a" stroke="#1a1a1a" stroke-width="0.25" textLength="9.8" lengthAdjust="spacingAndGlyphs">ns</text>
<path d="M717.1 416.5 L717.1 413 L757.1 413 L757.1 415" fill="none" stroke="#3a3a3a" stroke-width="0.95"/>
<polygon points="733.00,408.00 733.72,409.11 735.00,409.45 734.16,410.48 734.23,411.80 733.00,411.32 731.77,411.80 731.84,410.48 731.00,409.45 732.28,409.11" fill="#222"/>
<polygon points="739.30,408.00 740.02,409.11 741.30,409.45 740.46,410.48 740.53,411.80 739.30,411.32 738.07,411.80 738.14,410.48 737.30,409.45 738.58,409.11" fill="#222"/>
<polygon points="745.70,408.00 746.42,409.11 747.70,409.45 746.86,410.48 746.93,411.80 745.70,411.32 744.47,411.80 744.54,410.48 743.70,409.45 744.98,409.11" fill="#222"/>
<path d="M717.1 440.3 L717.1 425.9 L757.5 425.9 L757.5 428" fill="none" stroke="#3a3a3a" stroke-width="0.95"/>
<line x1="736.8" y1="425.9" x2="736.8" y2="427.6" stroke="#333" stroke-width="1" />
<polygon points="722.10,420.00 722.82,421.11 724.10,421.45 723.26,422.48 723.33,423.80 722.10,423.32 720.87,423.80 720.94,422.48 720.10,421.45 721.38,421.11" fill="#222"/>
<polygon points="728.00,420.00 728.72,421.11 730.00,421.45 729.16,422.48 729.23,423.80 728.00,423.32 726.77,423.80 726.84,422.48 726.00,421.45 727.28,421.11" fill="#222"/>
<polygon points="734.40,420.00 735.12,421.11 736.40,421.45 735.56,422.48 735.63,423.80 734.40,423.32 733.17,423.80 733.24,422.48 732.40,421.45 733.68,421.11" fill="#222"/>
<text x="746.7" y="424.5" font-size="11" text-anchor="middle" fill="#1a1a1a" stroke="#1a1a1a" stroke-width="0.25" textLength="9.8" lengthAdjust="spacingAndGlyphs">ns</text>
<path d="M81.1 871.5 L81.1 780.5 L108.5 780.5 L108.5 871.5" fill="#fff" stroke="#444" stroke-width="1.1"/>
<path d="M125.7 871.5 L125.7 816.1 L153.2 816.1 L153.2 871.5" fill="#fff" stroke="#444" stroke-width="1.1"/>
<line x1="94.8" y1="765.2" x2="94.8" y2="795.2" stroke="#222" stroke-width="1.2" />
<line x1="87.5" y1="765.2" x2="102.1" y2="765.2" stroke="#222" stroke-width="1.2" />
<line x1="87.5" y1="795.2" x2="102.1" y2="795.2" stroke="#222" stroke-width="1.2" />
<line x1="139.45" y1="799.2" x2="139.45" y2="832.5" stroke="#222" stroke-width="1.2" />
<line x1="132.15" y1="799.2" x2="146.75" y2="799.2" stroke="#222" stroke-width="1.2" />
<line x1="132.15" y1="832.5" x2="146.75" y2="832.5" stroke="#222" stroke-width="1.2" />
<circle cx="95.2" cy="753.1" r="2.35" fill="#000"/>
<circle cx="95.2" cy="783.4" r="2.35" fill="#000"/>
<circle cx="95.2" cy="804.8" r="2.35" fill="#000"/>
<circle cx="139.3" cy="795.4" r="2.35" fill="#000"/>
<circle cx="139.3" cy="802.7" r="2.35" fill="#000"/>
<circle cx="139.3" cy="848.8" r="2.35" fill="#000"/>
<line x1="66" y1="717.1" x2="66" y2="872" stroke="#6e6e6e" stroke-width="1.3" />
<line x1="65.4" y1="871.5" x2="167.5" y2="871.5" stroke="#6e6e6e" stroke-width="1.3" />
<line x1="61.5" y1="871.5" x2="66" y2="871.5" stroke="#6e6e6e" stroke-width="1.2" />
<text x="60.5" y="875.6" font-size="11.3" text-anchor="end" fill="#111" stroke="#111" stroke-width="0.25">0.000</text>
<line x1="61.5" y1="833" x2="66" y2="833" stroke="#6e6e6e" stroke-width="1.2" />
<text x="60.5" y="837.1" font-size="11.3" text-anchor="end" fill="#111" stroke="#111" stroke-width="0.25">0.002</text>
<line x1="61.5" y1="794.7" x2="66" y2="794.7" stroke="#6e6e6e" stroke-width="1.2" />
<text x="60.5" y="798.8" font-size="11.3" text-anchor="end" fill="#111" stroke="#111" stroke-width="0.25">0.004</text>
<line x1="61.5" y1="756.4" x2="66" y2="756.4" stroke="#6e6e6e" stroke-width="1.2" />
<text x="60.5" y="760.5" font-size="11.3" text-anchor="end" fill="#111" stroke="#111" stroke-width="0.25">0.006</text>
<line x1="61.5" y1="717.5" x2="66" y2="717.5" stroke="#6e6e6e" stroke-width="1.2" />
<text x="60.5" y="721.6" font-size="11.3" text-anchor="end" fill="#111" stroke="#111" stroke-width="0.25">0.008</text>
<line x1="94.8" y1="871.5" x2="94.8" y2="875.5" stroke="#6e6e6e" stroke-width="1.2" />
<text x="94.8" y="886.5" font-size="11.5" text-anchor="middle" fill="#111" stroke="#111" stroke-width="0.25">ctrl</text>
<line x1="139.45" y1="871.5" x2="139.45" y2="875.5" stroke="#6e6e6e" stroke-width="1.2" />
<text x="139.45" y="886.5" font-size="11.5" text-anchor="middle" fill="#111" stroke="#111" stroke-width="0.25">B16F10</text>
<path d="M95.2 739.3 L95.2 729.7 L139.3 729.7 L139.3 758.2" fill="none" stroke="#3c3c3c" stroke-width="1.25"/>
<text x="117.4" y="721.6" font-size="12" text-anchor="middle" fill="#222" stroke="#222" stroke-width="0.25">ns</text>
<text x="117.5" y="700.6" font-size="14.5" text-anchor="middle" fill="#111" stroke="#111" stroke-width="0.25" font-style="italic">Kcne4</text>
<text x="23.5" y="794.5" font-size="12.25" text-anchor="middle" fill="#111" stroke="#111" stroke-width="0.25" transform="rotate(-90 23.5 794.5)">Relative expression level</text>
<path d="M250.2 871.5 L250.2 792.7 L277.7 792.7 L277.7 871.5" fill="#fff" stroke="#444" stroke-width="1.1"/>
<path d="M293.8 871.5 L293.8 765.2 L321.7 765.2 L321.7 871.5" fill="#fff" stroke="#444" stroke-width="1.1"/>
<line x1="263.95" y1="785.4" x2="263.95" y2="798.5" stroke="#222" stroke-width="1.2" />
<line x1="256.65" y1="785.4" x2="271.25" y2="785.4" stroke="#222" stroke-width="1.2" />
<line x1="256.65" y1="798.5" x2="271.25" y2="798.5" stroke="#222" stroke-width="1.2" />
<line x1="307.75" y1="749.3" x2="307.75" y2="780" stroke="#222" stroke-width="1.2" />
<line x1="300.45" y1="749.3" x2="315.05" y2="749.3" stroke="#222" stroke-width="1.2" />
<line x1="300.45" y1="780" x2="315.05" y2="780" stroke="#222" stroke-width="1.2" />
<circle cx="263.6" cy="779.1" r="2.35" fill="#000"/>
<circle cx="263.6" cy="794.2" r="2.35" fill="#000"/>
<circle cx="263.6" cy="801.7" r="2.35" fill="#000"/>
<circle cx="307.6" cy="736" r="2.35" fill="#000"/>
<circle cx="307.6" cy="768.7" r="2.35" fill="#000"/>
<circle cx="307.6" cy="789.1" r="2.35" fill="#000"/>
<line x1="234.8" y1="716.7" x2="234.8" y2="872" stroke="#6e6e6e" stroke-width="1.3" />
<line x1="234.2" y1="871.5" x2="336.9" y2="871.5" stroke="#6e6e6e" stroke-width="1.3" />
<line x1="230.3" y1="871.5" x2="234.8" y2="871.5" stroke="#6e6e6e" stroke-width="1.2" />
<text x="229.3" y="875.6" font-size="11.3" text-anchor="end" fill="#111" stroke="#111" stroke-width="0.25">0.00</text>
<line x1="230.3" y1="820.6" x2="234.8" y2="820.6" stroke="#6e6e6e" stroke-width="1.2" />
<text x="229.3" y="824.7" font-size="11.3" text-anchor="end" fill="#111" stroke="#111" stroke-width="0.25">0.02</text>
<line x1="230.3" y1="769" x2="234.8" y2="769" stroke="#6e6e6e" stroke-width="1.2" />
<text x="229.3" y="773.1" font-size="11.3" text-anchor="end" fill="#111" stroke="#111" stroke-width="0.25">0.04</text>
<line x1="230.3" y1="717.1" x2="234.8" y2="717.1" stroke="#6e6e6e" stroke-width="1.2" />
<text x="229.3" y="721.2" font-size="11.3" text-anchor="end" fill="#111" stroke="#111" stroke-width="0.25">0.06</text>
<line x1="263.95" y1="871.5" x2="263.95" y2="875.5" stroke="#6e6e6e" stroke-width="1.2" />
<text x="263.95" y="886.5" font-size="11.5" text-anchor="middle" fill="#111" stroke="#111" stroke-width="0.25">ctrl</text>
<line x1="307.75" y1="871.5" x2="307.75" y2="875.5" stroke="#6e6e6e" stroke-width="1.2" />
<text x="307.75" y="886.5" font-size="11.5" text-anchor="middle" fill="#111" stroke="#111" stroke-width="0.25">B16F10</text>
<path d="M264.3 751.9 L264.3 722.9 L307.9 722.9 L307.9 730.5" fill="none" stroke="#3c3c3c" stroke-width="1.25"/>
<text x="286" y="715.2" font-size="12" text-anchor="middle" fill="#222" stroke="#222" stroke-width="0.25">ns</text>
<text x="286" y="698.1" font-size="14.5" text-anchor="middle" fill="#111" stroke="#111" stroke-width="0.25" font-style="italic">Slc7a11</text>
<text x="199" y="794.5" font-size="12.25" text-anchor="middle" fill="#111" stroke="#111" stroke-width="0.25" transform="rotate(-90 199 794.5)">Relative expression level</text>
<path d="M421 871.5 L421 804.8 L448.9 804.8 L448.9 871.5" fill="#fff" stroke="#444" stroke-width="1.1"/>
<path d="M465 871.5 L465 746.8 L493 746.8 L493 871.5" fill="#fff" stroke="#444" stroke-width="1.1"/>
<line x1="434.95" y1="800.5" x2="434.95" y2="807.3" stroke="#222" stroke-width="1.2" />
<line x1="427.65" y1="800.5" x2="442.25" y2="800.5" stroke="#222" stroke-width="1.2" />
<line x1="427.65" y1="807.3" x2="442.25" y2="807.3" stroke="#222" stroke-width="1.2" />
<line x1="479" y1="741.8" x2="479" y2="751.1" stroke="#222" stroke-width="1.2" />
<line x1="471.7" y1="741.8" x2="486.3" y2="741.8" stroke="#222" stroke-width="1.2" />
<line x1="471.7" y1="751.1" x2="486.3" y2="751.1" stroke="#222" stroke-width="1.2" />
<circle cx="430.5" cy="800.5" r="2.35" fill="#000"/>
<circle cx="440.1" cy="802.2" r="2.35" fill="#000"/>
<circle cx="435" cy="809.3" r="2.35" fill="#000"/>
<circle cx="479.1" cy="738.5" r="2.35" fill="#000"/>
<circle cx="479.1" cy="746.3" r="2.35" fill="#000"/>
<circle cx="479.1" cy="754.1" r="2.35" fill="#000"/>
<line x1="406.1" y1="716.7" x2="406.1" y2="872" stroke="#6e6e6e" stroke-width="1.3" />
<line x1="405.5" y1="871.5" x2="507.4" y2="871.5" stroke="#6e6e6e" stroke-width="1.3" />
<line x1="401.6" y1="871.5" x2="406.1" y2="871.5" stroke="#6e6e6e" stroke-width="1.2" />
<text x="400.6" y="875.6" font-size="11.3" text-anchor="end" fill="#111" stroke="#111" stroke-width="0.25">0.0</text>
<line x1="401.6" y1="840.6" x2="406.1" y2="840.6" stroke="#6e6e6e" stroke-width="1.2" />
<text x="400.6" y="844.7" font-size="11.3" text-anchor="end" fill="#111" stroke="#111" stroke-width="0.25">0.1</text>
<line x1="401.6" y1="809.7" x2="406.1" y2="809.7" stroke="#6e6e6e" stroke-width="1.2" />
<text x="400.6" y="813.8" font-size="11.3" text-anchor="end" fill="#111" stroke="#111" stroke-width="0.25">0.2</text>
<line x1="401.6" y1="778.8" x2="406.1" y2="778.8" stroke="#6e6e6e" stroke-width="1.2" />
<text x="400.6" y="782.9" font-size="11.3" text-anchor="end" fill="#111" stroke="#111" stroke-width="0.25">0.3</text>
<line x1="401.6" y1="747.9" x2="406.1" y2="747.9" stroke="#6e6e6e" stroke-width="1.2" />
<text x="400.6" y="752" font-size="11.3" text-anchor="end" fill="#111" stroke="#111" stroke-width="0.25">0.4</text>
<line x1="401.6" y1="717.1" x2="406.1" y2="717.1" stroke="#6e6e6e" stroke-width="1.2" />
<text x="400.6" y="721.2" font-size="11.3" text-anchor="end" fill="#111" stroke="#111" stroke-width="0.25">0.5</text>
<line x1="434.95" y1="871.5" x2="434.95" y2="875.5" stroke="#6e6e6e" stroke-width="1.2" />
<text x="434.95" y="886.5" font-size="11.5" text-anchor="middle" fill="#111" stroke="#111" stroke-width="0.25">ctrl</text>
<line x1="479" y1="871.5" x2="479" y2="875.5" stroke="#6e6e6e" stroke-width="1.2" />
<text x="479" y="886.5" font-size="11.5" text-anchor="middle" fill="#111" stroke="#111" stroke-width="0.25">B16F10</text>
<path d="M433.6 779.6 L433.6 720.9 L478.9 720.9 L478.9 730.5" fill="none" stroke="#3c3c3c" stroke-width="1.25"/>
<polygon points="451.90,710.60 452.75,711.93 454.28,712.33 453.28,713.55 453.37,715.12 451.90,714.55 450.43,715.12 450.52,713.55 449.52,712.33 451.05,711.93" fill="#1a1a1a"/>
<polygon points="456.60,710.60 457.45,711.93 458.98,712.33 457.98,713.55 458.07,715.12 456.60,714.55 455.13,715.12 455.22,713.55 454.22,712.33 455.75,711.93" fill="#1a1a1a"/>
<polygon points="461.50,710.60 462.35,711.93 463.88,712.33 462.88,713.55 462.97,715.12 461.50,714.55 460.03,715.12 460.12,713.55 459.12,712.33 460.65,711.93" fill="#1a1a1a"/>
<text x="457.5" y="696.8" font-size="14.5" text-anchor="middle" fill="#111" stroke="#111" stroke-width="0.25" font-style="italic">Fscn1</text>
<text x="374.5" y="794.5" font-size="12.25" text-anchor="middle" fill="#111" stroke="#111" stroke-width="0.25" transform="rotate(-90 374.5 794.5)">Relative expression level</text>
<path d="M595.8 871.5 L595.8 778.1 L623.7 778.1 L623.7 871.5" fill="#fff" stroke="#444" stroke-width="1.1"/>
<path d="M639.8 871.5 L639.8 762.7 L667.3 762.7 L667.3 871.5" fill="#fff" stroke="#444" stroke-width="1.1"/>
<line x1="609.75" y1="774" x2="609.75" y2="779" stroke="#222" stroke-width="1.2" />
<line x1="602.45" y1="774" x2="617.05" y2="774" stroke="#222" stroke-width="1.2" />
<line x1="602.45" y1="779" x2="617.05" y2="779" stroke="#222" stroke-width="1.2" />
<line x1="653.55" y1="755.6" x2="653.55" y2="768.2" stroke="#222" stroke-width="1.2" />
<line x1="646.25" y1="755.6" x2="660.85" y2="755.6" stroke="#222" stroke-width="1.2" />
<line x1="646.25" y1="768.2" x2="660.85" y2="768.2" stroke="#222" stroke-width="1.2" />
<circle cx="609.9" cy="771.3" r="2.35" fill="#000"/>
<circle cx="604.8" cy="781.3" r="2.35" fill="#000"/>
<circle cx="614.2" cy="778.8" r="2.35" fill="#000"/>
<circle cx="648.2" cy="753.9" r="2.35" fill="#000"/>
<circle cx="658.2" cy="756.1" r="2.35" fill="#000"/>
<circle cx="653.2" cy="774" r="2.35" fill="#000"/>
<line x1="579.9" y1="718.2" x2="579.9" y2="872" stroke="#6e6e6e" stroke-width="1.3" />
<line x1="579.3" y1="871.5" x2="682.7" y2="871.5" stroke="#6e6e6e" stroke-width="1.3" />
<line x1="575.4" y1="871.5" x2="579.9" y2="871.5" stroke="#6e6e6e" stroke-width="1.2" />
<text x="574.4" y="875.6" font-size="11.3" text-anchor="end" fill="#111" stroke="#111" stroke-width="0.25">0.000</text>
<line x1="575.4" y1="833.2" x2="579.9" y2="833.2" stroke="#6e6e6e" stroke-width="1.2" />
<text x="574.4" y="837.3" font-size="11.3" text-anchor="end" fill="#111" stroke="#111" stroke-width="0.25">0.002</text>
<line x1="575.4" y1="795.2" x2="579.9" y2="795.2" stroke="#6e6e6e" stroke-width="1.2" />
<text x="574.4" y="799.3" font-size="11.3" text-anchor="end" fill="#111" stroke="#111" stroke-width="0.25">0.004</text>
<line x1="575.4" y1="757.4" x2="579.9" y2="757.4" stroke="#6e6e6e" stroke-width="1.2" />
<text x="574.4" y="761.5" font-size="11.3" text-anchor="end" fill="#111" stroke="#111" stroke-width="0.25">0.006</text>
<line x1="575.4" y1="718.6" x2="579.9" y2="718.6" stroke="#6e6e6e" stroke-width="1.2" />
<text x="574.4" y="722.7" font-size="11.3" text-anchor="end" fill="#111" stroke="#111" stroke-width="0.25">0.008</text>
<line x1="609.75" y1="871.5" x2="609.75" y2="875.5" stroke="#6e6e6e" stroke-width="1.2" />
<text x="609.75" y="886.5" font-size="11.5" text-anchor="middle" fill="#111" stroke="#111" stroke-width="0.25">ctrl</text>
<line x1="653.55" y1="871.5" x2="653.55" y2="875.5" stroke="#6e6e6e" stroke-width="1.2" />
<text x="653.55" y="886.5" font-size="11.5" text-anchor="middle" fill="#111" stroke="#111" stroke-width="0.25">B16F10</text>
<path d="M609.6 763.2 L609.6 731 L653.7 731 L653.7 741.3" fill="none" stroke="#3c3c3c" stroke-width="1.25"/>
<text x="632" y="723.7" font-size="12" text-anchor="middle" fill="#222" stroke="#222" stroke-width="0.25">ns</text>
<text x="632.4" y="699.8" font-size="14.5" text-anchor="middle" fill="#111" stroke="#111" stroke-width="0.25" font-style="italic">Gadd45b</text>
<text x="537.8" y="794.5" font-size="12.25" text-anchor="middle" fill="#111" stroke="#111" stroke-width="0.25" transform="rotate(-90 537.8 794.5)">Relative expression level</text>
</svg></body></html>
